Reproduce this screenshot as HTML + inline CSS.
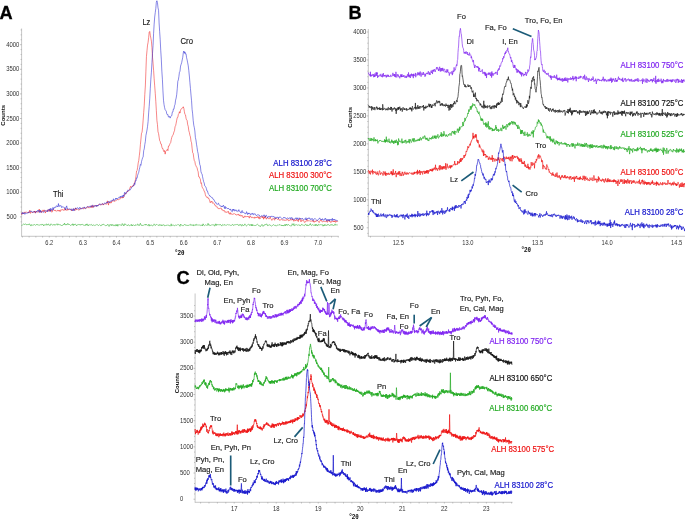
<!DOCTYPE html>
<html><head><meta charset="utf-8"><title>XRD patterns</title>
<style>
html,body{margin:0;padding:0;background:#fff;width:685px;height:519px;overflow:hidden;font-family:"Liberation Sans",sans-serif;}
svg{display:block;position:absolute;left:0;top:0;will-change:transform;}
</style></head><body>
<svg width="685" height="519" viewBox="0 0 685 519" font-family='"Liberation Sans", sans-serif'><line x1="21.60" y1="28.50" x2="21.60" y2="236.80" stroke="#b8b8b8" stroke-width="0.8"/><line x1="21.60" y1="236.30" x2="338.70" y2="236.30" stroke="#b8b8b8" stroke-width="0.8"/><line x1="20.60" y1="221.82" x2="21.60" y2="221.82" stroke="#888" stroke-width="0.5"/><line x1="20.00" y1="216.90" x2="21.60" y2="216.90" stroke="#888" stroke-width="0.5"/><line x1="20.60" y1="211.98" x2="21.60" y2="211.98" stroke="#888" stroke-width="0.5"/><line x1="20.60" y1="207.06" x2="21.60" y2="207.06" stroke="#888" stroke-width="0.5"/><line x1="20.60" y1="202.14" x2="21.60" y2="202.14" stroke="#888" stroke-width="0.5"/><line x1="20.60" y1="197.22" x2="21.60" y2="197.22" stroke="#888" stroke-width="0.5"/><line x1="20.00" y1="192.30" x2="21.60" y2="192.30" stroke="#888" stroke-width="0.5"/><line x1="20.60" y1="187.38" x2="21.60" y2="187.38" stroke="#888" stroke-width="0.5"/><line x1="20.60" y1="182.46" x2="21.60" y2="182.46" stroke="#888" stroke-width="0.5"/><line x1="20.60" y1="177.54" x2="21.60" y2="177.54" stroke="#888" stroke-width="0.5"/><line x1="20.60" y1="172.62" x2="21.60" y2="172.62" stroke="#888" stroke-width="0.5"/><line x1="20.00" y1="167.70" x2="21.60" y2="167.70" stroke="#888" stroke-width="0.5"/><line x1="20.60" y1="162.78" x2="21.60" y2="162.78" stroke="#888" stroke-width="0.5"/><line x1="20.60" y1="157.86" x2="21.60" y2="157.86" stroke="#888" stroke-width="0.5"/><line x1="20.60" y1="152.94" x2="21.60" y2="152.94" stroke="#888" stroke-width="0.5"/><line x1="20.60" y1="148.02" x2="21.60" y2="148.02" stroke="#888" stroke-width="0.5"/><line x1="20.00" y1="143.10" x2="21.60" y2="143.10" stroke="#888" stroke-width="0.5"/><line x1="20.60" y1="138.18" x2="21.60" y2="138.18" stroke="#888" stroke-width="0.5"/><line x1="20.60" y1="133.26" x2="21.60" y2="133.26" stroke="#888" stroke-width="0.5"/><line x1="20.60" y1="128.34" x2="21.60" y2="128.34" stroke="#888" stroke-width="0.5"/><line x1="20.60" y1="123.42" x2="21.60" y2="123.42" stroke="#888" stroke-width="0.5"/><line x1="20.00" y1="118.50" x2="21.60" y2="118.50" stroke="#888" stroke-width="0.5"/><line x1="20.60" y1="113.58" x2="21.60" y2="113.58" stroke="#888" stroke-width="0.5"/><line x1="20.60" y1="108.66" x2="21.60" y2="108.66" stroke="#888" stroke-width="0.5"/><line x1="20.60" y1="103.74" x2="21.60" y2="103.74" stroke="#888" stroke-width="0.5"/><line x1="20.60" y1="98.82" x2="21.60" y2="98.82" stroke="#888" stroke-width="0.5"/><line x1="20.00" y1="93.90" x2="21.60" y2="93.90" stroke="#888" stroke-width="0.5"/><line x1="20.60" y1="88.98" x2="21.60" y2="88.98" stroke="#888" stroke-width="0.5"/><line x1="20.60" y1="84.06" x2="21.60" y2="84.06" stroke="#888" stroke-width="0.5"/><line x1="20.60" y1="79.14" x2="21.60" y2="79.14" stroke="#888" stroke-width="0.5"/><line x1="20.60" y1="74.22" x2="21.60" y2="74.22" stroke="#888" stroke-width="0.5"/><line x1="20.00" y1="69.30" x2="21.60" y2="69.30" stroke="#888" stroke-width="0.5"/><line x1="20.60" y1="64.38" x2="21.60" y2="64.38" stroke="#888" stroke-width="0.5"/><line x1="20.60" y1="59.46" x2="21.60" y2="59.46" stroke="#888" stroke-width="0.5"/><line x1="20.60" y1="54.54" x2="21.60" y2="54.54" stroke="#888" stroke-width="0.5"/><line x1="20.60" y1="49.62" x2="21.60" y2="49.62" stroke="#888" stroke-width="0.5"/><line x1="20.00" y1="44.70" x2="21.60" y2="44.70" stroke="#888" stroke-width="0.5"/><line x1="20.60" y1="39.78" x2="21.60" y2="39.78" stroke="#888" stroke-width="0.5"/><line x1="20.60" y1="34.86" x2="21.60" y2="34.86" stroke="#888" stroke-width="0.5"/><line x1="20.60" y1="29.94" x2="21.60" y2="29.94" stroke="#888" stroke-width="0.5"/><text x="6.20" y="194.40" font-size="6.70" fill="#333" font-weight="normal" text-anchor="start" textLength="13.20" lengthAdjust="spacingAndGlyphs" >1000</text><text x="6.20" y="169.80" font-size="6.70" fill="#333" font-weight="normal" text-anchor="start" textLength="13.20" lengthAdjust="spacingAndGlyphs" >1500</text><text x="6.20" y="145.20" font-size="6.70" fill="#333" font-weight="normal" text-anchor="start" textLength="13.20" lengthAdjust="spacingAndGlyphs" >2000</text><text x="6.20" y="120.60" font-size="6.70" fill="#333" font-weight="normal" text-anchor="start" textLength="13.20" lengthAdjust="spacingAndGlyphs" >2500</text><text x="6.20" y="96.00" font-size="6.70" fill="#333" font-weight="normal" text-anchor="start" textLength="13.20" lengthAdjust="spacingAndGlyphs" >3000</text><text x="6.20" y="71.40" font-size="6.70" fill="#333" font-weight="normal" text-anchor="start" textLength="13.20" lengthAdjust="spacingAndGlyphs" >3500</text><text x="6.20" y="46.80" font-size="6.70" fill="#333" font-weight="normal" text-anchor="start" textLength="13.20" lengthAdjust="spacingAndGlyphs" >4000</text><text x="6.60" y="219.00" font-size="6.70" fill="#333" font-weight="normal" text-anchor="start" textLength="9.90" lengthAdjust="spacingAndGlyphs" >500</text><line x1="22.42" y1="236.30" x2="22.42" y2="237.50" stroke="#888" stroke-width="0.5"/><line x1="29.14" y1="236.30" x2="29.14" y2="237.50" stroke="#888" stroke-width="0.5"/><line x1="35.86" y1="236.30" x2="35.86" y2="237.50" stroke="#888" stroke-width="0.5"/><line x1="42.58" y1="236.30" x2="42.58" y2="237.50" stroke="#888" stroke-width="0.5"/><line x1="49.30" y1="236.30" x2="49.30" y2="237.50" stroke="#888" stroke-width="0.5"/><line x1="56.02" y1="236.30" x2="56.02" y2="237.50" stroke="#888" stroke-width="0.5"/><line x1="62.74" y1="236.30" x2="62.74" y2="237.50" stroke="#888" stroke-width="0.5"/><line x1="69.46" y1="236.30" x2="69.46" y2="237.50" stroke="#888" stroke-width="0.5"/><line x1="76.18" y1="236.30" x2="76.18" y2="237.50" stroke="#888" stroke-width="0.5"/><line x1="82.90" y1="236.30" x2="82.90" y2="237.50" stroke="#888" stroke-width="0.5"/><line x1="89.62" y1="236.30" x2="89.62" y2="237.50" stroke="#888" stroke-width="0.5"/><line x1="96.34" y1="236.30" x2="96.34" y2="237.50" stroke="#888" stroke-width="0.5"/><line x1="103.06" y1="236.30" x2="103.06" y2="237.50" stroke="#888" stroke-width="0.5"/><line x1="109.78" y1="236.30" x2="109.78" y2="237.50" stroke="#888" stroke-width="0.5"/><line x1="116.50" y1="236.30" x2="116.50" y2="237.50" stroke="#888" stroke-width="0.5"/><line x1="123.22" y1="236.30" x2="123.22" y2="237.50" stroke="#888" stroke-width="0.5"/><line x1="129.94" y1="236.30" x2="129.94" y2="237.50" stroke="#888" stroke-width="0.5"/><line x1="136.66" y1="236.30" x2="136.66" y2="237.50" stroke="#888" stroke-width="0.5"/><line x1="143.38" y1="236.30" x2="143.38" y2="237.50" stroke="#888" stroke-width="0.5"/><line x1="150.10" y1="236.30" x2="150.10" y2="237.50" stroke="#888" stroke-width="0.5"/><line x1="156.82" y1="236.30" x2="156.82" y2="237.50" stroke="#888" stroke-width="0.5"/><line x1="163.54" y1="236.30" x2="163.54" y2="237.50" stroke="#888" stroke-width="0.5"/><line x1="170.26" y1="236.30" x2="170.26" y2="237.50" stroke="#888" stroke-width="0.5"/><line x1="176.98" y1="236.30" x2="176.98" y2="237.50" stroke="#888" stroke-width="0.5"/><line x1="183.70" y1="236.30" x2="183.70" y2="237.50" stroke="#888" stroke-width="0.5"/><line x1="190.42" y1="236.30" x2="190.42" y2="237.50" stroke="#888" stroke-width="0.5"/><line x1="197.14" y1="236.30" x2="197.14" y2="237.50" stroke="#888" stroke-width="0.5"/><line x1="203.86" y1="236.30" x2="203.86" y2="237.50" stroke="#888" stroke-width="0.5"/><line x1="210.58" y1="236.30" x2="210.58" y2="237.50" stroke="#888" stroke-width="0.5"/><line x1="217.30" y1="236.30" x2="217.30" y2="237.50" stroke="#888" stroke-width="0.5"/><line x1="224.02" y1="236.30" x2="224.02" y2="237.50" stroke="#888" stroke-width="0.5"/><line x1="230.74" y1="236.30" x2="230.74" y2="237.50" stroke="#888" stroke-width="0.5"/><line x1="237.46" y1="236.30" x2="237.46" y2="237.50" stroke="#888" stroke-width="0.5"/><line x1="244.18" y1="236.30" x2="244.18" y2="237.50" stroke="#888" stroke-width="0.5"/><line x1="250.90" y1="236.30" x2="250.90" y2="237.50" stroke="#888" stroke-width="0.5"/><line x1="257.62" y1="236.30" x2="257.62" y2="237.50" stroke="#888" stroke-width="0.5"/><line x1="264.34" y1="236.30" x2="264.34" y2="237.50" stroke="#888" stroke-width="0.5"/><line x1="271.06" y1="236.30" x2="271.06" y2="237.50" stroke="#888" stroke-width="0.5"/><line x1="277.78" y1="236.30" x2="277.78" y2="237.50" stroke="#888" stroke-width="0.5"/><line x1="284.50" y1="236.30" x2="284.50" y2="237.50" stroke="#888" stroke-width="0.5"/><line x1="291.22" y1="236.30" x2="291.22" y2="237.50" stroke="#888" stroke-width="0.5"/><line x1="297.94" y1="236.30" x2="297.94" y2="237.50" stroke="#888" stroke-width="0.5"/><line x1="304.66" y1="236.30" x2="304.66" y2="237.50" stroke="#888" stroke-width="0.5"/><line x1="311.38" y1="236.30" x2="311.38" y2="237.50" stroke="#888" stroke-width="0.5"/><line x1="318.10" y1="236.30" x2="318.10" y2="237.50" stroke="#888" stroke-width="0.5"/><line x1="324.82" y1="236.30" x2="324.82" y2="237.50" stroke="#888" stroke-width="0.5"/><line x1="331.54" y1="236.30" x2="331.54" y2="237.50" stroke="#888" stroke-width="0.5"/><line x1="338.26" y1="236.30" x2="338.26" y2="237.50" stroke="#888" stroke-width="0.5"/><text x="49.30" y="244.80" font-size="6.70" fill="#333" font-weight="normal" text-anchor="middle" textLength="7.90" lengthAdjust="spacingAndGlyphs" >6.2</text><text x="82.90" y="244.80" font-size="6.70" fill="#333" font-weight="normal" text-anchor="middle" textLength="7.90" lengthAdjust="spacingAndGlyphs" >6.3</text><text x="116.50" y="244.80" font-size="6.70" fill="#333" font-weight="normal" text-anchor="middle" textLength="7.90" lengthAdjust="spacingAndGlyphs" >6.4</text><text x="150.10" y="244.80" font-size="6.70" fill="#333" font-weight="normal" text-anchor="middle" textLength="7.90" lengthAdjust="spacingAndGlyphs" >6.5</text><text x="183.70" y="244.80" font-size="6.70" fill="#333" font-weight="normal" text-anchor="middle" textLength="7.90" lengthAdjust="spacingAndGlyphs" >6.6</text><text x="217.30" y="244.80" font-size="6.70" fill="#333" font-weight="normal" text-anchor="middle" textLength="7.90" lengthAdjust="spacingAndGlyphs" >6.7</text><text x="250.90" y="244.80" font-size="6.70" fill="#333" font-weight="normal" text-anchor="middle" textLength="7.90" lengthAdjust="spacingAndGlyphs" >6.8</text><text x="284.50" y="244.80" font-size="6.70" fill="#333" font-weight="normal" text-anchor="middle" textLength="7.90" lengthAdjust="spacingAndGlyphs" >6.9</text><text x="318.10" y="244.80" font-size="6.70" fill="#333" font-weight="normal" text-anchor="middle" textLength="7.90" lengthAdjust="spacingAndGlyphs" >7.0</text><text x="179.80" y="255.00" font-size="6.30" fill="#111" font-weight="bold" text-anchor="middle" >°2θ</text><text x="5.20" y="115.30" font-size="6.00" fill="#111" font-weight="bold" text-anchor="middle" transform="rotate(-90 5.2 115.3)">Counts</text><text x="-0.50" y="18.90" font-size="18.20" fill="#000" font-weight="bold" text-anchor="start" stroke="#000" stroke-width="0.3">A</text><path d="M21.60 225.37L22.15 225.47L22.70 224.64L23.25 224.15L23.80 223.95L24.35 224.63L24.90 224.00L25.45 223.75L26.00 224.74L26.55 224.70L27.10 224.95L27.65 224.08L28.20 224.63L28.75 224.59L29.30 223.73L29.85 224.96L30.40 224.83L30.95 226.07L31.50 224.76L32.05 224.56L32.60 225.38L33.15 224.77L33.70 225.20L34.25 224.43L34.80 224.79L35.35 225.27L35.90 225.08L36.45 224.74L37.00 224.01L37.55 224.93L38.10 224.72L38.65 225.10L39.20 224.80L39.75 225.33L40.30 224.65L40.85 224.80L41.40 225.08L41.95 224.03L42.50 224.45L43.05 224.39L43.60 225.88L44.15 224.64L44.70 225.09L45.25 225.07L45.80 224.54L46.35 223.78L46.90 225.29L47.45 224.47L48.00 225.14L48.55 223.93L49.10 224.46L49.65 225.48L50.20 225.58L50.75 223.95L51.30 223.93L51.85 224.70L52.40 225.17L52.95 224.83L53.50 224.92L54.05 224.15L54.60 225.10L55.15 225.42L55.70 224.49L56.25 223.89L56.80 224.30L57.35 225.21L57.90 223.72L58.45 224.71L59.00 224.17L59.55 224.69L60.10 224.62L60.65 224.78L61.20 225.67L61.75 225.03L62.30 225.58L62.85 224.70L63.40 224.50L63.95 225.01L64.50 223.09L65.05 224.77L65.60 224.89L66.15 224.05L66.70 225.08L67.25 224.46L67.80 223.33L68.35 224.68L68.90 224.22L69.45 224.50L70.00 224.72L70.55 225.56L71.10 224.88L71.65 224.80L72.20 225.05L72.75 223.73L73.30 225.57L73.85 224.18L74.40 225.09L74.95 224.15L75.50 224.25L76.05 224.60L76.60 225.97L77.15 225.26L77.70 224.48L78.25 224.67L78.80 224.15L79.35 224.83L79.90 224.50L80.45 225.28L81.00 224.04L81.55 224.65L82.10 224.35L82.65 224.43L83.20 225.29L83.75 224.94L84.30 225.21L84.85 225.58L85.40 225.56L85.95 224.04L86.50 225.19L87.05 223.81L87.60 224.83L88.15 226.02L88.70 224.76L89.25 224.65L89.80 224.98L90.35 224.89L90.90 224.90L91.45 224.43L92.00 225.53L92.55 225.42L93.10 224.76L93.65 225.08L94.20 225.28L94.75 225.51L95.30 225.13L95.85 225.31L96.40 224.74L96.95 224.25L97.50 224.60L98.05 225.51L98.60 225.48L99.15 224.99L99.70 224.56L100.25 225.09L100.80 225.90L101.35 225.71L101.90 224.49L102.45 224.88L103.00 224.03L103.55 224.22L104.10 225.02L104.65 224.92L105.20 225.49L105.75 225.67L106.30 225.41L106.85 225.70L107.40 224.58L107.95 224.23L108.50 225.21L109.05 226.52L109.60 225.13L110.15 224.22L110.70 225.06L111.25 225.77L111.80 224.30L112.35 225.40L112.90 224.55L113.45 225.68L114.00 225.39L114.55 225.10L115.10 226.12L115.65 224.68L116.20 224.51L116.75 226.04L117.30 224.40L117.85 226.24L118.40 224.90L118.95 224.30L119.50 224.93L120.05 225.01L120.60 225.05L121.15 224.81L121.70 225.58L122.25 223.54L122.80 224.60L123.35 224.77L123.90 226.02L124.45 223.74L125.00 224.73L125.55 224.25L126.10 224.53L126.65 225.32L127.20 225.18L127.75 225.80L128.30 224.58L128.85 225.10L129.40 225.64L129.95 225.48L130.50 224.74L131.05 225.61L131.60 224.38L132.15 226.02L132.70 225.03L133.25 224.87L133.80 225.10L134.35 225.45L134.90 225.99L135.45 224.86L136.00 224.72L136.55 225.29L137.10 224.42L137.65 223.93L138.20 225.45L138.75 224.72L139.30 225.62L139.85 224.33L140.40 223.21L140.95 225.12L141.50 225.04L142.05 225.91L142.60 225.26L143.15 225.13L143.70 225.30L144.25 224.73L144.80 225.00L145.35 224.14L145.90 225.26L146.45 224.47L147.00 224.68L147.55 225.37L148.10 225.50L148.65 224.35L149.20 226.16L149.75 224.60L150.30 225.45L150.85 225.52L151.40 225.09L151.95 225.06L152.50 226.03L153.05 225.49L153.60 225.22L154.15 223.86L154.70 224.51L155.25 225.66L155.80 225.07L156.35 224.39L156.90 224.57L157.45 224.78L158.00 225.37L158.55 225.19L159.10 225.56L159.65 224.47L160.20 225.55L160.75 224.66L161.30 224.78L161.85 226.00L162.40 225.01L162.95 224.88L163.50 224.84L164.05 224.73L164.60 225.90L165.15 225.79L165.70 225.40L166.25 225.08L166.80 225.59L167.35 224.92L167.90 225.24L168.45 225.21L169.00 225.02L169.55 225.96L170.10 226.02L170.65 225.76L171.20 223.82L171.75 226.07L172.30 225.39L172.85 224.70L173.40 224.96L173.95 225.66L174.50 225.68L175.05 225.49L175.60 225.06L176.15 225.00L176.70 225.47L177.25 224.92L177.80 224.44L178.35 224.60L178.90 224.89L179.45 225.18L180.00 226.34L180.55 224.16L181.10 225.26L181.65 224.92L182.20 225.16L182.75 225.79L183.30 225.73L183.85 224.89L184.40 224.65L184.95 224.16L185.50 224.94L186.05 225.73L186.60 224.83L187.15 225.41L187.70 225.41L188.25 225.22L188.80 225.64L189.35 224.92L189.90 224.49L190.45 224.28L191.00 225.55L191.55 224.77L192.10 224.80L192.65 225.49L193.20 224.52L193.75 226.05L194.30 225.39L194.85 224.68L195.40 224.61L195.95 225.64L196.50 224.29L197.05 224.61L197.60 225.00L198.15 225.12L198.70 225.01L199.25 225.23L199.80 224.78L200.35 224.93L200.90 225.76L201.45 225.39L202.00 224.73L202.55 226.03L203.10 223.81L203.65 225.06L204.20 225.41L204.75 225.59L205.30 225.07L205.85 224.78L206.40 225.36L206.95 224.89L207.50 225.30L208.05 223.30L208.60 225.24L209.15 224.54L209.70 225.58L210.25 225.46L210.80 225.45L211.35 224.77L211.90 225.28L212.45 224.81L213.00 225.15L213.55 224.94L214.10 224.50L214.65 226.21L215.20 225.46L215.75 223.79L216.30 225.56L216.85 224.19L217.40 224.89L217.95 224.68L218.50 224.71L219.05 225.17L219.60 224.84L220.15 224.16L220.70 225.03L221.25 225.25L221.80 226.10L222.35 224.79L222.90 224.32L223.45 224.81L224.00 225.43L224.55 224.51L225.10 224.61L225.65 225.37L226.20 225.04L226.75 225.18L227.30 224.67L227.85 224.55L228.40 224.85L228.95 224.96L229.50 224.85L230.05 225.31L230.60 225.38L231.15 225.38L231.70 225.34L232.25 224.52L232.80 224.38L233.35 225.54L233.90 225.07L234.45 225.13L235.00 224.36L235.55 224.93L236.10 224.68L236.65 224.54L237.20 224.69L237.75 224.17L238.30 225.12L238.85 225.77L239.40 224.64L239.95 225.13L240.50 224.42L241.05 225.48L241.60 226.19L242.15 224.33L242.70 224.94L243.25 225.93L243.80 225.30L244.35 225.15L244.90 223.85L245.45 224.99L246.00 225.63L246.55 225.95L247.10 225.47L247.65 224.74L248.20 224.68L248.75 224.00L249.30 224.44L249.85 225.76L250.40 225.02L250.95 224.29L251.50 225.89L252.05 224.09L252.60 225.85L253.15 224.91L253.70 225.30L254.25 225.51L254.80 225.26L255.35 225.87L255.90 225.11L256.45 224.91L257.00 224.71L257.55 224.24L258.10 224.69L258.65 225.70L259.20 225.61L259.75 225.95L260.30 226.75L260.85 225.54L261.40 225.42L261.95 224.33L262.50 224.97L263.05 226.44L263.60 225.44L264.15 225.04L264.70 225.31L265.25 223.99L265.80 224.63L266.35 224.34L266.90 223.85L267.45 225.59L268.00 225.71L268.55 225.03L269.10 225.34L269.65 224.53L270.20 225.41L270.75 225.60L271.30 226.06L271.85 226.08L272.40 225.44L272.95 225.07L273.50 224.65L274.05 224.78L274.60 225.52L275.15 225.49L275.70 225.16L276.25 226.15L276.80 225.54L277.35 225.17L277.90 225.04L278.45 225.20L279.00 224.59L279.55 224.57L280.10 225.37L280.65 224.81L281.20 225.00L281.75 225.90L282.30 225.05L282.85 225.96L283.40 225.17L283.95 226.08L284.50 225.45L285.05 224.12L285.60 225.92L286.15 225.05L286.70 224.00L287.25 225.25L287.80 225.27L288.35 224.41L288.90 224.82L289.45 225.51L290.00 226.03L290.55 225.87L291.10 225.92L291.65 225.86L292.20 223.70L292.75 224.76L293.30 225.31L293.85 223.58L294.40 225.66L294.95 225.73L295.50 224.73L296.05 224.97L296.60 224.64L297.15 225.19L297.70 225.18L298.25 225.20L298.80 224.60L299.35 225.44L299.90 225.01L300.45 225.78L301.00 225.40L301.55 224.32L302.10 224.35L302.65 225.26L303.20 224.93L303.75 225.50L304.30 225.71L304.85 225.23L305.40 224.21L305.95 224.51L306.50 225.57L307.05 224.60L307.60 225.90L308.15 225.18L308.70 225.54L309.25 224.70L309.80 225.17L310.35 223.46L310.90 225.11L311.45 225.58L312.00 224.70L312.55 224.74L313.10 225.21L313.65 225.28L314.20 224.76L314.75 225.65L315.30 224.26L315.85 225.92L316.40 224.41L316.95 224.76L317.50 226.05L318.05 224.66L318.60 224.26L319.15 225.30L319.70 224.71L320.25 224.59L320.80 224.84L321.35 224.82L321.90 224.68L322.45 224.65L323.00 226.23L323.55 224.86L324.10 225.85L324.65 224.43L325.20 225.60L325.75 224.52L326.30 225.00L326.85 225.66L327.40 224.96L327.95 224.10L328.50 224.95L329.05 225.19L329.60 225.63L330.15 224.68L330.70 225.10L331.25 225.32L331.80 224.30L332.35 225.22L332.90 224.79L333.45 225.55L334.00 225.23L334.55 225.19L335.10 223.84L335.65 225.23L336.20 225.07L336.75 224.73L337.30 224.99L337.85 224.54" fill="none" stroke="#22aa22" stroke-width="0.5" stroke-linejoin="round" opacity="1"/><path d="M21.60 214.98L22.15 212.65L22.70 213.41L23.25 213.18L23.80 213.66L24.35 211.92L24.90 212.63L25.45 212.33L26.00 212.04L26.55 212.17L27.10 212.37L27.65 212.50L28.20 211.99L28.75 212.95L29.30 212.17L29.85 210.11L30.40 213.40L30.95 212.15L31.50 211.84L32.05 212.57L32.60 212.49L33.15 212.31L33.70 211.58L34.25 212.33L34.80 210.97L35.35 213.20L35.90 211.09L36.45 211.85L37.00 211.98L37.55 212.09L38.10 211.69L38.65 212.21L39.20 209.03L39.75 211.58L40.30 211.50L40.85 211.25L41.40 212.70L41.95 210.75L42.50 211.39L43.05 209.86L43.60 211.59L44.15 210.10L44.70 210.10L45.25 213.08L45.80 211.77L46.35 211.19L46.90 211.29L47.45 210.02L48.00 210.29L48.55 211.39L49.10 209.40L49.65 211.22L50.20 209.64L50.75 211.04L51.30 210.06L51.85 212.25L52.40 211.65L52.95 210.44L53.50 209.35L54.05 210.17L54.60 210.71L55.15 209.95L55.70 210.91L56.25 211.43L56.80 210.59L57.35 210.26L57.90 211.17L58.45 210.29L59.00 211.14L59.55 210.20L60.10 211.66L60.65 210.15L61.20 209.49L61.75 210.35L62.30 209.74L62.85 209.45L63.40 210.03L63.95 210.67L64.50 208.35L65.05 209.95L65.60 209.81L66.15 209.76L66.70 210.45L67.25 208.75L67.80 210.23L68.35 209.48L68.90 209.69L69.45 209.37L70.00 209.23L70.55 209.02L71.10 209.69L71.65 210.95L72.20 210.08L72.75 209.86L73.30 209.57L73.85 208.71L74.40 209.49L74.95 210.58L75.50 207.90L76.05 209.49L76.60 209.58L77.15 208.95L77.70 209.28L78.25 209.69L78.80 210.27L79.35 209.50L79.90 209.71L80.45 208.62L81.00 208.94L81.55 208.37L82.10 208.39L82.65 207.73L83.20 208.56L83.75 209.09L84.30 207.76L84.85 208.01L85.40 208.23L85.95 207.68L86.50 208.32L87.05 207.71L87.60 206.52L88.15 206.55L88.70 207.83L89.25 207.67L89.80 207.95L90.35 207.20L90.90 207.07L91.45 205.59L92.00 207.81L92.55 205.90L93.10 207.33L93.65 205.51L94.20 205.76L94.75 206.26L95.30 205.67L95.85 205.32L96.40 206.42L96.95 206.10L97.50 205.74L98.05 205.02L98.60 204.49L99.15 204.62L99.70 204.44L100.25 204.70L100.80 205.19L101.35 204.33L101.90 203.72L102.45 203.73L103.00 205.09L103.55 204.10L104.10 204.03L104.65 203.94L105.20 204.07L105.75 203.58L106.30 204.27L106.85 203.86L107.40 200.86L107.95 202.84L108.50 205.12L109.05 201.65L109.60 202.61L110.15 203.20L110.70 202.19L111.25 203.08L111.80 200.88L112.35 200.72L112.90 201.39L113.45 200.79L114.00 200.35L114.55 201.46L115.10 201.04L115.65 200.64L116.20 200.10L116.75 200.42L117.30 199.89L117.85 199.17L118.40 199.90L118.95 199.53L119.50 199.03L120.05 199.22L120.60 197.47L121.15 197.86L121.70 197.15L122.25 198.17L122.80 197.03L123.35 197.79L123.90 196.82L124.45 194.70L125.00 193.54L125.55 194.19L126.10 192.96L126.65 192.43L127.20 191.07L127.75 191.76L128.30 190.79L128.85 190.33L129.40 189.62L129.95 188.03L130.50 186.36L131.05 187.40L131.60 186.56L132.15 186.06L132.70 186.62L133.25 185.00L133.80 185.41L134.35 183.16L134.90 181.93L135.45 179.58L136.00 175.99L136.55 171.12L137.10 170.65L137.65 167.22L138.20 162.99L138.75 160.45L139.30 155.80L139.85 151.16L140.40 144.60L140.95 139.05L141.50 133.16L142.05 132.19L142.60 127.10L143.15 120.11L143.70 112.52L144.25 105.11L144.80 94.30L145.35 85.99L145.90 71.17L146.45 56.55L147.00 50.57L147.55 45.08L148.10 42.29L148.65 37.65L149.20 32.10L149.75 31.43L150.30 35.21L150.85 38.06L151.40 41.14L151.95 47.55L152.50 57.09L153.05 63.19L153.60 70.35L154.15 78.85L154.70 85.90L155.25 93.25L155.80 101.41L156.35 110.56L156.90 120.39L157.45 124.49L158.00 131.77L158.55 133.50L159.10 137.14L159.65 140.57L160.20 141.42L160.75 143.88L161.30 143.99L161.85 146.96L162.40 148.59L162.95 148.51L163.50 150.98L164.05 151.76L164.60 150.46L165.15 154.13L165.70 151.36L166.25 150.77L166.80 149.92L167.35 149.31L167.90 150.71L168.45 146.16L169.00 146.26L169.55 144.73L170.10 143.45L170.65 142.72L171.20 139.80L171.75 137.52L172.30 135.88L172.85 135.44L173.40 133.99L173.95 131.95L174.50 130.75L175.05 126.69L175.60 125.82L176.15 123.23L176.70 120.20L177.25 117.60L177.80 117.36L178.35 114.52L178.90 113.60L179.45 111.70L180.00 113.07L180.55 110.29L181.10 108.93L181.65 108.44L182.20 107.98L182.75 108.09L183.30 106.75L183.85 108.43L184.40 111.76L184.95 114.47L185.50 114.88L186.05 118.35L186.60 119.96L187.15 120.57L187.70 124.70L188.25 126.42L188.80 130.75L189.35 132.41L189.90 135.30L190.45 136.85L191.00 141.23L191.55 142.71L192.10 148.20L192.65 152.68L193.20 153.46L193.75 157.79L194.30 160.62L194.85 161.44L195.40 164.65L195.95 165.74L196.50 167.14L197.05 167.70L197.60 170.28L198.15 171.71L198.70 176.74L199.25 176.77L199.80 178.22L200.35 179.05L200.90 183.36L201.45 182.75L202.00 186.61L202.55 187.92L203.10 188.67L203.65 189.57L204.20 191.46L204.75 191.72L205.30 194.46L205.85 196.31L206.40 196.56L206.95 197.49L207.50 196.88L208.05 198.42L208.60 198.08L209.15 199.21L209.70 200.79L210.25 202.81L210.80 201.50L211.35 202.04L211.90 201.08L212.45 203.23L213.00 202.88L213.55 202.98L214.10 203.37L214.65 205.09L215.20 205.09L215.75 206.33L216.30 206.02L216.85 206.57L217.40 208.08L217.95 207.92L218.50 208.23L219.05 209.12L219.60 208.48L220.15 207.88L220.70 208.36L221.25 208.08L221.80 209.87L222.35 209.59L222.90 210.59L223.45 211.13L224.00 210.16L224.55 211.20L225.10 212.30L225.65 211.65L226.20 212.56L226.75 211.94L227.30 211.61L227.85 212.39L228.40 211.35L228.95 213.55L229.50 212.82L230.05 214.43L230.60 212.66L231.15 213.87L231.70 214.21L232.25 213.95L232.80 214.55L233.35 213.83L233.90 213.71L234.45 213.58L235.00 214.34L235.55 214.26L236.10 215.17L236.65 214.82L237.20 214.70L237.75 214.74L238.30 213.95L238.85 215.21L239.40 215.89L239.95 214.65L240.50 215.55L241.05 216.34L241.60 215.38L242.15 216.13L242.70 215.73L243.25 218.00L243.80 217.26L244.35 217.17L244.90 215.82L245.45 216.89L246.00 216.34L246.55 216.80L247.10 216.15L247.65 216.77L248.20 216.13L248.75 216.99L249.30 218.17L249.85 215.84L250.40 215.94L250.95 217.38L251.50 217.66L252.05 216.82L252.60 217.61L253.15 217.53L253.70 217.68L254.25 218.36L254.80 216.86L255.35 217.90L255.90 217.60L256.45 216.96L257.00 217.91L257.55 216.58L258.10 216.49L258.65 218.48L259.20 216.86L259.75 219.03L260.30 218.58L260.85 217.43L261.40 217.19L261.95 216.20L262.50 217.88L263.05 216.73L263.60 219.22L264.15 216.78L264.70 218.15L265.25 216.06L265.80 217.91L266.35 219.23L266.90 217.92L267.45 217.67L268.00 217.98L268.55 218.67L269.10 219.10L269.65 218.29L270.20 216.95L270.75 218.79L271.30 219.35L271.85 220.41L272.40 218.83L272.95 218.88L273.50 218.38L274.05 219.42L274.60 220.24L275.15 218.18L275.70 219.06L276.25 218.25L276.80 218.57L277.35 219.00L277.90 219.57L278.45 218.61L279.00 219.07L279.55 220.39L280.10 219.78L280.65 219.98L281.20 219.79L281.75 219.39L282.30 219.91L282.85 220.03L283.40 219.67L283.95 220.50L284.50 219.76L285.05 220.49L285.60 219.86L286.15 220.44L286.70 219.40L287.25 219.52L287.80 219.10L288.35 220.93L288.90 220.43L289.45 220.23L290.00 220.57L290.55 219.49L291.10 220.22L291.65 219.78L292.20 218.76L292.75 220.00L293.30 219.56L293.85 221.33L294.40 219.69L294.95 219.81L295.50 221.05L296.05 220.31L296.60 219.31L297.15 220.52L297.70 219.79L298.25 221.68L298.80 219.58L299.35 219.84L299.90 218.33L300.45 219.92L301.00 221.88L301.55 220.37L302.10 219.75L302.65 220.71L303.20 220.28L303.75 220.49L304.30 222.43L304.85 222.08L305.40 221.78L305.95 221.85L306.50 219.89L307.05 219.12L307.60 221.19L308.15 220.94L308.70 220.69L309.25 220.58L309.80 221.24L310.35 221.14L310.90 220.92L311.45 221.12L312.00 220.61L312.55 220.50L313.10 221.86L313.65 220.63L314.20 222.36L314.75 221.35L315.30 220.92L315.85 221.75L316.40 220.54L316.95 220.79L317.50 220.69L318.05 220.97L318.60 221.51L319.15 222.60L319.70 221.43L320.25 220.24L320.80 220.44L321.35 219.71L321.90 221.66L322.45 221.80L323.00 221.40L323.55 221.44L324.10 221.59L324.65 221.53L325.20 221.72L325.75 221.42L326.30 220.52L326.85 222.01L327.40 222.33L327.95 220.08L328.50 221.18L329.05 220.51L329.60 221.78L330.15 221.19L330.70 222.52L331.25 222.30L331.80 221.12L332.35 221.13L332.90 221.07L333.45 221.97L334.00 220.84L334.55 221.91L335.10 220.53L335.65 222.41L336.20 222.00L336.75 220.77L337.30 221.08L337.85 221.80" fill="none" stroke="#ee1111" stroke-width="0.5" stroke-linejoin="round" opacity="1"/><path d="M21.60 213.27L22.15 214.10L22.70 212.40L23.25 213.81L23.80 212.82L24.35 212.77L24.90 214.36L25.45 212.99L26.00 212.79L26.55 213.33L27.10 213.59L27.65 212.66L28.20 213.09L28.75 211.86L29.30 212.28L29.85 212.18L30.40 211.46L30.95 211.28L31.50 211.15L32.05 212.17L32.60 212.18L33.15 212.03L33.70 212.29L34.25 211.18L34.80 212.10L35.35 212.31L35.90 212.66L36.45 211.41L37.00 211.71L37.55 210.44L38.10 211.55L38.65 210.22L39.20 210.78L39.75 212.66L40.30 210.10L40.85 212.35L41.40 211.95L41.95 211.43L42.50 211.99L43.05 212.00L43.60 212.36L44.15 211.34L44.70 211.02L45.25 210.96L45.80 210.61L46.35 211.26L46.90 210.61L47.45 211.91L48.00 209.54L48.55 209.98L49.10 209.91L49.65 208.85L50.20 211.71L50.75 208.19L51.30 209.59L51.85 209.16L52.40 210.57L52.95 207.43L53.50 209.38L54.05 207.59L54.60 207.64L55.15 206.89L55.70 207.52L56.25 205.75L56.80 206.17L57.35 206.15L57.90 207.02L58.45 203.57L59.00 206.59L59.55 206.23L60.10 205.30L60.65 206.13L61.20 205.79L61.75 207.67L62.30 206.79L62.85 206.75L63.40 207.06L63.95 207.42L64.50 207.75L65.05 207.49L65.60 209.98L66.15 207.06L66.70 205.87L67.25 208.65L67.80 208.73L68.35 209.22L68.90 208.86L69.45 208.97L70.00 209.41L70.55 209.95L71.10 208.91L71.65 208.99L72.20 210.79L72.75 209.71L73.30 208.53L73.85 211.03L74.40 209.79L74.95 208.68L75.50 208.15L76.05 209.19L76.60 208.23L77.15 207.96L77.70 207.68L78.25 208.19L78.80 209.33L79.35 208.06L79.90 207.20L80.45 208.76L81.00 208.22L81.55 208.75L82.10 208.96L82.65 207.84L83.20 207.79L83.75 207.81L84.30 206.90L84.85 208.23L85.40 208.71L85.95 207.72L86.50 207.34L87.05 207.26L87.60 206.79L88.15 206.70L88.70 206.94L89.25 206.52L89.80 206.76L90.35 205.80L90.90 207.20L91.45 206.88L92.00 205.86L92.55 204.88L93.10 206.55L93.65 207.29L94.20 205.75L94.75 205.82L95.30 205.62L95.85 206.43L96.40 205.08L96.95 206.41L97.50 205.26L98.05 206.06L98.60 205.22L99.15 204.86L99.70 203.74L100.25 204.20L100.80 204.37L101.35 204.92L101.90 204.44L102.45 203.54L103.00 204.23L103.55 204.51L104.10 203.45L104.65 203.04L105.20 202.89L105.75 203.65L106.30 203.25L106.85 201.91L107.40 202.74L107.95 201.87L108.50 201.46L109.05 202.82L109.60 202.29L110.15 200.88L110.70 201.30L111.25 201.42L111.80 200.32L112.35 200.51L112.90 200.92L113.45 198.77L114.00 200.21L114.55 200.31L115.10 199.89L115.65 198.20L116.20 199.27L116.75 198.09L117.30 198.96L117.85 198.72L118.40 198.14L118.95 197.08L119.50 196.92L120.05 197.77L120.60 196.06L121.15 196.84L121.70 196.52L122.25 195.55L122.80 197.31L123.35 195.10L123.90 196.37L124.45 192.66L125.00 192.08L125.55 194.23L126.10 193.53L126.65 192.33L127.20 192.08L127.75 190.13L128.30 190.67L128.85 189.85L129.40 190.00L129.95 190.36L130.50 189.14L131.05 188.82L131.60 187.33L132.15 186.88L132.70 186.62L133.25 185.54L133.80 185.99L134.35 183.30L134.90 184.41L135.45 180.77L136.00 181.01L136.55 177.90L137.10 178.21L137.65 175.21L138.20 173.71L138.75 172.28L139.30 169.37L139.85 167.22L140.40 164.50L140.95 165.30L141.50 161.65L142.05 159.63L142.60 157.81L143.15 156.98L143.70 150.66L144.25 148.87L144.80 144.52L145.35 141.51L145.90 135.63L146.45 133.00L147.00 130.03L147.55 126.37L148.10 121.48L148.65 112.93L149.20 106.47L149.75 98.20L150.30 88.26L150.85 79.14L151.40 72.18L151.95 62.66L152.50 53.38L153.05 45.58L153.60 33.21L154.15 24.15L154.70 16.99L155.25 12.67L155.80 8.55L156.35 2.17L156.90 0.74L157.45 2.51L158.00 7.82L158.55 10.24L159.10 22.90L159.65 31.60L160.20 39.63L160.75 50.72L161.30 59.12L161.85 71.17L162.40 79.20L162.95 90.88L163.50 100.31L164.05 104.71L164.60 107.62L165.15 109.72L165.70 110.41L166.25 111.22L166.80 113.94L167.35 114.79L167.90 114.47L168.45 117.00L169.00 116.96L169.55 116.45L170.10 118.12L170.65 116.52L171.20 116.09L171.75 115.74L172.30 112.14L172.85 112.01L173.40 109.02L173.95 109.18L174.50 105.76L175.05 104.35L175.60 100.13L176.15 98.09L176.70 94.70L177.25 88.80L177.80 81.30L178.35 79.93L178.90 76.53L179.45 72.22L180.00 71.22L180.55 66.07L181.10 64.45L181.65 62.76L182.20 59.97L182.75 57.25L183.30 52.75L183.85 51.01L184.40 53.32L184.95 51.92L185.50 54.02L186.05 53.77L186.60 57.79L187.15 60.02L187.70 62.89L188.25 65.85L188.80 70.59L189.35 76.00L189.90 82.47L190.45 88.43L191.00 95.06L191.55 100.74L192.10 109.36L192.65 113.88L193.20 120.38L193.75 125.13L194.30 127.54L194.85 130.96L195.40 137.60L195.95 140.00L196.50 144.21L197.05 147.56L197.60 151.42L198.15 153.66L198.70 157.96L199.25 161.02L199.80 164.69L200.35 165.82L200.90 171.29L201.45 173.28L202.00 173.73L202.55 176.65L203.10 179.29L203.65 181.69L204.20 182.99L204.75 185.83L205.30 186.33L205.85 187.00L206.40 188.64L206.95 191.05L207.50 191.09L208.05 193.26L208.60 194.33L209.15 194.87L209.70 196.07L210.25 195.94L210.80 196.86L211.35 197.15L211.90 197.85L212.45 197.78L213.00 199.23L213.55 199.44L214.10 199.74L214.65 201.52L215.20 202.27L215.75 202.13L216.30 203.91L216.85 203.99L217.40 204.46L217.95 203.52L218.50 203.17L219.05 205.08L219.60 205.20L220.15 205.83L220.70 205.89L221.25 206.82L221.80 205.90L222.35 206.90L222.90 205.95L223.45 205.11L224.00 206.79L224.55 208.53L225.10 206.30L225.65 208.60L226.20 207.50L226.75 207.92L227.30 208.46L227.85 208.79L228.40 208.06L228.95 209.09L229.50 209.51L230.05 209.98L230.60 208.93L231.15 210.86L231.70 211.29L232.25 211.83L232.80 209.10L233.35 210.41L233.90 209.00L234.45 210.85L235.00 211.13L235.55 209.96L236.10 209.75L236.65 211.23L237.20 211.69L237.75 210.72L238.30 211.24L238.85 209.62L239.40 211.12L239.95 211.88L240.50 211.99L241.05 213.18L241.60 211.20L242.15 210.45L242.70 212.61L243.25 211.91L243.80 212.67L244.35 213.09L244.90 213.09L245.45 213.83L246.00 213.85L246.55 211.65L247.10 212.96L247.65 214.62L248.20 212.88L248.75 214.02L249.30 213.33L249.85 213.15L250.40 214.77L250.95 214.46L251.50 213.58L252.05 214.56L252.60 212.97L253.15 213.52L253.70 214.85L254.25 214.30L254.80 213.57L255.35 214.81L255.90 214.82L256.45 215.65L257.00 215.50L257.55 214.67L258.10 214.61L258.65 214.97L259.20 215.00L259.75 216.37L260.30 216.56L260.85 216.48L261.40 215.84L261.95 215.46L262.50 216.42L263.05 215.57L263.60 216.10L264.15 214.75L264.70 215.77L265.25 217.26L265.80 215.48L266.35 215.21L266.90 216.29L267.45 217.74L268.00 217.65L268.55 216.36L269.10 216.34L269.65 216.68L270.20 216.12L270.75 216.91L271.30 216.72L271.85 215.89L272.40 216.63L272.95 216.93L273.50 216.53L274.05 216.39L274.60 217.97L275.15 218.77L275.70 217.18L276.25 217.13L276.80 217.88L277.35 217.38L277.90 217.02L278.45 218.70L279.00 216.93L279.55 217.21L280.10 217.30L280.65 217.19L281.20 217.72L281.75 218.37L282.30 219.06L282.85 218.52L283.40 218.10L283.95 217.17L284.50 218.10L285.05 217.48L285.60 218.16L286.15 219.00L286.70 218.46L287.25 218.18L287.80 217.81L288.35 218.39L288.90 218.52L289.45 217.77L290.00 218.12L290.55 219.19L291.10 217.32L291.65 218.26L292.20 217.74L292.75 219.80L293.30 219.12L293.85 219.08L294.40 219.02L294.95 218.96L295.50 218.99L296.05 217.61L296.60 219.01L297.15 219.28L297.70 217.79L298.25 219.50L298.80 219.40L299.35 217.79L299.90 218.60L300.45 218.74L301.00 218.60L301.55 219.30L302.10 218.07L302.65 218.88L303.20 219.24L303.75 219.63L304.30 219.14L304.85 218.95L305.40 219.66L305.95 217.68L306.50 219.88L307.05 218.97L307.60 218.28L308.15 218.92L308.70 217.89L309.25 217.75L309.80 219.05L310.35 218.73L310.90 219.88L311.45 218.69L312.00 218.40L312.55 218.67L313.10 220.68L313.65 219.44L314.20 218.98L314.75 218.71L315.30 218.65L315.85 219.36L316.40 219.82L316.95 220.38L317.50 220.39L318.05 219.75L318.60 219.07L319.15 218.94L319.70 217.87L320.25 218.85L320.80 219.94L321.35 219.39L321.90 219.93L322.45 218.67L323.00 220.36L323.55 219.93L324.10 219.75L324.65 220.03L325.20 218.08L325.75 219.35L326.30 219.11L326.85 221.15L327.40 219.67L327.95 219.45L328.50 220.48L329.05 219.07L329.60 220.93L330.15 219.36L330.70 219.85L331.25 219.23L331.80 220.53L332.35 218.32L332.90 220.47L333.45 219.36L334.00 220.03L334.55 219.15L335.10 220.19L335.65 220.17L336.20 220.49L336.75 220.30L337.30 220.54L337.85 220.84" fill="none" stroke="#1212cc" stroke-width="0.5" stroke-linejoin="round" opacity="1"/><text x="52.90" y="197.20" font-size="8.70" fill="#1e1e1e" font-weight="normal" text-anchor="start" textLength="10.50" lengthAdjust="spacingAndGlyphs" stroke="#1e1e1e" stroke-width="0.18">Thi</text><text x="142.40" y="24.90" font-size="8.40" fill="#1e1e1e" font-weight="normal" text-anchor="start" textLength="7.80" lengthAdjust="spacingAndGlyphs" stroke="#1e1e1e" stroke-width="0.18">Lz</text><text x="180.50" y="43.60" font-size="8.30" fill="#1e1e1e" font-weight="normal" text-anchor="start" textLength="12.50" lengthAdjust="spacingAndGlyphs" stroke="#1e1e1e" stroke-width="0.18">Cro</text><text x="332.00" y="165.80" font-size="8.20" fill="#1212cc" font-weight="normal" text-anchor="end" textLength="58.63" lengthAdjust="spacingAndGlyphs" stroke="#1212cc" stroke-width="0.18">ALH 83100 28°C</text><text x="332.00" y="178.20" font-size="8.20" fill="#ee1111" font-weight="normal" text-anchor="end" textLength="62.97" lengthAdjust="spacingAndGlyphs" stroke="#ee1111" stroke-width="0.18">ALH 83100 300°C</text><text x="332.00" y="190.70" font-size="8.20" fill="#22aa22" font-weight="normal" text-anchor="end" textLength="62.97" lengthAdjust="spacingAndGlyphs" stroke="#22aa22" stroke-width="0.18">ALH 83100 700°C</text><line x1="368.30" y1="29.00" x2="368.30" y2="236.80" stroke="#b8b8b8" stroke-width="0.8"/><line x1="368.30" y1="236.30" x2="685.00" y2="236.30" stroke="#b8b8b8" stroke-width="0.8"/><line x1="367.30" y1="233.39" x2="368.30" y2="233.39" stroke="#888" stroke-width="0.5"/><line x1="366.70" y1="227.80" x2="368.30" y2="227.80" stroke="#888" stroke-width="0.5"/><line x1="367.30" y1="222.21" x2="368.30" y2="222.21" stroke="#888" stroke-width="0.5"/><line x1="367.30" y1="216.61" x2="368.30" y2="216.61" stroke="#888" stroke-width="0.5"/><line x1="367.30" y1="211.02" x2="368.30" y2="211.02" stroke="#888" stroke-width="0.5"/><line x1="367.30" y1="205.42" x2="368.30" y2="205.42" stroke="#888" stroke-width="0.5"/><line x1="366.70" y1="199.83" x2="368.30" y2="199.83" stroke="#888" stroke-width="0.5"/><line x1="367.30" y1="194.24" x2="368.30" y2="194.24" stroke="#888" stroke-width="0.5"/><line x1="367.30" y1="188.64" x2="368.30" y2="188.64" stroke="#888" stroke-width="0.5"/><line x1="367.30" y1="183.05" x2="368.30" y2="183.05" stroke="#888" stroke-width="0.5"/><line x1="367.30" y1="177.45" x2="368.30" y2="177.45" stroke="#888" stroke-width="0.5"/><line x1="366.70" y1="171.86" x2="368.30" y2="171.86" stroke="#888" stroke-width="0.5"/><line x1="367.30" y1="166.27" x2="368.30" y2="166.27" stroke="#888" stroke-width="0.5"/><line x1="367.30" y1="160.67" x2="368.30" y2="160.67" stroke="#888" stroke-width="0.5"/><line x1="367.30" y1="155.08" x2="368.30" y2="155.08" stroke="#888" stroke-width="0.5"/><line x1="367.30" y1="149.48" x2="368.30" y2="149.48" stroke="#888" stroke-width="0.5"/><line x1="366.70" y1="143.89" x2="368.30" y2="143.89" stroke="#888" stroke-width="0.5"/><line x1="367.30" y1="138.30" x2="368.30" y2="138.30" stroke="#888" stroke-width="0.5"/><line x1="367.30" y1="132.70" x2="368.30" y2="132.70" stroke="#888" stroke-width="0.5"/><line x1="367.30" y1="127.11" x2="368.30" y2="127.11" stroke="#888" stroke-width="0.5"/><line x1="367.30" y1="121.51" x2="368.30" y2="121.51" stroke="#888" stroke-width="0.5"/><line x1="366.70" y1="115.92" x2="368.30" y2="115.92" stroke="#888" stroke-width="0.5"/><line x1="367.30" y1="110.33" x2="368.30" y2="110.33" stroke="#888" stroke-width="0.5"/><line x1="367.30" y1="104.73" x2="368.30" y2="104.73" stroke="#888" stroke-width="0.5"/><line x1="367.30" y1="99.14" x2="368.30" y2="99.14" stroke="#888" stroke-width="0.5"/><line x1="367.30" y1="93.54" x2="368.30" y2="93.54" stroke="#888" stroke-width="0.5"/><line x1="366.70" y1="87.95" x2="368.30" y2="87.95" stroke="#888" stroke-width="0.5"/><line x1="367.30" y1="82.36" x2="368.30" y2="82.36" stroke="#888" stroke-width="0.5"/><line x1="367.30" y1="76.76" x2="368.30" y2="76.76" stroke="#888" stroke-width="0.5"/><line x1="367.30" y1="71.17" x2="368.30" y2="71.17" stroke="#888" stroke-width="0.5"/><line x1="367.30" y1="65.57" x2="368.30" y2="65.57" stroke="#888" stroke-width="0.5"/><line x1="366.70" y1="59.98" x2="368.30" y2="59.98" stroke="#888" stroke-width="0.5"/><line x1="367.30" y1="54.39" x2="368.30" y2="54.39" stroke="#888" stroke-width="0.5"/><line x1="367.30" y1="48.79" x2="368.30" y2="48.79" stroke="#888" stroke-width="0.5"/><line x1="367.30" y1="43.20" x2="368.30" y2="43.20" stroke="#888" stroke-width="0.5"/><line x1="367.30" y1="37.60" x2="368.30" y2="37.60" stroke="#888" stroke-width="0.5"/><line x1="366.70" y1="32.01" x2="368.30" y2="32.01" stroke="#888" stroke-width="0.5"/><text x="353.20" y="201.93" font-size="6.70" fill="#333" font-weight="normal" text-anchor="start" textLength="13.20" lengthAdjust="spacingAndGlyphs" >1000</text><text x="353.20" y="173.96" font-size="6.70" fill="#333" font-weight="normal" text-anchor="start" textLength="13.20" lengthAdjust="spacingAndGlyphs" >1500</text><text x="353.20" y="145.99" font-size="6.70" fill="#333" font-weight="normal" text-anchor="start" textLength="13.20" lengthAdjust="spacingAndGlyphs" >2000</text><text x="353.20" y="118.02" font-size="6.70" fill="#333" font-weight="normal" text-anchor="start" textLength="13.20" lengthAdjust="spacingAndGlyphs" >2500</text><text x="353.20" y="90.05" font-size="6.70" fill="#333" font-weight="normal" text-anchor="start" textLength="13.20" lengthAdjust="spacingAndGlyphs" >3000</text><text x="353.20" y="62.08" font-size="6.70" fill="#333" font-weight="normal" text-anchor="start" textLength="13.20" lengthAdjust="spacingAndGlyphs" >3500</text><text x="353.20" y="34.11" font-size="6.70" fill="#333" font-weight="normal" text-anchor="start" textLength="13.20" lengthAdjust="spacingAndGlyphs" >4000</text><text x="353.60" y="229.90" font-size="6.70" fill="#333" font-weight="normal" text-anchor="start" textLength="9.90" lengthAdjust="spacingAndGlyphs" >500</text><line x1="370.46" y1="236.30" x2="370.46" y2="237.50" stroke="#888" stroke-width="0.5"/><line x1="384.38" y1="236.30" x2="384.38" y2="237.50" stroke="#888" stroke-width="0.5"/><line x1="398.30" y1="236.30" x2="398.30" y2="237.50" stroke="#888" stroke-width="0.5"/><line x1="412.22" y1="236.30" x2="412.22" y2="237.50" stroke="#888" stroke-width="0.5"/><line x1="426.14" y1="236.30" x2="426.14" y2="237.50" stroke="#888" stroke-width="0.5"/><line x1="440.06" y1="236.30" x2="440.06" y2="237.50" stroke="#888" stroke-width="0.5"/><line x1="453.98" y1="236.30" x2="453.98" y2="237.50" stroke="#888" stroke-width="0.5"/><line x1="467.90" y1="236.30" x2="467.90" y2="237.50" stroke="#888" stroke-width="0.5"/><line x1="481.82" y1="236.30" x2="481.82" y2="237.50" stroke="#888" stroke-width="0.5"/><line x1="495.74" y1="236.30" x2="495.74" y2="237.50" stroke="#888" stroke-width="0.5"/><line x1="509.66" y1="236.30" x2="509.66" y2="237.50" stroke="#888" stroke-width="0.5"/><line x1="523.58" y1="236.30" x2="523.58" y2="237.50" stroke="#888" stroke-width="0.5"/><line x1="537.50" y1="236.30" x2="537.50" y2="237.50" stroke="#888" stroke-width="0.5"/><line x1="551.42" y1="236.30" x2="551.42" y2="237.50" stroke="#888" stroke-width="0.5"/><line x1="565.34" y1="236.30" x2="565.34" y2="237.50" stroke="#888" stroke-width="0.5"/><line x1="579.26" y1="236.30" x2="579.26" y2="237.50" stroke="#888" stroke-width="0.5"/><line x1="593.18" y1="236.30" x2="593.18" y2="237.50" stroke="#888" stroke-width="0.5"/><line x1="607.10" y1="236.30" x2="607.10" y2="237.50" stroke="#888" stroke-width="0.5"/><line x1="621.02" y1="236.30" x2="621.02" y2="237.50" stroke="#888" stroke-width="0.5"/><line x1="634.94" y1="236.30" x2="634.94" y2="237.50" stroke="#888" stroke-width="0.5"/><line x1="648.86" y1="236.30" x2="648.86" y2="237.50" stroke="#888" stroke-width="0.5"/><line x1="662.78" y1="236.30" x2="662.78" y2="237.50" stroke="#888" stroke-width="0.5"/><line x1="676.70" y1="236.30" x2="676.70" y2="237.50" stroke="#888" stroke-width="0.5"/><text x="398.30" y="245.00" font-size="6.70" fill="#333" font-weight="normal" text-anchor="middle" textLength="11.20" lengthAdjust="spacingAndGlyphs" >12.5</text><text x="467.90" y="245.00" font-size="6.70" fill="#333" font-weight="normal" text-anchor="middle" textLength="11.20" lengthAdjust="spacingAndGlyphs" >13.0</text><text x="537.50" y="245.00" font-size="6.70" fill="#333" font-weight="normal" text-anchor="middle" textLength="11.20" lengthAdjust="spacingAndGlyphs" >13.5</text><text x="607.10" y="245.00" font-size="6.70" fill="#333" font-weight="normal" text-anchor="middle" textLength="11.20" lengthAdjust="spacingAndGlyphs" >14.0</text><text x="676.70" y="245.00" font-size="6.70" fill="#333" font-weight="normal" text-anchor="middle" textLength="11.20" lengthAdjust="spacingAndGlyphs" >14.5</text><text x="526.30" y="252.00" font-size="6.30" fill="#111" font-weight="bold" text-anchor="middle" >°2θ</text><text x="352.30" y="117.30" font-size="6.00" fill="#111" font-weight="bold" text-anchor="middle" transform="rotate(-90 352.3 117.3)">Counts</text><text x="348.40" y="18.90" font-size="18.20" fill="#000" font-weight="bold" text-anchor="start" stroke="#000" stroke-width="0.3">B</text><path d="M368.30 72.48L368.60 73.90L368.90 74.24L369.20 74.49L369.50 75.00L369.80 74.42L370.10 76.15L370.40 71.78L370.70 76.51L371.00 74.61L371.30 76.32L371.60 75.25L371.90 75.03L372.20 75.31L372.50 75.78L372.80 73.96L373.10 74.46L373.40 74.07L373.70 77.23L374.00 75.09L374.30 75.28L374.60 76.98L374.90 73.47L375.20 76.47L375.50 75.26L375.80 75.22L376.10 72.24L376.40 75.87L376.70 72.68L377.00 73.94L377.30 72.53L377.60 77.83L377.90 75.39L378.20 76.41L378.50 76.03L378.80 76.70L379.10 75.38L379.40 74.89L379.70 74.81L380.00 75.86L380.30 75.83L380.60 74.65L380.90 73.85L381.20 76.90L381.50 76.35L381.80 75.56L382.10 75.19L382.40 77.27L382.70 74.25L383.00 75.28L383.30 73.05L383.60 76.54L383.90 76.22L384.20 75.26L384.50 76.14L384.80 75.06L385.10 76.52L385.40 75.60L385.70 74.97L386.00 75.21L386.30 77.50L386.60 75.76L386.90 76.63L387.20 74.66L387.50 75.93L387.80 75.62L388.10 76.96L388.40 74.85L388.70 76.14L389.00 76.29L389.30 76.75L389.60 76.39L389.90 76.86L390.20 76.93L390.50 75.25L390.80 74.79L391.10 76.41L391.40 76.27L391.70 76.45L392.00 76.19L392.30 76.14L392.60 75.31L392.90 72.83L393.20 75.77L393.50 75.72L393.80 74.42L394.10 75.36L394.40 74.13L394.70 76.85L395.00 74.18L395.30 75.23L395.60 77.28L395.90 71.84L396.20 73.62L396.50 74.92L396.80 77.45L397.10 76.53L397.40 75.89L397.70 74.25L398.00 75.52L398.30 74.75L398.60 76.29L398.90 77.18L399.20 76.31L399.50 77.40L399.80 78.32L400.10 76.98L400.40 75.60L400.70 74.40L401.00 77.03L401.30 75.10L401.60 77.14L401.90 74.07L402.20 76.20L402.50 76.99L402.80 75.86L403.10 76.00L403.40 76.86L403.70 75.14L404.00 76.12L404.30 75.66L404.60 76.31L404.90 77.72L405.20 76.48L405.50 76.08L405.80 75.80L406.10 78.04L406.40 76.30L406.70 77.45L407.00 76.40L407.30 74.81L407.60 74.27L407.90 76.30L408.20 77.08L408.50 72.45L408.80 76.16L409.10 74.88L409.40 77.23L409.70 75.86L410.00 74.70L410.30 77.97L410.60 77.10L410.90 74.28L411.20 76.19L411.50 73.67L411.80 74.76L412.10 74.14L412.40 76.04L412.70 76.32L413.00 74.21L413.30 78.13L413.60 73.79L413.90 75.83L414.20 74.63L414.50 75.28L414.80 75.89L415.10 75.64L415.40 72.93L415.70 77.24L416.00 76.17L416.30 75.50L416.60 74.73L416.90 74.93L417.20 73.16L417.50 72.50L417.80 75.39L418.10 74.18L418.40 74.77L418.70 72.58L419.00 74.10L419.30 72.58L419.60 75.37L419.90 75.52L420.20 71.47L420.50 74.22L420.80 75.11L421.10 76.69L421.40 74.34L421.70 74.30L422.00 72.53L422.30 75.14L422.60 74.46L422.90 74.70L423.20 73.54L423.50 72.11L423.80 74.79L424.10 73.69L424.40 74.65L424.70 75.31L425.00 76.78L425.30 74.23L425.60 75.63L425.90 73.56L426.20 73.53L426.50 72.99L426.80 73.70L427.10 72.70L427.40 74.01L427.70 73.90L428.00 74.03L428.30 71.20L428.60 72.80L428.90 73.29L429.20 74.78L429.50 72.49L429.80 73.65L430.10 74.96L430.40 72.53L430.70 72.31L431.00 70.63L431.30 70.47L431.60 72.96L431.90 71.82L432.20 71.56L432.50 74.05L432.80 69.91L433.10 71.33L433.40 69.80L433.70 71.39L434.00 71.18L434.30 69.13L434.60 70.23L434.90 70.77L435.20 71.97L435.50 70.00L435.80 69.57L436.10 69.10L436.40 67.71L436.70 67.04L437.00 69.43L437.30 68.42L437.60 67.43L437.90 67.54L438.20 68.79L438.50 71.02L438.80 69.28L439.10 70.40L439.40 68.52L439.70 66.79L440.00 69.92L440.30 71.54L440.60 69.02L440.90 68.01L441.20 71.24L441.50 70.10L441.80 68.01L442.10 70.75L442.40 70.25L442.70 67.87L443.00 71.04L443.30 71.36L443.60 69.36L443.90 68.81L444.20 69.64L444.50 69.34L444.80 69.30L445.10 72.37L445.40 71.33L445.70 71.07L446.00 71.79L446.30 72.48L446.60 72.48L446.90 69.28L447.20 72.15L447.50 71.12L447.80 69.50L448.10 72.71L448.40 72.48L448.70 72.28L449.00 73.15L449.30 75.59L449.60 74.12L449.90 72.34L450.20 72.58L450.50 72.29L450.80 72.67L451.10 73.68L451.40 72.81L451.70 72.48L452.00 71.13L452.30 75.11L452.60 72.75L452.90 73.41L453.20 70.58L453.50 71.02L453.80 72.01L454.10 67.36L454.40 70.60L454.70 70.77L455.00 70.22L455.30 70.04L455.60 68.72L455.90 67.13L456.20 65.99L456.50 64.53L456.80 65.86L457.10 64.81L457.40 60.30L457.70 59.42L458.00 52.50L458.30 48.69L458.60 46.03L458.90 39.56L459.20 35.94L459.50 36.28L459.80 30.57L460.10 30.41L460.40 28.33L460.70 30.17L461.00 33.35L461.30 33.77L461.60 36.90L461.90 39.90L462.20 43.37L462.50 46.02L462.80 47.50L463.10 47.86L463.40 48.68L463.70 50.60L464.00 53.32L464.30 52.81L464.60 52.18L464.90 53.58L465.20 52.20L465.50 53.50L465.80 52.32L466.10 51.35L466.40 53.23L466.70 53.79L467.00 53.49L467.30 52.00L467.60 54.87L467.90 53.87L468.20 54.07L468.50 54.58L468.80 54.51L469.10 55.68L469.40 52.60L469.70 53.28L470.00 54.80L470.30 55.16L470.60 54.82L470.90 55.58L471.20 58.15L471.50 56.49L471.80 58.39L472.10 59.23L472.40 60.30L472.70 61.21L473.00 62.16L473.30 59.98L473.60 62.04L473.90 65.09L474.20 64.91L474.50 67.99L474.80 66.18L475.10 64.88L475.40 65.61L475.70 66.44L476.00 67.53L476.30 67.18L476.60 66.28L476.90 67.06L477.20 66.81L477.50 67.58L477.80 66.11L478.10 67.64L478.40 67.10L478.70 71.32L479.00 67.66L479.30 69.19L479.60 68.00L479.90 71.27L480.20 71.87L480.50 71.06L480.80 71.60L481.10 71.59L481.40 71.40L481.70 70.59L482.00 70.46L482.30 69.42L482.60 72.85L482.90 73.80L483.20 73.38L483.50 72.84L483.80 71.90L484.10 73.40L484.40 74.36L484.70 71.91L485.00 73.37L485.30 75.94L485.60 72.60L485.90 75.46L486.20 73.95L486.50 78.04L486.80 73.66L487.10 73.42L487.40 74.21L487.70 74.30L488.00 74.45L488.30 74.79L488.60 72.61L488.90 74.80L489.20 75.07L489.50 72.69L489.80 74.08L490.10 73.61L490.40 74.08L490.70 76.05L491.00 72.27L491.30 73.73L491.60 77.62L491.90 71.44L492.20 74.65L492.50 73.46L492.80 75.91L493.10 75.79L493.40 75.15L493.70 73.37L494.00 73.87L494.30 73.73L494.60 74.17L494.90 73.37L495.20 72.37L495.50 72.17L495.80 73.60L496.10 72.43L496.40 72.04L496.70 71.92L497.00 72.83L497.30 74.94L497.60 70.46L497.90 69.85L498.20 70.68L498.50 68.60L498.80 69.63L499.10 68.76L499.40 69.42L499.70 65.60L500.00 65.98L500.30 66.51L500.60 65.93L500.90 64.29L501.20 62.97L501.50 62.38L501.80 61.65L502.10 61.85L502.40 61.79L502.70 58.23L503.00 59.25L503.30 58.47L503.60 56.37L503.90 57.77L504.20 56.06L504.50 55.63L504.80 52.95L505.10 52.84L505.40 54.05L505.70 51.61L506.00 52.92L506.30 51.05L506.60 50.75L506.90 49.91L507.20 50.42L507.50 49.98L507.80 47.76L508.10 51.68L508.40 51.24L508.70 52.70L509.00 53.76L509.30 53.83L509.60 54.04L509.90 55.22L510.20 56.63L510.50 58.35L510.80 57.20L511.10 58.56L511.40 62.00L511.70 59.96L512.00 60.89L512.30 62.65L512.60 62.24L512.90 63.94L513.20 66.54L513.50 67.32L513.80 68.05L514.10 65.07L514.40 67.72L514.70 65.03L515.00 65.03L515.30 67.07L515.60 68.25L515.90 69.17L516.20 70.15L516.50 68.57L516.80 72.44L517.10 71.73L517.40 72.51L517.70 69.27L518.00 71.65L518.30 71.11L518.60 70.09L518.90 72.31L519.20 70.98L519.50 73.23L519.80 71.60L520.10 73.39L520.40 71.73L520.70 74.49L521.00 72.20L521.30 72.95L521.60 76.42L521.90 72.58L522.20 74.40L522.50 73.21L522.80 72.99L523.10 73.74L523.40 75.46L523.70 76.15L524.00 74.28L524.30 74.94L524.60 73.96L524.90 75.11L525.20 74.37L525.50 71.93L525.80 73.15L526.10 73.92L526.40 75.83L526.70 74.13L527.00 72.34L527.30 73.25L527.60 72.65L527.90 69.55L528.20 71.65L528.50 71.35L528.80 71.11L529.10 69.49L529.40 68.86L529.70 65.73L530.00 64.24L530.30 59.26L530.60 56.76L530.90 57.50L531.20 52.49L531.50 48.92L531.80 42.91L532.10 42.35L532.40 38.49L532.70 38.54L533.00 42.71L533.30 44.67L533.60 50.10L533.90 50.79L534.20 52.26L534.50 55.24L534.80 60.11L535.10 58.78L535.40 59.55L535.70 58.70L536.00 58.63L536.30 57.13L536.60 55.70L536.90 51.28L537.20 51.00L537.50 44.17L537.80 38.62L538.10 34.33L538.40 30.02L538.70 31.28L539.00 32.35L539.30 36.54L539.60 41.24L539.90 45.39L540.20 50.16L540.50 50.99L540.80 56.64L541.10 60.77L541.40 63.82L541.70 64.62L542.00 63.98L542.30 66.54L542.60 68.64L542.90 71.15L543.20 70.95L543.50 71.81L543.80 71.30L544.10 69.79L544.40 72.47L544.70 72.86L545.00 72.59L545.30 71.36L545.60 72.94L545.90 73.54L546.20 74.16L546.50 73.18L546.80 74.06L547.10 74.92L547.40 73.88L547.70 73.86L548.00 72.81L548.30 73.09L548.60 75.53L548.90 76.32L549.20 75.53L549.50 76.06L549.80 76.38L550.10 75.81L550.40 77.96L550.70 75.43L551.00 78.10L551.30 79.74L551.60 76.08L551.90 76.21L552.20 77.75L552.50 77.43L552.80 76.16L553.10 76.46L553.40 76.61L553.70 77.87L554.00 77.40L554.30 75.22L554.60 76.02L554.90 77.96L555.20 76.57L555.50 77.18L555.80 78.25L556.10 78.00L556.40 78.61L556.70 74.69L557.00 79.21L557.30 78.47L557.60 80.33L557.90 77.78L558.20 79.77L558.50 78.43L558.80 79.70L559.10 78.56L559.40 79.79L559.70 77.63L560.00 80.34L560.30 79.92L560.60 79.15L560.90 80.53L561.20 78.48L561.50 80.23L561.80 79.61L562.10 81.01L562.40 81.73L562.70 78.14L563.00 80.03L563.30 79.31L563.60 81.21L563.90 79.72L564.20 80.34L564.50 77.83L564.80 80.94L565.10 79.07L565.40 80.77L565.70 77.55L566.00 78.44L566.30 78.98L566.60 81.01L566.90 78.82L567.20 77.89L567.50 79.53L567.80 82.45L568.10 79.01L568.40 79.52L568.70 78.36L569.00 79.22L569.30 78.51L569.60 79.23L569.90 79.92L570.20 79.59L570.50 77.50L570.80 78.09L571.10 79.97L571.40 79.00L571.70 78.18L572.00 78.94L572.30 77.72L572.60 78.82L572.90 75.91L573.20 80.42L573.50 78.12L573.80 77.80L574.10 79.36L574.40 78.01L574.70 78.46L575.00 76.67L575.30 77.38L575.60 78.54L575.90 76.27L576.20 81.26L576.50 77.01L576.80 77.86L577.10 78.28L577.40 78.40L577.70 77.78L578.00 77.79L578.30 77.79L578.60 78.95L578.90 76.64L579.20 76.62L579.50 77.08L579.80 78.44L580.10 77.19L580.40 75.87L580.70 77.81L581.00 76.93L581.30 76.53L581.60 77.09L581.90 76.72L582.20 77.36L582.50 78.14L582.80 78.79L583.10 78.59L583.40 77.93L583.70 75.99L584.00 78.44L584.30 79.44L584.60 74.74L584.90 76.18L585.20 78.15L585.50 78.32L585.80 80.19L586.10 78.67L586.40 76.54L586.70 77.24L587.00 79.68L587.30 79.13L587.60 78.50L587.90 79.21L588.20 80.60L588.50 82.00L588.80 78.29L589.10 78.04L589.40 80.20L589.70 79.83L590.00 79.48L590.30 80.39L590.60 79.77L590.90 80.26L591.20 80.91L591.50 78.51L591.80 79.70L592.10 80.07L592.40 78.85L592.70 79.92L593.00 76.56L593.30 77.76L593.60 79.10L593.90 81.68L594.20 81.28L594.50 80.40L594.80 81.04L595.10 80.67L595.40 80.94L595.70 78.70L596.00 79.87L596.30 84.03L596.60 80.69L596.90 80.82L597.20 80.94L597.50 80.65L597.80 78.87L598.10 79.52L598.40 80.06L598.70 79.20L599.00 79.22L599.30 81.04L599.60 79.82L599.90 79.98L600.20 80.10L600.50 80.81L600.80 80.36L601.10 79.74L601.40 79.89L601.70 81.26L602.00 80.01L602.30 79.82L602.60 78.83L602.90 80.30L603.20 76.75L603.50 78.55L603.80 80.95L604.10 81.39L604.40 80.18L604.70 78.88L605.00 81.16L605.30 79.32L605.60 79.21L605.90 79.78L606.20 80.44L606.50 80.44L606.80 81.77L607.10 80.25L607.40 80.49L607.70 79.89L608.00 80.10L608.30 79.44L608.60 81.27L608.90 80.75L609.20 79.39L609.50 81.22L609.80 79.97L610.10 78.62L610.40 81.01L610.70 78.89L611.00 77.68L611.30 78.01L611.60 82.68L611.90 78.95L612.20 81.19L612.50 81.75L612.80 78.69L613.10 79.61L613.40 79.88L613.70 78.55L614.00 80.59L614.30 80.31L614.60 81.60L614.90 81.64L615.20 80.44L615.50 78.02L615.80 78.71L616.10 81.94L616.40 80.07L616.70 81.27L617.00 80.08L617.30 81.44L617.60 80.09L617.90 78.64L618.20 78.08L618.50 76.69L618.80 79.67L619.10 79.99L619.40 79.38L619.70 78.05L620.00 79.70L620.30 79.94L620.60 79.87L620.90 79.40L621.20 80.27L621.50 80.40L621.80 78.85L622.10 80.84L622.40 81.09L622.70 77.75L623.00 82.06L623.30 80.70L623.60 81.25L623.90 80.60L624.20 80.02L624.50 78.72L624.80 78.64L625.10 79.70L625.40 78.24L625.70 79.66L626.00 81.71L626.30 80.06L626.60 79.64L626.90 79.73L627.20 80.43L627.50 79.51L627.80 79.65L628.10 79.67L628.40 78.64L628.70 79.81L629.00 80.67L629.30 80.81L629.60 79.32L629.90 81.29L630.20 79.98L630.50 79.56L630.80 79.92L631.10 81.36L631.40 79.05L631.70 78.98L632.00 81.54L632.30 81.42L632.60 80.82L632.90 81.26L633.20 80.12L633.50 80.42L633.80 81.52L634.10 80.38L634.40 81.55L634.70 81.27L635.00 79.21L635.30 81.16L635.60 80.12L635.90 80.14L636.20 78.80L636.50 80.65L636.80 80.35L637.10 79.63L637.40 81.37L637.70 78.13L638.00 78.64L638.30 78.81L638.60 81.71L638.90 80.86L639.20 80.45L639.50 80.03L639.80 79.82L640.10 80.04L640.40 80.91L640.70 81.04L641.00 80.80L641.30 80.43L641.60 79.64L641.90 80.57L642.20 79.94L642.50 83.85L642.80 78.45L643.10 78.88L643.40 81.59L643.70 80.73L644.00 79.60L644.30 79.98L644.60 80.03L644.90 79.99L645.20 82.35L645.50 81.24L645.80 80.78L646.10 78.45L646.40 81.07L646.70 82.17L647.00 82.95L647.30 78.86L647.60 79.12L647.90 81.18L648.20 80.59L648.50 80.40L648.80 79.93L649.10 81.99L649.40 81.15L649.70 80.76L650.00 80.29L650.30 80.49L650.60 81.10L650.90 78.97L651.20 80.69L651.50 79.40L651.80 80.04L652.10 80.03L652.40 82.30L652.70 79.46L653.00 81.13L653.30 80.26L653.60 80.71L653.90 77.87L654.20 80.36L654.50 81.47L654.80 81.23L655.10 80.84L655.40 82.43L655.70 75.85L656.00 83.79L656.30 81.64L656.60 80.37L656.90 80.15L657.20 82.06L657.50 79.31L657.80 80.66L658.10 82.04L658.40 81.11L658.70 78.70L659.00 81.63L659.30 80.45L659.60 80.23L659.90 80.20L660.20 81.51L660.50 80.43L660.80 80.37L661.10 78.69L661.40 79.69L661.70 83.22L662.00 81.04L662.30 82.48L662.60 80.75L662.90 83.13L663.20 80.19L663.50 78.98L663.80 81.36L664.10 80.19L664.40 80.91L664.70 81.19L665.00 80.94L665.30 80.19L665.60 80.55L665.90 82.06L666.20 80.31L666.50 79.55L666.80 81.42L667.10 81.60L667.40 78.95L667.70 79.55L668.00 81.88L668.30 80.33L668.60 79.73L668.90 80.71L669.20 80.08L669.50 80.37L669.80 81.29L670.10 79.67L670.40 80.62L670.70 79.84L671.00 81.89L671.30 79.96L671.60 82.27L671.90 80.59L672.20 79.34L672.50 81.75L672.80 79.82L673.10 79.74L673.40 79.83L673.70 79.56L674.00 81.14L674.30 81.55L674.60 81.36L674.90 79.89L675.20 79.45L675.50 82.37L675.80 83.01L676.10 82.38L676.40 81.92L676.70 79.34L677.00 80.49L677.30 78.77L677.60 79.66L677.90 79.05L678.20 82.87L678.50 81.94L678.80 79.45L679.10 82.19L679.40 81.02L679.70 80.83L680.00 81.43L680.30 80.66L680.60 81.72L680.90 82.02L681.20 82.70L681.50 79.14L681.80 80.38L682.10 82.53L682.40 79.95L682.70 82.80L683.00 80.47L683.30 79.87L683.60 81.19L683.90 79.47L684.20 80.84L684.50 81.40L684.80 80.73" fill="none" stroke="#7e22f0" stroke-width="0.65" stroke-linejoin="round" opacity="1"/><path d="M368.30 105.80L368.60 105.45L368.90 105.68L369.20 107.67L369.50 106.04L369.80 106.46L370.10 106.81L370.40 107.77L370.70 108.01L371.00 107.35L371.30 106.09L371.60 110.30L371.90 110.24L372.20 106.70L372.50 108.59L372.80 107.95L373.10 107.59L373.40 109.63L373.70 108.90L374.00 108.51L374.30 107.04L374.60 109.09L374.90 110.14L375.20 108.78L375.50 107.94L375.80 107.62L376.10 108.28L376.40 108.08L376.70 106.59L377.00 108.47L377.30 109.66L377.60 107.61L377.90 107.70L378.20 109.18L378.50 108.06L378.80 108.53L379.10 108.42L379.40 109.77L379.70 107.33L380.00 108.99L380.30 110.03L380.60 108.50L380.90 109.77L381.20 108.37L381.50 108.97L381.80 108.81L382.10 108.44L382.40 110.27L382.70 104.28L383.00 106.78L383.30 109.90L383.60 109.10L383.90 108.45L384.20 108.36L384.50 108.39L384.80 108.38L385.10 109.49L385.40 109.79L385.70 110.27L386.00 108.58L386.30 109.25L386.60 109.93L386.90 108.86L387.20 108.53L387.50 109.15L387.80 110.27L388.10 107.35L388.40 107.36L388.70 107.84L389.00 109.85L389.30 108.24L389.60 108.65L389.90 108.96L390.20 109.07L390.50 109.85L390.80 106.92L391.10 109.43L391.40 107.09L391.70 108.20L392.00 111.55L392.30 108.77L392.60 108.79L392.90 108.54L393.20 109.70L393.50 108.95L393.80 108.08L394.10 108.58L394.40 107.45L394.70 109.02L395.00 109.40L395.30 109.90L395.60 110.67L395.90 107.97L396.20 113.86L396.50 109.06L396.80 109.92L397.10 110.33L397.40 108.56L397.70 107.73L398.00 109.52L398.30 107.10L398.60 109.73L398.90 107.38L399.20 108.74L399.50 107.65L399.80 106.66L400.10 108.13L400.40 110.62L400.70 108.57L401.00 109.89L401.30 108.36L401.60 108.70L401.90 108.59L402.20 111.67L402.50 110.79L402.80 107.47L403.10 107.80L403.40 107.50L403.70 107.83L404.00 109.93L404.30 108.34L404.60 109.86L404.90 109.47L405.20 109.76L405.50 108.75L405.80 109.05L406.10 109.54L406.40 108.15L406.70 110.51L407.00 110.75L407.30 109.25L407.60 108.89L407.90 109.68L408.20 109.62L408.50 109.30L408.80 109.68L409.10 108.62L409.40 108.70L409.70 107.73L410.00 109.43L410.30 107.43L410.60 108.92L410.90 108.08L411.20 109.66L411.50 108.45L411.80 111.33L412.10 107.82L412.40 106.23L412.70 107.50L413.00 109.55L413.30 108.94L413.60 108.91L413.90 108.84L414.20 108.58L414.50 107.88L414.80 107.03L415.10 108.33L415.40 102.95L415.70 109.38L416.00 107.63L416.30 106.88L416.60 108.66L416.90 109.21L417.20 108.62L417.50 108.00L417.80 105.12L418.10 108.91L418.40 106.82L418.70 107.79L419.00 108.64L419.30 107.39L419.60 106.31L419.90 108.57L420.20 107.22L420.50 106.29L420.80 107.08L421.10 106.89L421.40 106.97L421.70 107.33L422.00 106.53L422.30 107.26L422.60 105.86L422.90 106.23L423.20 106.62L423.50 105.12L423.80 110.49L424.10 106.83L424.40 107.66L424.70 107.04L425.00 108.45L425.30 107.20L425.60 108.39L425.90 105.80L426.20 106.99L426.50 107.87L426.80 107.58L427.10 106.65L427.40 106.23L427.70 107.13L428.00 105.88L428.30 105.46L428.60 105.17L428.90 103.66L429.20 106.71L429.50 104.83L429.80 107.20L430.10 104.03L430.40 105.43L430.70 104.38L431.00 104.47L431.30 107.88L431.60 105.91L431.90 107.84L432.20 104.98L432.50 104.57L432.80 105.81L433.10 105.61L433.40 105.29L433.70 105.36L434.00 105.38L434.30 103.25L434.60 104.64L434.90 104.65L435.20 106.29L435.50 102.85L435.80 103.45L436.10 103.51L436.40 101.71L436.70 100.40L437.00 101.69L437.30 102.48L437.60 103.25L437.90 101.13L438.20 101.65L438.50 101.54L438.80 102.58L439.10 100.82L439.40 102.41L439.70 101.51L440.00 103.22L440.30 105.89L440.60 104.38L440.90 104.98L441.20 104.27L441.50 104.39L441.80 103.17L442.10 105.68L442.40 103.50L442.70 105.23L443.00 105.36L443.30 105.81L443.60 106.07L443.90 104.29L444.20 104.87L444.50 105.83L444.80 104.98L445.10 104.84L445.40 106.57L445.70 106.03L446.00 103.61L446.30 104.68L446.60 105.88L446.90 105.08L447.20 105.82L447.50 104.86L447.80 106.85L448.10 108.04L448.40 105.55L448.70 104.79L449.00 110.63L449.30 107.41L449.60 105.31L449.90 108.01L450.20 109.85L450.50 104.09L450.80 106.71L451.10 105.95L451.40 104.44L451.70 108.09L452.00 106.17L452.30 104.39L452.60 105.07L452.90 106.93L453.20 105.42L453.50 102.99L453.80 104.38L454.10 103.57L454.40 101.25L454.70 103.61L455.00 103.64L455.30 104.14L455.60 103.92L455.90 102.08L456.20 101.44L456.50 100.23L456.80 100.46L457.10 102.06L457.40 98.03L457.70 98.09L458.00 96.71L458.30 93.18L458.60 91.25L458.90 86.73L459.20 85.02L459.50 82.42L459.80 74.27L460.10 73.38L460.40 71.24L460.70 66.93L461.00 65.54L461.30 65.21L461.60 65.44L461.90 69.84L462.20 76.35L462.50 75.75L462.80 77.99L463.10 79.86L463.40 82.05L463.70 84.31L464.00 84.80L464.30 84.34L464.60 85.20L464.90 87.00L465.20 84.70L465.50 86.94L465.80 87.17L466.10 87.38L466.40 86.54L466.70 87.09L467.00 86.69L467.30 86.10L467.60 85.58L467.90 84.54L468.20 84.93L468.50 86.99L468.80 85.70L469.10 86.27L469.40 85.71L469.70 86.34L470.00 85.26L470.30 86.61L470.60 86.67L470.90 88.79L471.20 87.33L471.50 87.46L471.80 90.65L472.10 92.29L472.40 92.34L472.70 91.01L473.00 90.63L473.30 92.40L473.60 96.95L473.90 93.75L474.20 95.83L474.50 95.71L474.80 97.11L475.10 94.29L475.40 92.61L475.70 97.20L476.00 99.05L476.30 98.03L476.60 100.08L476.90 101.33L477.20 99.48L477.50 100.67L477.80 100.42L478.10 100.97L478.40 100.52L478.70 102.12L479.00 102.90L479.30 103.07L479.60 103.12L479.90 103.40L480.20 105.48L480.50 103.60L480.80 105.04L481.10 104.72L481.40 105.77L481.70 107.25L482.00 106.26L482.30 106.46L482.60 105.77L482.90 108.06L483.20 108.14L483.50 104.92L483.80 100.79L484.10 108.45L484.40 106.27L484.70 104.66L485.00 107.15L485.30 105.72L485.60 107.96L485.90 107.31L486.20 106.27L486.50 105.98L486.80 107.53L487.10 108.28L487.40 108.04L487.70 105.40L488.00 106.72L488.30 106.65L488.60 106.94L488.90 107.18L489.20 106.68L489.50 106.56L489.80 105.29L490.10 108.47L490.40 107.28L490.70 107.40L491.00 109.16L491.30 106.52L491.60 106.43L491.90 108.80L492.20 107.21L492.50 105.74L492.80 106.68L493.10 107.20L493.40 106.55L493.70 105.54L494.00 108.62L494.30 106.79L494.60 105.31L494.90 107.20L495.20 105.93L495.50 105.70L495.80 107.21L496.10 105.77L496.40 108.04L496.70 103.57L497.00 105.77L497.30 104.08L497.60 102.85L497.90 102.86L498.20 105.01L498.50 102.40L498.80 104.98L499.10 103.95L499.40 103.09L499.70 104.34L500.00 103.75L500.30 101.64L500.60 102.28L500.90 102.97L501.20 101.43L501.50 98.65L501.80 97.64L502.10 101.95L502.40 95.89L502.70 93.70L503.00 94.73L503.30 93.75L503.60 93.24L503.90 90.28L504.20 89.24L504.50 86.83L504.80 86.92L505.10 85.90L505.40 86.17L505.70 86.58L506.00 82.89L506.30 82.70L506.60 81.48L506.90 81.62L507.20 79.29L507.50 80.15L507.80 78.94L508.10 79.07L508.40 76.65L508.70 80.01L509.00 80.27L509.30 80.16L509.60 79.82L509.90 80.33L510.20 81.13L510.50 82.82L510.80 83.38L511.10 83.25L511.40 84.77L511.70 87.66L512.00 87.40L512.30 90.56L512.60 88.74L512.90 91.72L513.20 95.24L513.50 93.46L513.80 93.24L514.10 93.72L514.40 97.05L514.70 95.79L515.00 97.01L515.30 99.65L515.60 97.50L515.90 98.60L516.20 101.06L516.50 99.95L516.80 103.39L517.10 100.41L517.40 101.84L517.70 101.43L518.00 103.07L518.30 101.91L518.60 101.83L518.90 105.16L519.20 103.64L519.50 102.81L519.80 104.10L520.10 104.49L520.40 107.13L520.70 103.01L521.00 104.56L521.30 105.58L521.60 106.34L521.90 105.82L522.20 107.43L522.50 107.63L522.80 107.58L523.10 108.01L523.40 108.84L523.70 107.59L524.00 106.89L524.30 106.88L524.60 106.88L524.90 106.68L525.20 107.25L525.50 107.44L525.80 106.40L526.10 107.84L526.40 104.22L526.70 107.32L527.00 105.15L527.30 106.28L527.60 103.40L527.90 100.16L528.20 102.44L528.50 103.74L528.80 102.05L529.10 100.65L529.40 95.86L529.70 98.34L530.00 93.90L530.30 89.75L530.60 88.58L530.90 86.87L531.20 88.76L531.50 83.28L531.80 80.23L532.10 81.74L532.40 78.50L532.70 79.27L533.00 77.01L533.30 77.33L533.60 76.36L533.90 80.58L534.20 79.07L534.50 84.30L534.80 83.72L535.10 88.60L535.40 89.25L535.70 90.57L536.00 92.28L536.30 90.26L536.60 86.68L536.90 86.40L537.20 82.02L537.50 76.87L537.80 70.83L538.10 71.63L538.40 70.85L538.70 68.59L539.00 67.34L539.30 71.99L539.60 76.42L539.90 79.62L540.20 81.05L540.50 85.48L540.80 89.22L541.10 93.41L541.40 94.59L541.70 97.69L542.00 97.29L542.30 99.79L542.60 100.50L542.90 104.32L543.20 104.41L543.50 103.97L543.80 106.04L544.10 106.09L544.40 106.20L544.70 107.27L545.00 107.04L545.30 106.17L545.60 108.89L545.90 108.43L546.20 107.42L546.50 108.74L546.80 107.20L547.10 108.51L547.40 108.80L547.70 109.09L548.00 109.19L548.30 107.98L548.60 110.66L548.90 109.26L549.20 110.49L549.50 111.47L549.80 110.83L550.10 108.01L550.40 109.18L550.70 109.65L551.00 109.40L551.30 110.20L551.60 111.72L551.90 110.25L552.20 109.95L552.50 108.99L552.80 110.41L553.10 108.52L553.40 110.60L553.70 111.41L554.00 110.48L554.30 111.34L554.60 110.36L554.90 110.32L555.20 112.61L555.50 109.83L555.80 110.07L556.10 110.77L556.40 112.04L556.70 110.73L557.00 110.36L557.30 110.73L557.60 110.16L557.90 112.64L558.20 112.38L558.50 110.19L558.80 110.77L559.10 111.99L559.40 109.60L559.70 110.32L560.00 112.47L560.30 110.73L560.60 110.77L560.90 111.07L561.20 111.89L561.50 111.28L561.80 110.65L562.10 111.87L562.40 112.34L562.70 111.98L563.00 112.16L563.30 110.72L563.60 110.64L563.90 111.39L564.20 110.28L564.50 110.37L564.80 110.00L565.10 115.49L565.40 114.60L565.70 112.99L566.00 112.82L566.30 111.50L566.60 112.00L566.90 111.45L567.20 111.69L567.50 112.99L567.80 109.13L568.10 110.11L568.40 113.42L568.70 110.86L569.00 109.19L569.30 111.42L569.60 109.16L569.90 111.85L570.20 107.76L570.50 111.74L570.80 112.87L571.10 111.06L571.40 111.95L571.70 115.33L572.00 110.03L572.30 114.23L572.60 112.36L572.90 111.07L573.20 112.26L573.50 111.95L573.80 110.16L574.10 111.88L574.40 110.25L574.70 111.98L575.00 111.51L575.30 110.47L575.60 111.72L575.90 111.90L576.20 110.12L576.50 111.15L576.80 110.90L577.10 111.79L577.40 113.14L577.70 111.54L578.00 113.40L578.30 112.45L578.60 112.67L578.90 111.88L579.20 110.75L579.50 114.58L579.80 109.99L580.10 110.87L580.40 110.80L580.70 112.68L581.00 111.48L581.30 112.69L581.60 112.10L581.90 110.94L582.20 111.48L582.50 112.36L582.80 112.39L583.10 112.39L583.40 110.72L583.70 111.70L584.00 112.47L584.30 111.66L584.60 111.27L584.90 112.66L585.20 110.92L585.50 115.86L585.80 113.06L586.10 112.09L586.40 111.61L586.70 115.21L587.00 112.83L587.30 110.89L587.60 114.01L587.90 111.98L588.20 111.68L588.50 113.79L588.80 112.19L589.10 112.03L589.40 111.14L589.70 110.34L590.00 111.40L590.30 113.33L590.60 114.89L590.90 112.99L591.20 112.67L591.50 113.30L591.80 110.12L592.10 110.92L592.40 113.11L592.70 112.16L593.00 113.56L593.30 113.49L593.60 110.01L593.90 112.78L594.20 109.30L594.50 111.33L594.80 113.30L595.10 111.21L595.40 113.14L595.70 111.79L596.00 112.83L596.30 113.29L596.60 112.69L596.90 114.61L597.20 114.44L597.50 113.46L597.80 112.70L598.10 113.18L598.40 112.95L598.70 113.03L599.00 112.74L599.30 111.43L599.60 110.22L599.90 112.67L600.20 113.39L600.50 113.31L600.80 111.83L601.10 112.77L601.40 113.75L601.70 111.76L602.00 113.24L602.30 114.44L602.60 112.19L602.90 112.55L603.20 110.91L603.50 113.11L603.80 112.12L604.10 112.64L604.40 110.87L604.70 110.88L605.00 111.99L605.30 112.69L605.60 111.07L605.90 111.84L606.20 113.32L606.50 115.24L606.80 113.53L607.10 112.39L607.40 118.28L607.70 111.40L608.00 115.98L608.30 112.89L608.60 111.28L608.90 112.53L609.20 111.61L609.50 113.02L609.80 112.39L610.10 113.38L610.40 114.54L610.70 111.79L611.00 112.46L611.30 112.67L611.60 113.08L611.90 112.52L612.20 112.61L612.50 113.77L612.80 116.63L613.10 112.19L613.40 112.64L613.70 113.08L614.00 111.07L614.30 112.84L614.60 115.05L614.90 112.17L615.20 112.97L615.50 113.97L615.80 114.57L616.10 113.32L616.40 114.28L616.70 112.63L617.00 113.21L617.30 113.04L617.60 114.56L617.90 110.43L618.20 112.22L618.50 114.22L618.80 111.89L619.10 113.10L619.40 113.60L619.70 113.62L620.00 111.78L620.30 113.52L620.60 111.89L620.90 113.57L621.20 113.69L621.50 114.63L621.80 110.92L622.10 115.83L622.40 111.33L622.70 113.38L623.00 111.15L623.30 112.21L623.60 113.40L623.90 111.52L624.20 113.88L624.50 110.62L624.80 113.11L625.10 113.51L625.40 114.17L625.70 116.27L626.00 112.37L626.30 112.34L626.60 112.01L626.90 113.45L627.20 112.33L627.50 112.96L627.80 113.89L628.10 113.63L628.40 112.50L628.70 112.99L629.00 112.76L629.30 114.51L629.60 114.25L629.90 114.66L630.20 111.64L630.50 115.42L630.80 112.98L631.10 112.06L631.40 113.81L631.70 111.82L632.00 111.45L632.30 111.94L632.60 116.48L632.90 114.17L633.20 114.86L633.50 115.66L633.80 112.96L634.10 114.59L634.40 113.40L634.70 113.30L635.00 113.39L635.30 115.66L635.60 113.99L635.90 114.19L636.20 112.87L636.50 111.80L636.80 113.56L637.10 111.45L637.40 113.82L637.70 114.07L638.00 115.62L638.30 112.92L638.60 114.05L638.90 114.11L639.20 114.24L639.50 114.30L639.80 114.75L640.10 113.02L640.40 112.90L640.70 113.02L641.00 117.66L641.30 114.24L641.60 113.62L641.90 113.71L642.20 112.86L642.50 113.57L642.80 114.03L643.10 113.36L643.40 114.09L643.70 116.86L644.00 114.70L644.30 112.70L644.60 112.21L644.90 114.53L645.20 113.06L645.50 113.85L645.80 114.85L646.10 113.74L646.40 113.15L646.70 114.43L647.00 112.75L647.30 114.40L647.60 114.06L647.90 113.68L648.20 114.43L648.50 113.73L648.80 114.17L649.10 112.74L649.40 113.44L649.70 113.40L650.00 112.07L650.30 113.33L650.60 114.52L650.90 115.14L651.20 114.39L651.50 114.07L651.80 117.37L652.10 114.98L652.40 111.62L652.70 113.72L653.00 113.63L653.30 113.92L653.60 113.60L653.90 114.74L654.20 114.53L654.50 113.85L654.80 114.72L655.10 113.99L655.40 113.32L655.70 113.94L656.00 115.23L656.30 114.63L656.60 112.52L656.90 113.72L657.20 114.84L657.50 112.67L657.80 113.69L658.10 113.03L658.40 114.58L658.70 113.95L659.00 115.76L659.30 112.93L659.60 115.36L659.90 113.29L660.20 113.92L660.50 113.81L660.80 116.10L661.10 115.29L661.40 113.21L661.70 114.63L662.00 113.62L662.30 109.10L662.60 116.02L662.90 113.46L663.20 113.34L663.50 113.78L663.80 112.67L664.10 114.54L664.40 114.38L664.70 114.61L665.00 113.59L665.30 112.47L665.60 115.82L665.90 114.94L666.20 113.70L666.50 113.72L666.80 117.53L667.10 114.90L667.40 116.37L667.70 112.02L668.00 114.55L668.30 113.36L668.60 113.76L668.90 115.16L669.20 113.06L669.50 113.48L669.80 114.15L670.10 115.55L670.40 113.54L670.70 116.14L671.00 114.09L671.30 113.91L671.60 113.34L671.90 115.68L672.20 115.03L672.50 114.84L672.80 113.79L673.10 113.97L673.40 114.53L673.70 113.02L674.00 113.51L674.30 114.52L674.60 114.62L674.90 116.51L675.20 114.58L675.50 114.19L675.80 115.07L676.10 113.70L676.40 116.98L676.70 114.63L677.00 113.93L677.30 116.40L677.60 113.18L677.90 115.60L678.20 114.85L678.50 114.39L678.80 115.16L679.10 115.20L679.40 114.73L679.70 115.15L680.00 115.36L680.30 114.47L680.60 114.17L680.90 114.82L681.20 113.12L681.50 114.40L681.80 113.46L682.10 115.60L682.40 115.82L682.70 114.66L683.00 115.30L683.30 113.85L683.60 115.20L683.90 114.70L684.20 115.03L684.50 114.22L684.80 114.21" fill="none" stroke="#141414" stroke-width="0.65" stroke-linejoin="round" opacity="1"/><path d="M368.30 138.94L368.60 138.11L368.90 139.75L369.20 140.34L369.50 140.69L369.80 140.79L370.10 137.94L370.40 140.76L370.70 139.73L371.00 140.59L371.30 140.73L371.60 138.13L371.90 140.34L372.20 139.34L372.50 140.24L372.80 138.82L373.10 139.42L373.40 140.73L373.70 141.33L374.00 137.35L374.30 140.45L374.60 139.91L374.90 140.87L375.20 141.25L375.50 139.17L375.80 141.04L376.10 139.90L376.40 140.79L376.70 140.49L377.00 141.13L377.30 139.50L377.60 142.00L377.90 143.42L378.20 142.49L378.50 141.58L378.80 141.96L379.10 141.27L379.40 140.35L379.70 140.95L380.00 140.52L380.30 140.99L380.60 140.39L380.90 140.29L381.20 140.62L381.50 141.02L381.80 141.86L382.10 141.31L382.40 141.68L382.70 140.99L383.00 141.22L383.30 141.40L383.60 141.39L383.90 141.09L384.20 142.21L384.50 139.34L384.80 141.62L385.10 140.13L385.40 142.57L385.70 139.86L386.00 141.76L386.30 136.68L386.60 141.51L386.90 140.69L387.20 139.61L387.50 141.07L387.80 142.25L388.10 141.43L388.40 141.87L388.70 141.79L389.00 138.68L389.30 142.13L389.60 142.85L389.90 141.40L390.20 142.84L390.50 143.28L390.80 143.05L391.10 141.52L391.40 141.93L391.70 139.65L392.00 142.56L392.30 140.64L392.60 141.65L392.90 142.86L393.20 140.92L393.50 141.84L393.80 144.01L394.10 141.10L394.40 142.53L394.70 141.48L395.00 140.20L395.30 142.84L395.60 141.23L395.90 143.05L396.20 139.81L396.50 139.82L396.80 141.36L397.10 142.68L397.40 141.34L397.70 145.25L398.00 142.10L398.30 144.67L398.60 138.49L398.90 140.24L399.20 140.28L399.50 141.76L399.80 141.18L400.10 140.84L400.40 141.84L400.70 141.94L401.00 141.67L401.30 142.41L401.60 141.31L401.90 138.61L402.20 143.35L402.50 141.50L402.80 142.79L403.10 141.93L403.40 142.54L403.70 141.26L404.00 141.38L404.30 142.66L404.60 142.35L404.90 140.12L405.20 141.46L405.50 141.37L405.80 139.80L406.10 143.54L406.40 141.66L406.70 141.54L407.00 141.61L407.30 141.23L407.60 142.54L407.90 141.10L408.20 141.20L408.50 140.79L408.80 142.50L409.10 138.98L409.40 142.22L409.70 143.31L410.00 139.79L410.30 140.34L410.60 139.46L410.90 141.00L411.20 141.59L411.50 142.46L411.80 141.50L412.10 141.28L412.40 138.68L412.70 139.43L413.00 140.84L413.30 138.25L413.60 141.70L413.90 142.16L414.20 139.83L414.50 138.41L414.80 140.77L415.10 141.77L415.40 140.43L415.70 140.49L416.00 139.99L416.30 139.97L416.60 141.17L416.90 141.13L417.20 139.86L417.50 140.63L417.80 140.40L418.10 138.90L418.40 140.49L418.70 139.70L419.00 139.52L419.30 140.98L419.60 138.63L419.90 140.26L420.20 137.47L420.50 137.46L420.80 138.28L421.10 139.76L421.40 140.24L421.70 138.46L422.00 139.04L422.30 138.59L422.60 137.07L422.90 136.55L423.20 136.52L423.50 136.79L423.80 138.68L424.10 137.51L424.40 137.22L424.70 135.53L425.00 136.28L425.30 136.69L425.60 139.51L425.90 138.64L426.20 138.97L426.50 138.01L426.80 139.72L427.10 137.77L427.40 139.29L427.70 140.41L428.00 139.47L428.30 140.73L428.60 140.39L428.90 141.06L429.20 138.47L429.50 137.69L429.80 139.09L430.10 138.78L430.40 139.01L430.70 137.95L431.00 139.07L431.30 139.33L431.60 137.21L431.90 137.12L432.20 138.79L432.50 138.10L432.80 135.78L433.10 138.30L433.40 138.65L433.70 138.06L434.00 137.51L434.30 135.54L434.60 138.06L434.90 136.13L435.20 138.54L435.50 137.85L435.80 135.50L436.10 138.77L436.40 137.46L436.70 136.13L437.00 136.19L437.30 137.29L437.60 136.65L437.90 134.26L438.20 137.45L438.50 138.37L438.80 137.19L439.10 137.25L439.40 137.04L439.70 135.91L440.00 136.16L440.30 135.83L440.60 134.58L440.90 136.22L441.20 132.23L441.50 134.99L441.80 136.94L442.10 133.63L442.40 134.84L442.70 135.63L443.00 136.23L443.30 134.18L443.60 136.07L443.90 131.20L444.20 132.78L444.50 135.06L444.80 134.91L445.10 135.68L445.40 136.35L445.70 136.49L446.00 134.51L446.30 135.71L446.60 134.80L446.90 136.01L447.20 136.78L447.50 136.58L447.80 136.19L448.10 135.59L448.40 134.23L448.70 134.98L449.00 135.45L449.30 134.35L449.60 134.18L449.90 133.32L450.20 134.30L450.50 133.72L450.80 134.29L451.10 135.69L451.40 134.49L451.70 132.22L452.00 132.22L452.30 131.19L452.60 132.19L452.90 131.35L453.20 133.34L453.50 132.80L453.80 131.77L454.10 134.08L454.40 130.81L454.70 133.24L455.00 134.68L455.30 131.81L455.60 131.16L455.90 132.06L456.20 132.33L456.50 132.36L456.80 131.53L457.10 130.57L457.40 128.70L457.70 130.73L458.00 130.89L458.30 132.75L458.60 130.19L458.90 128.63L459.20 131.02L459.50 126.81L459.80 129.74L460.10 129.00L460.40 128.26L460.70 127.32L461.00 126.58L461.30 127.04L461.60 126.95L461.90 126.42L462.20 126.57L462.50 125.92L462.80 121.97L463.10 125.04L463.40 126.04L463.70 122.84L464.00 121.69L464.30 121.08L464.60 121.67L464.90 117.89L465.20 120.80L465.50 119.80L465.80 118.36L466.10 118.20L466.40 117.65L466.70 116.99L467.00 117.00L467.30 116.26L467.60 114.10L467.90 112.95L468.20 113.92L468.50 111.99L468.80 109.47L469.10 111.74L469.40 109.71L469.70 109.26L470.00 108.69L470.30 106.25L470.60 108.12L470.90 110.01L471.20 106.08L471.50 108.48L471.80 107.71L472.10 105.21L472.40 106.59L472.70 103.44L473.00 104.24L473.30 104.39L473.60 105.22L473.90 105.65L474.20 104.41L474.50 105.39L474.80 104.51L475.10 106.13L475.40 106.45L475.70 107.49L476.00 107.00L476.30 108.49L476.60 108.77L476.90 108.62L477.20 111.74L477.50 110.94L477.80 112.77L478.10 113.21L478.40 112.99L478.70 113.84L479.00 111.65L479.30 114.06L479.60 115.28L479.90 115.66L480.20 116.35L480.50 116.96L480.80 120.37L481.10 119.67L481.40 118.41L481.70 120.73L482.00 118.68L482.30 120.81L482.60 118.87L482.90 120.25L483.20 121.58L483.50 123.59L483.80 124.59L484.10 123.50L484.40 124.37L484.70 123.64L485.00 122.99L485.30 122.99L485.60 126.58L485.90 122.39L486.20 125.00L486.50 124.28L486.80 127.59L487.10 123.44L487.40 126.81L487.70 126.58L488.00 125.92L488.30 121.36L488.60 128.44L488.90 129.27L489.20 126.05L489.50 127.12L489.80 129.51L490.10 127.76L490.40 127.61L490.70 129.30L491.00 127.69L491.30 127.89L491.60 128.54L491.90 128.02L492.20 131.13L492.50 128.71L492.80 130.63L493.10 129.55L493.40 130.64L493.70 129.62L494.00 129.68L494.30 130.79L494.60 128.74L494.90 129.48L495.20 129.96L495.50 128.46L495.80 125.14L496.10 128.75L496.40 126.99L496.70 130.95L497.00 129.74L497.30 130.00L497.60 130.46L497.90 128.86L498.20 129.93L498.50 131.63L498.80 129.38L499.10 130.09L499.40 130.28L499.70 130.63L500.00 130.35L500.30 130.73L500.60 129.01L500.90 127.78L501.20 128.38L501.50 129.14L501.80 131.14L502.10 128.63L502.40 127.76L502.70 124.88L503.00 126.69L503.30 128.87L503.60 127.08L503.90 128.59L504.20 126.10L504.50 127.68L504.80 127.04L505.10 126.86L505.40 126.08L505.70 126.26L506.00 129.68L506.30 124.94L506.60 124.49L506.90 125.17L507.20 124.44L507.50 127.20L507.80 127.06L508.10 125.23L508.40 124.06L508.70 123.25L509.00 124.93L509.30 123.19L509.60 125.41L509.90 122.05L510.20 122.45L510.50 124.44L510.80 123.09L511.10 123.65L511.40 122.32L511.70 121.06L512.00 122.29L512.30 123.12L512.60 121.84L512.90 124.65L513.20 121.44L513.50 122.74L513.80 122.92L514.10 123.39L514.40 121.82L514.70 123.57L515.00 124.64L515.30 122.36L515.60 124.17L515.90 124.08L516.20 125.29L516.50 126.16L516.80 124.99L517.10 126.32L517.40 126.37L517.70 128.91L518.00 124.87L518.30 127.83L518.60 128.57L518.90 127.46L519.20 126.67L519.50 128.77L519.80 128.90L520.10 129.04L520.40 130.06L520.70 134.06L521.00 130.29L521.30 134.02L521.60 130.20L521.90 132.54L522.20 132.80L522.50 130.10L522.80 133.38L523.10 132.83L523.40 133.64L523.70 132.63L524.00 135.92L524.30 135.67L524.60 133.70L524.90 131.65L525.20 134.84L525.50 135.42L525.80 134.72L526.10 134.46L526.40 133.96L526.70 134.64L527.00 135.42L527.30 132.38L527.60 133.33L527.90 136.83L528.20 134.60L528.50 135.48L528.80 135.50L529.10 133.88L529.40 134.16L529.70 136.10L530.00 135.64L530.30 135.61L530.60 135.66L530.90 134.85L531.20 133.37L531.50 131.63L531.80 133.19L532.10 133.78L532.40 132.28L532.70 133.40L533.00 130.26L533.30 137.35L533.60 130.89L533.90 131.81L534.20 130.36L534.50 130.17L534.80 129.93L535.10 129.40L535.40 127.09L535.70 127.01L536.00 127.13L536.30 126.91L536.60 126.52L536.90 126.09L537.20 121.88L537.50 122.57L537.80 123.64L538.10 121.89L538.40 119.48L538.70 121.98L539.00 120.18L539.30 120.85L539.60 122.32L539.90 122.05L540.20 123.68L540.50 122.69L540.80 122.51L541.10 125.48L541.40 123.76L541.70 125.41L542.00 126.08L542.30 125.72L542.60 127.48L542.90 130.07L543.20 132.43L543.50 129.62L543.80 132.36L544.10 132.26L544.40 132.44L544.70 131.94L545.00 132.64L545.30 133.10L545.60 133.33L545.90 133.69L546.20 136.03L546.50 136.20L546.80 138.17L547.10 138.08L547.40 135.90L547.70 138.05L548.00 137.75L548.30 136.68L548.60 137.46L548.90 138.36L549.20 136.40L549.50 139.10L549.80 138.85L550.10 139.87L550.40 136.41L550.70 141.47L551.00 139.57L551.30 139.72L551.60 140.61L551.90 138.66L552.20 141.47L552.50 139.80L552.80 142.55L553.10 140.79L553.40 141.45L553.70 138.71L554.00 140.06L554.30 142.10L554.60 143.80L554.90 142.39L555.20 144.55L555.50 142.76L555.80 142.35L556.10 140.34L556.40 142.43L556.70 142.57L557.00 141.05L557.30 144.10L557.60 141.41L557.90 142.55L558.20 142.37L558.50 143.05L558.80 142.02L559.10 145.45L559.40 143.76L559.70 142.72L560.00 142.39L560.30 142.84L560.60 143.32L560.90 144.10L561.20 142.03L561.50 142.08L561.80 143.63L562.10 144.35L562.40 143.80L562.70 143.71L563.00 143.21L563.30 144.38L563.60 143.87L563.90 143.18L564.20 143.75L564.50 142.71L564.80 144.47L565.10 144.71L565.40 142.79L565.70 144.71L566.00 144.81L566.30 143.28L566.60 143.65L566.90 146.83L567.20 144.22L567.50 144.87L567.80 144.71L568.10 144.03L568.40 144.88L568.70 144.03L569.00 145.26L569.30 146.50L569.60 145.23L569.90 146.77L570.20 145.49L570.50 144.77L570.80 144.45L571.10 144.45L571.40 144.12L571.70 143.33L572.00 146.56L572.30 143.53L572.60 145.88L572.90 146.79L573.20 143.24L573.50 145.90L573.80 144.24L574.10 144.17L574.40 145.59L574.70 146.44L575.00 148.41L575.30 144.46L575.60 144.26L575.90 144.34L576.20 146.00L576.50 144.64L576.80 144.33L577.10 144.34L577.40 145.15L577.70 142.64L578.00 146.01L578.30 144.94L578.60 144.70L578.90 144.90L579.20 143.31L579.50 144.73L579.80 145.45L580.10 146.36L580.40 144.93L580.70 145.38L581.00 143.66L581.30 146.46L581.60 145.06L581.90 144.03L582.20 145.26L582.50 146.86L582.80 144.00L583.10 146.11L583.40 144.59L583.70 146.81L584.00 144.97L584.30 145.34L584.60 146.88L584.90 142.90L585.20 145.58L585.50 144.51L585.80 144.96L586.10 146.84L586.40 142.99L586.70 144.50L587.00 143.97L587.30 144.64L587.60 145.86L587.90 147.63L588.20 145.43L588.50 145.79L588.80 145.32L589.10 144.67L589.40 146.72L589.70 145.06L590.00 148.62L590.30 145.05L590.60 146.45L590.90 144.04L591.20 147.79L591.50 145.47L591.80 147.89L592.10 146.72L592.40 144.38L592.70 148.07L593.00 146.88L593.30 146.49L593.60 145.34L593.90 147.03L594.20 145.88L594.50 146.50L594.80 145.25L595.10 146.06L595.40 145.97L595.70 147.44L596.00 146.28L596.30 146.29L596.60 147.07L596.90 145.04L597.20 146.61L597.50 147.36L597.80 146.88L598.10 147.80L598.40 147.51L598.70 146.07L599.00 147.04L599.30 145.88L599.60 147.39L599.90 146.11L600.20 146.90L600.50 146.60L600.80 147.51L601.10 145.01L601.40 147.71L601.70 147.57L602.00 148.26L602.30 147.96L602.60 147.49L602.90 145.44L603.20 148.46L603.50 147.18L603.80 144.70L604.10 145.76L604.40 147.01L604.70 145.54L605.00 147.86L605.30 146.01L605.60 148.83L605.90 148.52L606.20 146.21L606.50 148.10L606.80 146.20L607.10 147.90L607.40 149.34L607.70 146.55L608.00 148.22L608.30 147.18L608.60 146.17L608.90 148.21L609.20 148.75L609.50 147.75L609.80 147.12L610.10 146.64L610.40 145.59L610.70 149.19L611.00 145.16L611.30 146.60L611.60 148.89L611.90 146.82L612.20 146.96L612.50 147.08L612.80 147.84L613.10 147.33L613.40 149.63L613.70 147.46L614.00 147.63L614.30 147.28L614.60 150.16L614.90 146.11L615.20 147.84L615.50 148.21L615.80 147.92L616.10 148.78L616.40 146.62L616.70 146.53L617.00 149.05L617.30 147.11L617.60 147.23L617.90 147.54L618.20 149.53L618.50 148.92L618.80 147.40L619.10 148.16L619.40 147.69L619.70 146.21L620.00 148.70L620.30 147.60L620.60 147.97L620.90 147.49L621.20 148.14L621.50 147.88L621.80 148.63L622.10 147.86L622.40 148.01L622.70 147.58L623.00 147.73L623.30 147.72L623.60 148.59L623.90 148.29L624.20 147.70L624.50 149.78L624.80 148.93L625.10 149.39L625.40 148.12L625.70 148.58L626.00 148.06L626.30 150.17L626.60 149.06L626.90 149.93L627.20 152.06L627.50 149.40L627.80 148.82L628.10 147.91L628.40 150.11L628.70 149.88L629.00 146.17L629.30 150.60L629.60 154.12L629.90 151.41L630.20 148.21L630.50 149.93L630.80 149.91L631.10 149.33L631.40 150.65L631.70 149.38L632.00 148.79L632.30 149.98L632.60 152.44L632.90 150.39L633.20 148.33L633.50 149.03L633.80 148.89L634.10 149.10L634.40 149.04L634.70 150.98L635.00 151.04L635.30 149.29L635.60 150.53L635.90 150.77L636.20 149.42L636.50 149.97L636.80 151.30L637.10 148.21L637.40 150.43L637.70 147.33L638.00 150.22L638.30 150.24L638.60 149.11L638.90 149.17L639.20 148.22L639.50 148.97L639.80 148.70L640.10 148.01L640.40 146.84L640.70 148.06L641.00 150.06L641.30 150.17L641.60 148.00L641.90 153.22L642.20 150.49L642.50 148.56L642.80 150.27L643.10 149.62L643.40 148.25L643.70 148.73L644.00 149.45L644.30 147.95L644.60 149.23L644.90 150.46L645.20 149.30L645.50 149.96L645.80 150.61L646.10 149.25L646.40 150.14L646.70 149.99L647.00 150.33L647.30 152.25L647.60 152.32L647.90 150.81L648.20 150.92L648.50 150.28L648.80 151.31L649.10 150.46L649.40 151.71L649.70 151.07L650.00 150.03L650.30 149.04L650.60 150.70L650.90 148.30L651.20 150.83L651.50 150.87L651.80 149.54L652.10 150.62L652.40 149.81L652.70 151.95L653.00 151.42L653.30 150.34L653.60 149.43L653.90 149.64L654.20 151.10L654.50 148.77L654.80 148.49L655.10 150.80L655.40 148.91L655.70 150.66L656.00 147.71L656.30 152.38L656.60 148.78L656.90 151.05L657.20 151.99L657.50 148.75L657.80 152.00L658.10 148.94L658.40 150.58L658.70 148.81L659.00 149.02L659.30 150.49L659.60 150.36L659.90 150.24L660.20 149.26L660.50 149.27L660.80 148.80L661.10 149.77L661.40 150.87L661.70 150.21L662.00 150.53L662.30 150.47L662.60 152.55L662.90 151.74L663.20 147.53L663.50 154.76L663.80 151.52L664.10 148.46L664.40 148.21L664.70 150.89L665.00 151.23L665.30 150.22L665.60 150.18L665.90 151.38L666.20 153.69L666.50 148.73L666.80 147.96L667.10 149.78L667.40 149.90L667.70 150.25L668.00 153.69L668.30 151.31L668.60 152.13L668.90 150.13L669.20 150.22L669.50 150.51L669.80 150.41L670.10 148.99L670.40 149.08L670.70 149.46L671.00 150.38L671.30 151.42L671.60 150.82L671.90 150.42L672.20 151.26L672.50 151.24L672.80 152.21L673.10 150.94L673.40 149.03L673.70 150.40L674.00 149.90L674.30 150.24L674.60 150.32L674.90 151.19L675.20 151.39L675.50 151.45L675.80 149.94L676.10 151.66L676.40 152.59L676.70 148.34L677.00 150.58L677.30 150.92L677.60 151.50L677.90 149.41L678.20 152.56L678.50 149.73L678.80 151.54L679.10 152.05L679.40 149.99L679.70 148.64L680.00 151.11L680.30 150.48L680.60 150.58L680.90 149.33L681.20 151.05L681.50 148.61L681.80 150.44L682.10 152.35L682.40 150.97L682.70 151.76L683.00 149.98L683.30 152.69L683.60 149.28L683.90 150.81L684.20 151.87L684.50 152.06L684.80 150.90" fill="none" stroke="#22aa22" stroke-width="0.65" stroke-linejoin="round" opacity="1"/><path d="M368.30 171.33L368.60 170.31L368.90 171.81L369.20 173.70L369.50 171.51L369.80 170.98L370.10 172.43L370.40 174.41L370.70 172.63L371.00 170.69L371.30 171.86L371.60 171.67L371.90 172.04L372.20 172.71L372.50 169.60L372.80 174.31L373.10 173.61L373.40 171.29L373.70 172.07L374.00 171.54L374.30 171.89L374.60 172.59L374.90 173.08L375.20 171.49L375.50 173.52L375.80 173.76L376.10 173.86L376.40 174.64L376.70 172.37L377.00 171.69L377.30 171.61L377.60 174.15L377.90 173.23L378.20 175.26L378.50 175.22L378.80 174.46L379.10 171.66L379.40 170.63L379.70 170.82L380.00 172.10L380.30 173.80L380.60 174.67L380.90 173.03L381.20 173.46L381.50 172.52L381.80 172.84L382.10 173.31L382.40 173.63L382.70 173.63L383.00 175.58L383.30 171.43L383.60 171.91L383.90 172.46L384.20 174.47L384.50 173.50L384.80 172.15L385.10 171.39L385.40 175.35L385.70 172.54L386.00 175.76L386.30 174.66L386.60 173.05L386.90 174.15L387.20 174.02L387.50 173.52L387.80 174.80L388.10 173.80L388.40 172.80L388.70 174.18L389.00 174.22L389.30 174.65L389.60 174.98L389.90 173.12L390.20 172.84L390.50 173.39L390.80 173.60L391.10 171.22L391.40 174.22L391.70 171.57L392.00 171.44L392.30 175.33L392.60 172.92L392.90 175.00L393.20 169.32L393.50 173.61L393.80 174.37L394.10 175.02L394.40 173.87L394.70 172.93L395.00 173.68L395.30 173.19L395.60 170.98L395.90 174.16L396.20 177.15L396.50 174.55L396.80 173.00L397.10 174.13L397.40 173.78L397.70 174.49L398.00 172.28L398.30 174.50L398.60 172.87L398.90 171.23L399.20 174.44L399.50 172.68L399.80 171.29L400.10 176.05L400.40 174.31L400.70 173.34L401.00 173.83L401.30 173.82L401.60 176.07L401.90 175.76L402.20 171.79L402.50 173.25L402.80 172.39L403.10 174.14L403.40 175.63L403.70 174.26L404.00 174.79L404.30 172.81L404.60 173.05L404.90 171.71L405.20 173.79L405.50 173.37L405.80 173.29L406.10 174.84L406.40 172.93L406.70 173.16L407.00 172.51L407.30 174.30L407.60 173.45L407.90 172.79L408.20 173.56L408.50 174.34L408.80 173.00L409.10 172.71L409.40 172.86L409.70 172.50L410.00 173.09L410.30 173.24L410.60 173.47L410.90 173.71L411.20 173.98L411.50 173.77L411.80 172.64L412.10 174.70L412.40 174.46L412.70 173.24L413.00 172.73L413.30 173.21L413.60 174.58L413.90 173.09L414.20 171.98L414.50 174.02L414.80 171.81L415.10 172.92L415.40 172.44L415.70 173.31L416.00 172.55L416.30 172.52L416.60 173.05L416.90 171.24L417.20 174.53L417.50 169.85L417.80 173.48L418.10 173.79L418.40 173.18L418.70 171.38L419.00 173.09L419.30 172.99L419.60 169.99L419.90 173.64L420.20 174.93L420.50 172.97L420.80 171.04L421.10 172.85L421.40 171.99L421.70 171.85L422.00 171.22L422.30 173.39L422.60 174.44L422.90 171.43L423.20 171.32L423.50 171.82L423.80 171.90L424.10 170.81L424.40 173.80L424.70 172.32L425.00 171.30L425.30 173.53L425.60 171.37L425.90 172.40L426.20 170.79L426.50 172.94L426.80 170.25L427.10 173.53L427.40 170.58L427.70 171.62L428.00 170.25L428.30 173.58L428.60 171.14L428.90 170.30L429.20 171.42L429.50 171.41L429.80 170.43L430.10 169.17L430.40 170.66L430.70 169.32L431.00 170.82L431.30 169.71L431.60 171.22L431.90 169.80L432.20 168.55L432.50 171.35L432.80 169.01L433.10 170.40L433.40 168.57L433.70 169.32L434.00 169.55L434.30 167.56L434.60 169.32L434.90 168.77L435.20 168.43L435.50 164.78L435.80 170.29L436.10 169.38L436.40 167.83L436.70 169.06L437.00 168.58L437.30 169.26L437.60 170.72L437.90 168.86L438.20 168.45L438.50 169.12L438.80 167.65L439.10 166.75L439.40 165.41L439.70 170.29L440.00 168.66L440.30 165.28L440.60 169.31L440.90 168.72L441.20 169.07L441.50 168.77L441.80 166.16L442.10 169.73L442.40 167.24L442.70 168.88L443.00 166.50L443.30 167.87L443.60 166.29L443.90 169.11L444.20 167.89L444.50 167.79L444.80 166.10L445.10 168.42L445.40 166.87L445.70 163.22L446.00 169.79L446.30 167.39L446.60 167.22L446.90 167.31L447.20 163.78L447.50 166.21L447.80 167.68L448.10 168.34L448.40 168.23L448.70 167.34L449.00 165.98L449.30 165.63L449.60 165.53L449.90 167.93L450.20 166.41L450.50 168.41L450.80 165.27L451.10 167.00L451.40 165.39L451.70 167.33L452.00 166.70L452.30 165.86L452.60 166.14L452.90 165.51L453.20 164.47L453.50 164.67L453.80 164.91L454.10 164.62L454.40 164.02L454.70 160.99L455.00 165.16L455.30 165.13L455.60 163.76L455.90 164.50L456.20 164.55L456.50 164.01L456.80 164.09L457.10 163.76L457.40 164.64L457.70 161.09L458.00 163.67L458.30 161.86L458.60 162.23L458.90 161.70L459.20 161.83L459.50 163.22L459.80 159.35L460.10 159.82L460.40 162.00L460.70 158.11L461.00 161.72L461.30 160.54L461.60 161.08L461.90 157.97L462.20 159.94L462.50 158.76L462.80 157.98L463.10 158.33L463.40 157.83L463.70 156.38L464.00 155.08L464.30 157.83L464.60 157.25L464.90 155.08L465.20 156.05L465.50 153.99L465.80 154.30L466.10 150.88L466.40 151.07L466.70 151.78L467.00 150.95L467.30 148.88L467.60 149.37L467.90 146.16L468.20 148.11L468.50 147.10L468.80 147.45L469.10 146.45L469.40 145.30L469.70 144.36L470.00 143.77L470.30 145.46L470.60 142.90L470.90 143.16L471.20 141.05L471.50 141.24L471.80 139.94L472.10 139.81L472.40 139.06L472.70 137.67L473.00 132.86L473.30 138.28L473.60 136.02L473.90 138.53L474.20 136.36L474.50 135.66L474.80 136.05L475.10 137.46L475.40 134.26L475.70 137.35L476.00 136.44L476.30 134.41L476.60 138.53L476.90 141.46L477.20 139.86L477.50 141.69L477.80 142.92L478.10 140.29L478.40 143.56L478.70 144.12L479.00 144.54L479.30 147.48L479.60 144.67L479.90 146.73L480.20 146.51L480.50 147.47L480.80 148.12L481.10 148.58L481.40 149.60L481.70 149.67L482.00 151.36L482.30 152.11L482.60 152.23L482.90 149.54L483.20 152.37L483.50 156.01L483.80 150.81L484.10 155.35L484.40 154.26L484.70 154.93L485.00 154.68L485.30 155.00L485.60 154.07L485.90 157.67L486.20 157.33L486.50 155.62L486.80 157.00L487.10 155.90L487.40 156.09L487.70 156.84L488.00 156.56L488.30 159.53L488.60 158.45L488.90 159.67L489.20 157.87L489.50 156.71L489.80 157.24L490.10 159.15L490.40 158.20L490.70 158.53L491.00 160.04L491.30 157.75L491.60 158.50L491.90 159.58L492.20 155.20L492.50 157.78L492.80 161.84L493.10 157.90L493.40 159.19L493.70 158.26L494.00 158.80L494.30 159.40L494.60 159.63L494.90 161.47L495.20 158.66L495.50 159.12L495.80 159.44L496.10 159.20L496.40 160.84L496.70 159.47L497.00 159.43L497.30 160.03L497.60 160.55L497.90 157.49L498.20 160.17L498.50 159.02L498.80 157.48L499.10 159.03L499.40 159.68L499.70 163.03L500.00 159.22L500.30 159.18L500.60 158.41L500.90 158.51L501.20 159.25L501.50 159.01L501.80 158.79L502.10 161.15L502.40 159.16L502.70 158.15L503.00 160.13L503.30 161.85L503.60 161.35L503.90 156.64L504.20 157.81L504.50 157.73L504.80 157.40L505.10 157.48L505.40 158.33L505.70 159.26L506.00 158.56L506.30 156.63L506.60 158.33L506.90 159.02L507.20 158.03L507.50 158.70L507.80 157.90L508.10 157.05L508.40 159.17L508.70 159.02L509.00 156.76L509.30 159.64L509.60 159.38L509.90 158.61L510.20 161.16L510.50 156.69L510.80 158.35L511.10 158.52L511.40 157.35L511.70 156.50L512.00 161.32L512.30 155.12L512.60 157.22L512.90 155.14L513.20 159.13L513.50 157.68L513.80 157.65L514.10 157.21L514.40 155.92L514.70 157.52L515.00 157.91L515.30 156.35L515.60 157.27L515.90 157.64L516.20 156.72L516.50 156.62L516.80 156.77L517.10 155.89L517.40 156.47L517.70 158.87L518.00 157.01L518.30 159.63L518.60 160.43L518.90 158.21L519.20 161.57L519.50 158.87L519.80 159.93L520.10 161.80L520.40 160.08L520.70 159.48L521.00 158.22L521.30 161.77L521.60 159.72L521.90 163.73L522.20 161.80L522.50 163.91L522.80 163.52L523.10 162.56L523.40 164.07L523.70 162.66L524.00 163.80L524.30 160.96L524.60 162.71L524.90 166.55L525.20 164.41L525.50 166.48L525.80 165.48L526.10 165.54L526.40 167.72L526.70 166.98L527.00 166.72L527.30 167.93L527.60 167.14L527.90 163.81L528.20 168.32L528.50 166.50L528.80 169.30L529.10 166.99L529.40 167.47L529.70 167.78L530.00 169.59L530.30 166.92L530.60 166.78L530.90 167.40L531.20 162.12L531.50 165.31L531.80 164.96L532.10 164.68L532.40 165.64L532.70 162.43L533.00 162.88L533.30 164.64L533.60 163.96L533.90 163.83L534.20 163.38L534.50 168.31L534.80 163.24L535.10 161.81L535.40 161.30L535.70 162.59L536.00 162.64L536.30 158.98L536.60 160.60L536.90 159.76L537.20 158.69L537.50 156.87L537.80 155.64L538.10 156.52L538.40 156.73L538.70 154.23L539.00 158.66L539.30 156.64L539.60 155.57L539.90 156.42L540.20 155.73L540.50 156.21L540.80 157.91L541.10 158.62L541.40 158.83L541.70 162.12L542.00 160.03L542.30 161.30L542.60 161.10L542.90 169.18L543.20 164.91L543.50 164.97L543.80 166.70L544.10 166.71L544.40 166.71L544.70 166.33L545.00 168.32L545.30 167.92L545.60 168.46L545.90 168.10L546.20 169.79L546.50 166.79L546.80 164.50L547.10 165.88L547.40 166.60L547.70 166.56L548.00 168.14L548.30 169.79L548.60 170.22L548.90 169.18L549.20 172.40L549.50 171.58L549.80 172.06L550.10 173.11L550.40 173.11L550.70 173.77L551.00 173.34L551.30 172.98L551.60 173.57L551.90 175.66L552.20 174.53L552.50 175.09L552.80 172.35L553.10 175.07L553.40 175.43L553.70 174.06L554.00 175.85L554.30 175.54L554.60 176.11L554.90 176.31L555.20 176.95L555.50 174.72L555.80 173.56L556.10 176.68L556.40 175.75L556.70 175.87L557.00 172.53L557.30 177.44L557.60 177.32L557.90 175.58L558.20 175.97L558.50 176.19L558.80 177.68L559.10 177.36L559.40 175.33L559.70 177.16L560.00 178.28L560.30 177.70L560.60 179.64L560.90 176.91L561.20 177.58L561.50 177.32L561.80 175.41L562.10 177.16L562.40 175.43L562.70 175.60L563.00 177.66L563.30 177.31L563.60 176.96L563.90 178.13L564.20 176.81L564.50 175.56L564.80 177.52L565.10 175.08L565.40 177.39L565.70 176.98L566.00 178.37L566.30 176.97L566.60 177.08L566.90 178.19L567.20 176.29L567.50 177.41L567.80 176.60L568.10 177.12L568.40 177.86L568.70 177.46L569.00 178.56L569.30 179.47L569.60 176.58L569.90 176.82L570.20 178.17L570.50 177.48L570.80 176.03L571.10 179.59L571.40 178.74L571.70 179.22L572.00 178.99L572.30 177.44L572.60 178.70L572.90 177.14L573.20 178.31L573.50 179.19L573.80 178.18L574.10 176.48L574.40 181.88L574.70 178.21L575.00 178.32L575.30 177.24L575.60 178.16L575.90 178.96L576.20 175.93L576.50 177.08L576.80 176.31L577.10 178.29L577.40 179.34L577.70 177.96L578.00 178.77L578.30 178.80L578.60 179.07L578.90 177.63L579.20 179.97L579.50 177.46L579.80 177.39L580.10 179.44L580.40 176.51L580.70 178.86L581.00 179.12L581.30 178.16L581.60 178.96L581.90 179.41L582.20 179.47L582.50 178.83L582.80 180.13L583.10 175.74L583.40 178.87L583.70 178.96L584.00 177.57L584.30 175.83L584.60 179.27L584.90 180.72L585.20 177.73L585.50 178.68L585.80 176.36L586.10 179.04L586.40 178.93L586.70 179.78L587.00 178.84L587.30 177.82L587.60 179.46L587.90 180.55L588.20 180.55L588.50 179.41L588.80 179.83L589.10 180.02L589.40 180.84L589.70 180.96L590.00 177.66L590.30 178.75L590.60 179.47L590.90 179.38L591.20 180.11L591.50 180.04L591.80 179.37L592.10 177.53L592.40 180.71L592.70 180.47L593.00 180.26L593.30 180.66L593.60 179.78L593.90 175.37L594.20 177.34L594.50 179.95L594.80 180.45L595.10 179.22L595.40 179.89L595.70 178.77L596.00 178.48L596.30 179.28L596.60 178.96L596.90 182.55L597.20 179.66L597.50 179.01L597.80 180.11L598.10 179.57L598.40 176.43L598.70 181.36L599.00 179.47L599.30 177.65L599.60 179.38L599.90 179.19L600.20 179.63L600.50 180.03L600.80 180.99L601.10 179.83L601.40 181.51L601.70 180.69L602.00 180.24L602.30 178.90L602.60 178.73L602.90 180.76L603.20 179.18L603.50 179.43L603.80 181.83L604.10 181.36L604.40 182.56L604.70 181.58L605.00 179.29L605.30 180.56L605.60 178.38L605.90 179.76L606.20 181.86L606.50 182.04L606.80 180.57L607.10 180.43L607.40 179.34L607.70 182.16L608.00 178.18L608.30 181.15L608.60 181.24L608.90 179.94L609.20 182.07L609.50 179.46L609.80 181.46L610.10 181.05L610.40 181.77L610.70 179.65L611.00 180.33L611.30 181.02L611.60 182.03L611.90 181.23L612.20 180.29L612.50 180.40L612.80 181.83L613.10 180.70L613.40 182.19L613.70 179.65L614.00 182.03L614.30 179.58L614.60 181.41L614.90 180.43L615.20 180.64L615.50 182.02L615.80 180.16L616.10 183.93L616.40 181.82L616.70 181.46L617.00 182.41L617.30 181.70L617.60 181.09L617.90 186.00L618.20 179.58L618.50 180.27L618.80 182.26L619.10 182.39L619.40 184.01L619.70 182.58L620.00 182.51L620.30 179.61L620.60 180.26L620.90 181.95L621.20 179.22L621.50 181.54L621.80 181.63L622.10 180.67L622.40 179.68L622.70 182.89L623.00 183.96L623.30 182.50L623.60 182.68L623.90 180.33L624.20 179.22L624.50 183.82L624.80 180.53L625.10 182.69L625.40 182.65L625.70 180.08L626.00 181.18L626.30 182.71L626.60 180.58L626.90 183.69L627.20 182.45L627.50 179.72L627.80 178.92L628.10 182.05L628.40 182.63L628.70 183.14L629.00 180.20L629.30 183.61L629.60 180.97L629.90 180.86L630.20 180.42L630.50 181.08L630.80 181.52L631.10 180.26L631.40 183.92L631.70 182.41L632.00 183.22L632.30 181.40L632.60 181.26L632.90 182.43L633.20 180.35L633.50 182.60L633.80 182.29L634.10 180.48L634.40 181.19L634.70 182.46L635.00 181.65L635.30 183.35L635.60 182.89L635.90 183.36L636.20 182.93L636.50 182.37L636.80 181.40L637.10 181.64L637.40 182.67L637.70 183.24L638.00 182.07L638.30 181.24L638.60 180.85L638.90 182.67L639.20 183.82L639.50 179.59L639.80 182.67L640.10 183.02L640.40 184.42L640.70 182.17L641.00 182.55L641.30 183.33L641.60 183.02L641.90 180.09L642.20 181.72L642.50 179.74L642.80 182.64L643.10 184.21L643.40 182.71L643.70 181.03L644.00 180.51L644.30 184.61L644.60 181.91L644.90 181.94L645.20 183.06L645.50 181.68L645.80 183.99L646.10 182.68L646.40 182.34L646.70 185.02L647.00 182.05L647.30 183.92L647.60 182.62L647.90 184.47L648.20 182.07L648.50 182.30L648.80 184.18L649.10 182.03L649.40 183.21L649.70 184.03L650.00 185.13L650.30 183.37L650.60 184.51L650.90 184.40L651.20 181.81L651.50 183.43L651.80 182.59L652.10 183.43L652.40 180.37L652.70 183.44L653.00 181.83L653.30 183.75L653.60 184.57L653.90 184.03L654.20 184.81L654.50 183.60L654.80 182.53L655.10 184.16L655.40 183.96L655.70 183.12L656.00 182.64L656.30 185.81L656.60 181.56L656.90 184.05L657.20 182.44L657.50 183.84L657.80 182.50L658.10 185.03L658.40 183.64L658.70 184.98L659.00 185.49L659.30 184.49L659.60 184.88L659.90 183.65L660.20 182.84L660.50 182.45L660.80 184.53L661.10 184.34L661.40 184.48L661.70 183.55L662.00 183.68L662.30 185.22L662.60 182.24L662.90 183.08L663.20 184.38L663.50 184.17L663.80 183.57L664.10 182.62L664.40 183.47L664.70 183.36L665.00 182.67L665.30 184.33L665.60 183.68L665.90 184.81L666.20 183.56L666.50 183.48L666.80 183.53L667.10 184.80L667.40 184.24L667.70 183.00L668.00 180.03L668.30 183.68L668.60 183.80L668.90 184.09L669.20 183.94L669.50 183.19L669.80 184.24L670.10 182.60L670.40 184.02L670.70 184.04L671.00 183.80L671.30 185.50L671.60 184.35L671.90 183.29L672.20 184.84L672.50 182.60L672.80 183.80L673.10 182.85L673.40 185.29L673.70 184.15L674.00 181.70L674.30 182.84L674.60 183.55L674.90 184.45L675.20 183.08L675.50 184.56L675.80 185.26L676.10 183.53L676.40 186.01L676.70 183.91L677.00 185.49L677.30 184.30L677.60 184.57L677.90 182.24L678.20 182.25L678.50 183.34L678.80 184.15L679.10 184.69L679.40 187.63L679.70 184.76L680.00 184.35L680.30 185.19L680.60 186.81L680.90 183.12L681.20 185.00L681.50 186.93L681.80 185.03L682.10 182.46L682.40 184.61L682.70 186.94L683.00 183.81L683.30 184.59L683.60 183.80L683.90 187.18L684.20 183.82L684.50 183.12L684.80 184.95" fill="none" stroke="#ee1111" stroke-width="0.65" stroke-linejoin="round" opacity="1"/><path d="M368.30 214.99L368.60 213.01L368.90 214.76L369.20 212.36L369.50 212.54L369.80 211.33L370.10 210.79L370.40 211.45L370.70 211.69L371.00 208.66L371.30 209.09L371.60 209.75L371.90 211.09L372.20 210.70L372.50 211.78L372.80 210.10L373.10 212.54L373.40 211.75L373.70 213.19L374.00 213.37L374.30 213.13L374.60 212.79L374.90 214.39L375.20 214.74L375.50 214.98L375.80 213.18L376.10 215.63L376.40 217.01L376.70 213.93L377.00 216.70L377.30 214.28L377.60 217.01L377.90 215.41L378.20 213.93L378.50 213.69L378.80 216.72L379.10 215.22L379.40 215.65L379.70 216.08L380.00 216.49L380.30 215.80L380.60 215.55L380.90 213.62L381.20 215.94L381.50 215.50L381.80 216.47L382.10 214.92L382.40 214.72L382.70 215.20L383.00 214.21L383.30 216.38L383.60 213.46L383.90 214.70L384.20 214.82L384.50 216.24L384.80 216.40L385.10 217.19L385.40 214.91L385.70 214.44L386.00 214.77L386.30 217.88L386.60 217.78L386.90 216.60L387.20 214.64L387.50 216.24L387.80 216.27L388.10 214.71L388.40 215.56L388.70 215.98L389.00 215.86L389.30 214.80L389.60 214.25L389.90 214.26L390.20 215.45L390.50 214.78L390.80 215.57L391.10 215.42L391.40 216.19L391.70 214.90L392.00 217.95L392.30 215.35L392.60 216.57L392.90 216.49L393.20 216.11L393.50 216.23L393.80 215.63L394.10 215.27L394.40 214.39L394.70 216.74L395.00 215.63L395.30 217.23L395.60 216.56L395.90 215.18L396.20 217.20L396.50 214.96L396.80 216.39L397.10 213.97L397.40 217.35L397.70 216.42L398.00 216.11L398.30 216.99L398.60 217.63L398.90 215.93L399.20 216.27L399.50 216.46L399.80 215.14L400.10 214.98L400.40 214.80L400.70 215.00L401.00 216.58L401.30 215.43L401.60 216.09L401.90 214.56L402.20 216.11L402.50 215.18L402.80 218.11L403.10 217.73L403.40 214.37L403.70 215.78L404.00 215.29L404.30 217.02L404.60 217.38L404.90 219.47L405.20 214.93L405.50 215.09L405.80 216.71L406.10 215.60L406.40 214.77L406.70 216.75L407.00 213.85L407.30 213.63L407.60 217.95L407.90 216.32L408.20 216.15L408.50 216.01L408.80 218.95L409.10 215.48L409.40 214.90L409.70 214.98L410.00 215.68L410.30 216.23L410.60 215.34L410.90 216.91L411.20 215.10L411.50 215.93L411.80 213.80L412.10 217.27L412.40 215.91L412.70 214.35L413.00 216.19L413.30 214.91L413.60 216.26L413.90 215.17L414.20 215.34L414.50 216.06L414.80 213.87L415.10 217.22L415.40 214.56L415.70 216.14L416.00 215.37L416.30 214.58L416.60 215.57L416.90 215.48L417.20 215.27L417.50 217.06L417.80 211.04L418.10 215.76L418.40 215.99L418.70 214.20L419.00 213.24L419.30 214.87L419.60 216.49L419.90 216.60L420.20 213.70L420.50 216.09L420.80 215.99L421.10 215.18L421.40 213.90L421.70 214.78L422.00 214.08L422.30 215.32L422.60 214.24L422.90 213.27L423.20 215.43L423.50 215.95L423.80 213.74L424.10 213.95L424.40 213.96L424.70 215.24L425.00 215.01L425.30 213.32L425.60 213.76L425.90 214.09L426.20 213.70L426.50 216.21L426.80 210.68L427.10 215.00L427.40 214.59L427.70 213.11L428.00 215.05L428.30 215.50L428.60 213.66L428.90 213.49L429.20 214.71L429.50 213.85L429.80 211.12L430.10 212.67L430.40 211.87L430.70 211.50L431.00 211.26L431.30 211.75L431.60 211.77L431.90 210.48L432.20 210.06L432.50 212.31L432.80 210.19L433.10 215.06L433.40 211.30L433.70 210.71L434.00 212.32L434.30 214.15L434.60 212.00L434.90 212.55L435.20 212.28L435.50 212.14L435.80 213.49L436.10 212.51L436.40 212.91L436.70 211.25L437.00 212.16L437.30 211.51L437.60 215.02L437.90 211.36L438.20 210.74L438.50 212.50L438.80 212.66L439.10 212.54L439.40 212.22L439.70 214.10L440.00 211.33L440.30 212.57L440.60 210.67L440.90 211.73L441.20 211.12L441.50 212.67L441.80 208.14L442.10 210.51L442.40 210.91L442.70 214.46L443.00 210.38L443.30 212.70L443.60 212.21L443.90 211.81L444.20 210.89L444.50 213.56L444.80 213.96L445.10 212.06L445.40 210.46L445.70 212.52L446.00 211.62L446.30 211.63L446.60 210.05L446.90 211.12L447.20 210.17L447.50 207.32L447.80 210.08L448.10 210.37L448.40 210.52L448.70 210.40L449.00 211.11L449.30 211.67L449.60 209.15L449.90 211.39L450.20 209.20L450.50 207.97L450.80 208.77L451.10 209.03L451.40 209.37L451.70 208.37L452.00 209.84L452.30 206.79L452.60 210.23L452.90 206.82L453.20 207.76L453.50 208.36L453.80 208.77L454.10 207.97L454.40 210.80L454.70 206.46L455.00 208.24L455.30 205.37L455.60 208.35L455.90 208.24L456.20 205.14L456.50 206.87L456.80 207.83L457.10 206.86L457.40 206.40L457.70 206.93L458.00 207.93L458.30 206.16L458.60 205.23L458.90 206.27L459.20 207.05L459.50 206.57L459.80 205.28L460.10 206.07L460.40 205.56L460.70 205.24L461.00 208.51L461.30 205.58L461.60 204.14L461.90 205.22L462.20 204.64L462.50 204.30L462.80 203.65L463.10 204.74L463.40 203.40L463.70 203.10L464.00 201.98L464.30 201.07L464.60 202.30L464.90 201.16L465.20 204.03L465.50 201.19L465.80 200.70L466.10 199.91L466.40 199.47L466.70 200.76L467.00 196.95L467.30 198.75L467.60 198.70L467.90 195.58L468.20 194.56L468.50 197.83L468.80 193.72L469.10 194.77L469.40 194.07L469.70 193.80L470.00 189.90L470.30 191.83L470.60 191.95L470.90 189.92L471.20 191.21L471.50 189.15L471.80 188.73L472.10 186.33L472.40 188.35L472.70 186.71L473.00 184.46L473.30 185.77L473.60 183.63L473.90 182.57L474.20 181.19L474.50 177.94L474.80 178.45L475.10 174.05L475.40 175.79L475.70 173.49L476.00 171.78L476.30 170.96L476.60 165.60L476.90 165.73L477.20 164.14L477.50 162.64L477.80 161.22L478.10 159.06L478.40 159.52L478.70 159.50L479.00 161.31L479.30 162.27L479.60 163.08L479.90 162.97L480.20 164.70L480.50 165.15L480.80 168.19L481.10 168.21L481.40 169.85L481.70 171.44L482.00 173.02L482.30 172.89L482.60 174.76L482.90 175.48L483.20 173.55L483.50 174.98L483.80 177.62L484.10 178.68L484.40 176.87L484.70 178.16L485.00 179.56L485.30 178.82L485.60 179.49L485.90 178.98L486.20 182.36L486.50 182.02L486.80 182.99L487.10 181.93L487.40 181.13L487.70 181.55L488.00 182.57L488.30 185.10L488.60 180.82L488.90 181.85L489.20 179.58L489.50 182.46L489.80 182.16L490.10 181.61L490.40 182.46L490.70 181.20L491.00 178.34L491.30 178.62L491.60 180.32L491.90 178.40L492.20 180.18L492.50 179.49L492.80 176.28L493.10 175.94L493.40 174.45L493.70 174.03L494.00 175.65L494.30 173.48L494.60 174.56L494.90 171.39L495.20 172.55L495.50 170.47L495.80 168.32L496.10 169.15L496.40 167.07L496.70 166.97L497.00 165.89L497.30 164.56L497.60 163.02L497.90 160.17L498.20 158.50L498.50 152.66L498.80 153.63L499.10 152.36L499.40 151.27L499.70 150.41L500.00 149.27L500.30 146.99L500.60 147.01L500.90 143.82L501.20 145.75L501.50 147.38L501.80 147.30L502.10 149.72L502.40 152.47L502.70 150.89L503.00 150.16L503.30 153.00L503.60 158.82L503.90 159.22L504.20 158.40L504.50 161.23L504.80 161.91L505.10 165.51L505.40 164.15L505.70 170.07L506.00 170.80L506.30 172.09L506.60 171.08L506.90 173.29L507.20 176.35L507.50 176.40L507.80 180.22L508.10 180.32L508.40 180.63L508.70 182.07L509.00 180.77L509.30 183.80L509.60 184.82L509.90 186.42L510.20 187.35L510.50 187.23L510.80 187.78L511.10 190.58L511.40 191.34L511.70 192.71L512.00 192.10L512.30 191.54L512.60 195.82L512.90 193.29L513.20 196.15L513.50 194.97L513.80 197.62L514.10 200.12L514.40 201.76L514.70 201.81L515.00 199.54L515.30 203.00L515.60 202.20L515.90 201.12L516.20 202.09L516.50 203.87L516.80 203.19L517.10 204.21L517.40 204.17L517.70 205.57L518.00 206.48L518.30 204.95L518.60 205.76L518.90 208.91L519.20 208.91L519.50 207.90L519.80 207.79L520.10 207.03L520.40 208.88L520.70 209.99L521.00 210.95L521.30 210.33L521.60 211.38L521.90 211.20L522.20 212.47L522.50 212.24L522.80 210.79L523.10 210.60L523.40 211.91L523.70 214.46L524.00 212.28L524.30 209.62L524.60 213.63L524.90 210.84L525.20 209.45L525.50 212.48L525.80 211.59L526.10 212.25L526.40 211.57L526.70 212.28L527.00 213.37L527.30 213.68L527.60 214.29L527.90 214.58L528.20 210.73L528.50 212.30L528.80 212.17L529.10 213.55L529.40 212.60L529.70 213.91L530.00 212.63L530.30 214.89L530.60 215.59L530.90 212.91L531.20 213.48L531.50 213.85L531.80 215.65L532.10 212.62L532.40 216.42L532.70 213.91L533.00 214.93L533.30 215.02L533.60 214.76L533.90 216.27L534.20 213.09L534.50 214.88L534.80 213.13L535.10 216.29L535.40 215.04L535.70 213.15L536.00 214.96L536.30 214.74L536.60 214.84L536.90 215.02L537.20 214.50L537.50 214.49L537.80 214.91L538.10 215.65L538.40 215.93L538.70 217.39L539.00 216.29L539.30 215.20L539.60 216.01L539.90 213.25L540.20 217.55L540.50 216.45L540.80 215.52L541.10 214.33L541.40 214.33L541.70 215.33L542.00 215.26L542.30 215.74L542.60 216.75L542.90 215.41L543.20 215.92L543.50 216.07L543.80 214.50L544.10 214.83L544.40 214.63L544.70 214.67L545.00 215.95L545.30 214.64L545.60 213.84L545.90 215.01L546.20 213.32L546.50 211.33L546.80 214.62L547.10 213.51L547.40 213.38L547.70 213.71L548.00 215.59L548.30 215.38L548.60 216.02L548.90 215.08L549.20 216.09L549.50 216.01L549.80 214.79L550.10 215.17L550.40 216.34L550.70 214.94L551.00 216.21L551.30 216.55L551.60 216.30L551.90 214.16L552.20 216.63L552.50 217.19L552.80 215.57L553.10 215.61L553.40 213.95L553.70 214.55L554.00 215.25L554.30 213.69L554.60 213.88L554.90 214.62L555.20 215.71L555.50 215.61L555.80 214.83L556.10 217.02L556.40 216.23L556.70 215.73L557.00 214.93L557.30 215.79L557.60 216.09L557.90 214.94L558.20 215.80L558.50 214.93L558.80 214.75L559.10 215.56L559.40 215.65L559.70 215.64L560.00 218.69L560.30 216.95L560.60 215.94L560.90 215.25L561.20 217.82L561.50 216.98L561.80 215.87L562.10 218.70L562.40 216.49L562.70 218.41L563.00 218.29L563.30 217.94L563.60 216.02L563.90 216.26L564.20 216.95L564.50 216.82L564.80 219.29L565.10 216.64L565.40 215.12L565.70 219.55L566.00 216.11L566.30 217.36L566.60 219.09L566.90 214.51L567.20 218.06L567.50 220.20L567.80 217.23L568.10 215.46L568.40 217.08L568.70 218.07L569.00 219.87L569.30 215.39L569.60 218.18L569.90 217.81L570.20 218.19L570.50 218.12L570.80 216.44L571.10 218.34L571.40 216.23L571.70 215.78L572.00 219.77L572.30 218.23L572.60 217.81L572.90 217.63L573.20 218.08L573.50 216.57L573.80 216.29L574.10 219.03L574.40 217.36L574.70 219.21L575.00 219.45L575.30 219.96L575.60 219.45L575.90 220.67L576.20 219.25L576.50 218.35L576.80 219.07L577.10 219.38L577.40 222.25L577.70 219.38L578.00 221.52L578.30 220.67L578.60 220.69L578.90 221.92L579.20 220.78L579.50 220.35L579.80 220.73L580.10 220.40L580.40 221.73L580.70 221.72L581.00 219.32L581.30 222.20L581.60 222.11L581.90 221.04L582.20 220.24L582.50 222.80L582.80 221.73L583.10 220.85L583.40 221.65L583.70 221.94L584.00 221.73L584.30 221.66L584.60 223.98L584.90 222.97L585.20 222.19L585.50 220.59L585.80 221.59L586.10 222.46L586.40 222.92L586.70 224.10L587.00 220.04L587.30 221.39L587.60 221.08L587.90 222.14L588.20 220.41L588.50 221.84L588.80 223.31L589.10 222.86L589.40 222.87L589.70 222.54L590.00 221.27L590.30 220.24L590.60 221.93L590.90 222.30L591.20 220.26L591.50 224.20L591.80 223.03L592.10 222.88L592.40 223.39L592.70 222.45L593.00 222.06L593.30 224.19L593.60 222.40L593.90 223.09L594.20 223.48L594.50 223.28L594.80 221.81L595.10 225.59L595.40 220.60L595.70 223.45L596.00 223.81L596.30 224.76L596.60 223.68L596.90 222.76L597.20 221.64L597.50 223.93L597.80 222.78L598.10 224.30L598.40 220.60L598.70 223.75L599.00 222.04L599.30 222.73L599.60 223.82L599.90 220.97L600.20 226.14L600.50 223.25L600.80 223.76L601.10 223.35L601.40 225.14L601.70 223.98L602.00 222.78L602.30 223.95L602.60 223.93L602.90 225.86L603.20 223.43L603.50 223.05L603.80 224.78L604.10 222.25L604.40 224.19L604.70 222.98L605.00 225.61L605.30 225.18L605.60 223.75L605.90 224.63L606.20 225.33L606.50 223.76L606.80 224.34L607.10 226.69L607.40 223.80L607.70 226.25L608.00 223.61L608.30 223.43L608.60 226.05L608.90 225.36L609.20 225.58L609.50 223.02L609.80 226.00L610.10 219.73L610.40 223.29L610.70 228.04L611.00 222.05L611.30 225.32L611.60 224.86L611.90 224.88L612.20 223.91L612.50 223.72L612.80 226.91L613.10 224.10L613.40 224.64L613.70 222.87L614.00 221.74L614.30 223.49L614.60 220.42L614.90 225.14L615.20 225.27L615.50 225.32L615.80 223.62L616.10 225.35L616.40 223.50L616.70 223.52L617.00 225.42L617.30 223.71L617.60 226.23L617.90 224.44L618.20 224.02L618.50 225.19L618.80 225.51L619.10 224.50L619.40 226.29L619.70 224.59L620.00 226.84L620.30 226.24L620.60 225.10L620.90 225.18L621.20 226.12L621.50 224.59L621.80 224.18L622.10 225.21L622.40 224.17L622.70 224.08L623.00 224.69L623.30 226.08L623.60 225.60L623.90 225.05L624.20 224.99L624.50 227.60L624.80 226.43L625.10 224.23L625.40 225.27L625.70 228.03L626.00 226.27L626.30 224.93L626.60 224.00L626.90 226.14L627.20 224.83L627.50 225.47L627.80 224.43L628.10 225.72L628.40 226.19L628.70 227.28L629.00 227.68L629.30 226.10L629.60 226.15L629.90 225.11L630.20 224.15L630.50 222.87L630.80 225.50L631.10 226.76L631.40 225.11L631.70 224.99L632.00 226.13L632.30 230.14L632.60 223.45L632.90 225.51L633.20 224.54L633.50 224.17L633.80 224.52L634.10 224.89L634.40 224.07L634.70 227.60L635.00 226.37L635.30 225.71L635.60 226.77L635.90 226.55L636.20 224.91L636.50 226.09L636.80 226.16L637.10 226.70L637.40 226.43L637.70 223.60L638.00 225.39L638.30 225.54L638.60 223.92L638.90 225.56L639.20 225.63L639.50 224.86L639.80 226.62L640.10 228.08L640.40 223.68L640.70 224.29L641.00 226.34L641.30 225.96L641.60 225.30L641.90 222.39L642.20 226.73L642.50 224.11L642.80 225.49L643.10 225.96L643.40 227.71L643.70 223.42L644.00 228.25L644.30 225.07L644.60 224.81L644.90 225.95L645.20 226.70L645.50 225.17L645.80 224.63L646.10 225.31L646.40 225.00L646.70 223.74L647.00 225.81L647.30 224.74L647.60 226.40L647.90 227.30L648.20 225.12L648.50 225.19L648.80 225.71L649.10 228.10L649.40 224.54L649.70 225.31L650.00 226.17L650.30 225.59L650.60 225.41L650.90 226.43L651.20 227.17L651.50 226.08L651.80 225.13L652.10 224.63L652.40 225.59L652.70 227.81L653.00 225.20L653.30 226.51L653.60 226.61L653.90 225.51L654.20 225.99L654.50 225.70L654.80 226.27L655.10 225.24L655.40 226.36L655.70 224.66L656.00 225.33L656.30 227.48L656.60 224.74L656.90 226.60L657.20 227.45L657.50 224.26L657.80 226.64L658.10 225.72L658.40 226.04L658.70 225.54L659.00 225.93L659.30 226.50L659.60 225.89L659.90 226.94L660.20 225.46L660.50 226.21L660.80 226.44L661.10 224.50L661.40 225.51L661.70 225.53L662.00 225.30L662.30 226.50L662.60 225.68L662.90 224.00L663.20 226.36L663.50 226.24L663.80 225.79L664.10 225.96L664.40 223.83L664.70 226.49L665.00 224.64L665.30 224.82L665.60 223.86L665.90 224.09L666.20 227.02L666.50 225.73L666.80 223.82L667.10 225.55L667.40 225.25L667.70 223.79L668.00 224.85L668.30 225.18L668.60 223.54L668.90 226.42L669.20 226.43L669.50 225.74L669.80 225.97L670.10 226.05L670.40 224.43L670.70 225.38L671.00 227.80L671.30 225.91L671.60 229.47L671.90 225.38L672.20 226.64L672.50 228.24L672.80 227.64L673.10 226.44L673.40 227.22L673.70 225.81L674.00 225.80L674.30 226.79L674.60 224.99L674.90 226.09L675.20 225.30L675.50 226.10L675.80 225.03L676.10 226.74L676.40 227.73L676.70 229.19L677.00 225.92L677.30 226.75L677.60 225.58L677.90 227.86L678.20 226.29L678.50 229.41L678.80 227.19L679.10 227.06L679.40 227.46L679.70 224.82L680.00 226.51L680.30 227.01L680.60 226.05L680.90 227.96L681.20 228.52L681.50 229.90L681.80 226.48L682.10 228.40L682.40 229.27L682.70 228.64L683.00 228.45L683.30 226.73L683.60 228.07L683.90 228.48L684.20 228.60L684.50 231.09L684.80 228.71" fill="none" stroke="#1212cc" stroke-width="0.65" stroke-linejoin="round" opacity="1"/><text x="457.10" y="19.00" font-size="8.10" fill="#1e1e1e" font-weight="normal" text-anchor="start" textLength="8.87" lengthAdjust="spacingAndGlyphs" stroke="#1e1e1e" stroke-width="0.18">Fo</text><text x="466.60" y="44.20" font-size="8.10" fill="#1e1e1e" font-weight="normal" text-anchor="start" textLength="7.18" lengthAdjust="spacingAndGlyphs" stroke="#1e1e1e" stroke-width="0.18">Di</text><text x="484.90" y="30.20" font-size="8.10" fill="#1e1e1e" font-weight="normal" text-anchor="start" textLength="21.96" lengthAdjust="spacingAndGlyphs" stroke="#1e1e1e" stroke-width="0.18">Fa, Fo</text><text x="502.20" y="44.20" font-size="8.10" fill="#1e1e1e" font-weight="normal" text-anchor="start" textLength="15.63" lengthAdjust="spacingAndGlyphs" stroke="#1e1e1e" stroke-width="0.18">I, En</text><text x="524.80" y="22.50" font-size="8.10" fill="#1e1e1e" font-weight="normal" text-anchor="start" textLength="37.73" lengthAdjust="spacingAndGlyphs" stroke="#1e1e1e" stroke-width="0.18">Tro, Fo, En</text><text x="535.20" y="148.40" font-size="8.10" fill="#1e1e1e" font-weight="normal" text-anchor="start" textLength="11.12" lengthAdjust="spacingAndGlyphs" stroke="#1e1e1e" stroke-width="0.18">Tro</text><text x="450.10" y="182.00" font-size="8.10" fill="#1e1e1e" font-weight="normal" text-anchor="start" textLength="8.03" lengthAdjust="spacingAndGlyphs" stroke="#1e1e1e" stroke-width="0.18">Lz</text><text x="525.60" y="196.20" font-size="8.10" fill="#1e1e1e" font-weight="normal" text-anchor="start" textLength="12.25" lengthAdjust="spacingAndGlyphs" stroke="#1e1e1e" stroke-width="0.18">Cro</text><text x="370.90" y="203.90" font-size="8.10" fill="#1e1e1e" font-weight="normal" text-anchor="start" textLength="10.56" lengthAdjust="spacingAndGlyphs" stroke="#1e1e1e" stroke-width="0.18">Thi</text><line x1="512.80" y1="28.80" x2="531.50" y2="36.50" stroke="#1b5b78" stroke-width="1.65"/><line x1="461.30" y1="180.80" x2="473.50" y2="172.00" stroke="#1b5b78" stroke-width="1.65"/><line x1="512.60" y1="185.20" x2="521.70" y2="192.20" stroke="#1b5b78" stroke-width="1.65"/><text x="683.40" y="68.10" font-size="8.20" fill="#7e22f0" font-weight="normal" text-anchor="end" textLength="62.97" lengthAdjust="spacingAndGlyphs" stroke="#7e22f0" stroke-width="0.18">ALH 83100 750°C</text><text x="683.40" y="105.80" font-size="8.20" fill="#141414" font-weight="normal" text-anchor="end" textLength="62.97" lengthAdjust="spacingAndGlyphs" stroke="#141414" stroke-width="0.18">ALH 83100 725°C</text><text x="683.40" y="136.50" font-size="8.20" fill="#22aa22" font-weight="normal" text-anchor="end" textLength="62.97" lengthAdjust="spacingAndGlyphs" stroke="#22aa22" stroke-width="0.18">ALH 83100 525°C</text><text x="683.40" y="175.30" font-size="8.20" fill="#ee1111" font-weight="normal" text-anchor="end" textLength="62.97" lengthAdjust="spacingAndGlyphs" stroke="#ee1111" stroke-width="0.18">ALH 83100 500°C</text><text x="683.40" y="214.80" font-size="8.20" fill="#1212cc" font-weight="normal" text-anchor="end" textLength="58.63" lengthAdjust="spacingAndGlyphs" stroke="#1212cc" stroke-width="0.18">ALH 83100 28°C</text><line x1="195.10" y1="293.50" x2="195.10" y2="502.80" stroke="#b8b8b8" stroke-width="0.8"/><line x1="195.10" y1="502.30" x2="512.50" y2="502.30" stroke="#b8b8b8" stroke-width="0.8"/><line x1="193.50" y1="499.20" x2="195.10" y2="499.20" stroke="#888" stroke-width="0.5"/><line x1="194.10" y1="493.97" x2="195.10" y2="493.97" stroke="#888" stroke-width="0.5"/><line x1="194.10" y1="488.73" x2="195.10" y2="488.73" stroke="#888" stroke-width="0.5"/><line x1="194.10" y1="483.50" x2="195.10" y2="483.50" stroke="#888" stroke-width="0.5"/><line x1="194.10" y1="478.26" x2="195.10" y2="478.26" stroke="#888" stroke-width="0.5"/><line x1="193.50" y1="473.03" x2="195.10" y2="473.03" stroke="#888" stroke-width="0.5"/><line x1="194.10" y1="467.80" x2="195.10" y2="467.80" stroke="#888" stroke-width="0.5"/><line x1="194.10" y1="462.56" x2="195.10" y2="462.56" stroke="#888" stroke-width="0.5"/><line x1="194.10" y1="457.33" x2="195.10" y2="457.33" stroke="#888" stroke-width="0.5"/><line x1="194.10" y1="452.09" x2="195.10" y2="452.09" stroke="#888" stroke-width="0.5"/><line x1="193.50" y1="446.86" x2="195.10" y2="446.86" stroke="#888" stroke-width="0.5"/><line x1="194.10" y1="441.63" x2="195.10" y2="441.63" stroke="#888" stroke-width="0.5"/><line x1="194.10" y1="436.39" x2="195.10" y2="436.39" stroke="#888" stroke-width="0.5"/><line x1="194.10" y1="431.16" x2="195.10" y2="431.16" stroke="#888" stroke-width="0.5"/><line x1="194.10" y1="425.92" x2="195.10" y2="425.92" stroke="#888" stroke-width="0.5"/><line x1="193.50" y1="420.69" x2="195.10" y2="420.69" stroke="#888" stroke-width="0.5"/><line x1="194.10" y1="415.46" x2="195.10" y2="415.46" stroke="#888" stroke-width="0.5"/><line x1="194.10" y1="410.22" x2="195.10" y2="410.22" stroke="#888" stroke-width="0.5"/><line x1="194.10" y1="404.99" x2="195.10" y2="404.99" stroke="#888" stroke-width="0.5"/><line x1="194.10" y1="399.75" x2="195.10" y2="399.75" stroke="#888" stroke-width="0.5"/><line x1="193.50" y1="394.52" x2="195.10" y2="394.52" stroke="#888" stroke-width="0.5"/><line x1="194.10" y1="389.29" x2="195.10" y2="389.29" stroke="#888" stroke-width="0.5"/><line x1="194.10" y1="384.05" x2="195.10" y2="384.05" stroke="#888" stroke-width="0.5"/><line x1="194.10" y1="378.82" x2="195.10" y2="378.82" stroke="#888" stroke-width="0.5"/><line x1="194.10" y1="373.58" x2="195.10" y2="373.58" stroke="#888" stroke-width="0.5"/><line x1="193.50" y1="368.35" x2="195.10" y2="368.35" stroke="#888" stroke-width="0.5"/><line x1="194.10" y1="363.12" x2="195.10" y2="363.12" stroke="#888" stroke-width="0.5"/><line x1="194.10" y1="357.88" x2="195.10" y2="357.88" stroke="#888" stroke-width="0.5"/><line x1="194.10" y1="352.65" x2="195.10" y2="352.65" stroke="#888" stroke-width="0.5"/><line x1="194.10" y1="347.41" x2="195.10" y2="347.41" stroke="#888" stroke-width="0.5"/><line x1="193.50" y1="342.18" x2="195.10" y2="342.18" stroke="#888" stroke-width="0.5"/><line x1="194.10" y1="336.95" x2="195.10" y2="336.95" stroke="#888" stroke-width="0.5"/><line x1="194.10" y1="331.71" x2="195.10" y2="331.71" stroke="#888" stroke-width="0.5"/><line x1="194.10" y1="326.48" x2="195.10" y2="326.48" stroke="#888" stroke-width="0.5"/><line x1="194.10" y1="321.24" x2="195.10" y2="321.24" stroke="#888" stroke-width="0.5"/><line x1="193.50" y1="316.01" x2="195.10" y2="316.01" stroke="#888" stroke-width="0.5"/><line x1="194.10" y1="310.78" x2="195.10" y2="310.78" stroke="#888" stroke-width="0.5"/><line x1="194.10" y1="305.54" x2="195.10" y2="305.54" stroke="#888" stroke-width="0.5"/><text x="180.00" y="501.30" font-size="6.70" fill="#333" font-weight="normal" text-anchor="start" textLength="3.30" lengthAdjust="spacingAndGlyphs" >0</text><text x="180.00" y="475.13" font-size="6.70" fill="#333" font-weight="normal" text-anchor="start" textLength="9.90" lengthAdjust="spacingAndGlyphs" >500</text><text x="180.00" y="448.96" font-size="6.70" fill="#333" font-weight="normal" text-anchor="start" textLength="13.20" lengthAdjust="spacingAndGlyphs" >1000</text><text x="180.00" y="422.79" font-size="6.70" fill="#333" font-weight="normal" text-anchor="start" textLength="13.20" lengthAdjust="spacingAndGlyphs" >1500</text><text x="180.00" y="396.62" font-size="6.70" fill="#333" font-weight="normal" text-anchor="start" textLength="13.20" lengthAdjust="spacingAndGlyphs" >2000</text><text x="180.00" y="370.45" font-size="6.70" fill="#333" font-weight="normal" text-anchor="start" textLength="13.20" lengthAdjust="spacingAndGlyphs" >2500</text><text x="180.00" y="344.28" font-size="6.70" fill="#333" font-weight="normal" text-anchor="start" textLength="13.20" lengthAdjust="spacingAndGlyphs" >3000</text><text x="180.00" y="318.11" font-size="6.70" fill="#333" font-weight="normal" text-anchor="start" textLength="13.20" lengthAdjust="spacingAndGlyphs" >3500</text><line x1="200.58" y1="502.30" x2="200.58" y2="503.50" stroke="#888" stroke-width="0.5"/><line x1="208.98" y1="502.30" x2="208.98" y2="503.50" stroke="#888" stroke-width="0.5"/><line x1="217.39" y1="502.30" x2="217.39" y2="503.50" stroke="#888" stroke-width="0.5"/><line x1="225.79" y1="502.30" x2="225.79" y2="503.50" stroke="#888" stroke-width="0.5"/><line x1="234.20" y1="502.30" x2="234.20" y2="503.50" stroke="#888" stroke-width="0.5"/><line x1="242.61" y1="502.30" x2="242.61" y2="503.50" stroke="#888" stroke-width="0.5"/><line x1="251.01" y1="502.30" x2="251.01" y2="503.50" stroke="#888" stroke-width="0.5"/><line x1="259.42" y1="502.30" x2="259.42" y2="503.50" stroke="#888" stroke-width="0.5"/><line x1="267.82" y1="502.30" x2="267.82" y2="503.50" stroke="#888" stroke-width="0.5"/><line x1="276.23" y1="502.30" x2="276.23" y2="503.50" stroke="#888" stroke-width="0.5"/><line x1="284.64" y1="502.30" x2="284.64" y2="503.50" stroke="#888" stroke-width="0.5"/><line x1="293.04" y1="502.30" x2="293.04" y2="503.50" stroke="#888" stroke-width="0.5"/><line x1="301.45" y1="502.30" x2="301.45" y2="503.50" stroke="#888" stroke-width="0.5"/><line x1="309.85" y1="502.30" x2="309.85" y2="503.50" stroke="#888" stroke-width="0.5"/><line x1="318.26" y1="502.30" x2="318.26" y2="503.50" stroke="#888" stroke-width="0.5"/><line x1="326.67" y1="502.30" x2="326.67" y2="503.50" stroke="#888" stroke-width="0.5"/><line x1="335.07" y1="502.30" x2="335.07" y2="503.50" stroke="#888" stroke-width="0.5"/><line x1="343.48" y1="502.30" x2="343.48" y2="503.50" stroke="#888" stroke-width="0.5"/><line x1="351.88" y1="502.30" x2="351.88" y2="503.50" stroke="#888" stroke-width="0.5"/><line x1="360.29" y1="502.30" x2="360.29" y2="503.50" stroke="#888" stroke-width="0.5"/><line x1="368.70" y1="502.30" x2="368.70" y2="503.50" stroke="#888" stroke-width="0.5"/><line x1="377.10" y1="502.30" x2="377.10" y2="503.50" stroke="#888" stroke-width="0.5"/><line x1="385.51" y1="502.30" x2="385.51" y2="503.50" stroke="#888" stroke-width="0.5"/><line x1="393.91" y1="502.30" x2="393.91" y2="503.50" stroke="#888" stroke-width="0.5"/><line x1="402.32" y1="502.30" x2="402.32" y2="503.50" stroke="#888" stroke-width="0.5"/><line x1="410.73" y1="502.30" x2="410.73" y2="503.50" stroke="#888" stroke-width="0.5"/><line x1="419.13" y1="502.30" x2="419.13" y2="503.50" stroke="#888" stroke-width="0.5"/><line x1="427.54" y1="502.30" x2="427.54" y2="503.50" stroke="#888" stroke-width="0.5"/><line x1="435.94" y1="502.30" x2="435.94" y2="503.50" stroke="#888" stroke-width="0.5"/><line x1="444.35" y1="502.30" x2="444.35" y2="503.50" stroke="#888" stroke-width="0.5"/><line x1="452.76" y1="502.30" x2="452.76" y2="503.50" stroke="#888" stroke-width="0.5"/><line x1="461.16" y1="502.30" x2="461.16" y2="503.50" stroke="#888" stroke-width="0.5"/><line x1="469.57" y1="502.30" x2="469.57" y2="503.50" stroke="#888" stroke-width="0.5"/><line x1="477.97" y1="502.30" x2="477.97" y2="503.50" stroke="#888" stroke-width="0.5"/><line x1="486.38" y1="502.30" x2="486.38" y2="503.50" stroke="#888" stroke-width="0.5"/><line x1="494.79" y1="502.30" x2="494.79" y2="503.50" stroke="#888" stroke-width="0.5"/><line x1="503.19" y1="502.30" x2="503.19" y2="503.50" stroke="#888" stroke-width="0.5"/><line x1="511.60" y1="502.30" x2="511.60" y2="503.50" stroke="#888" stroke-width="0.5"/><text x="234.20" y="511.00" font-size="6.70" fill="#333" font-weight="normal" text-anchor="middle" textLength="6.60" lengthAdjust="spacingAndGlyphs" >17</text><text x="276.23" y="511.00" font-size="6.70" fill="#333" font-weight="normal" text-anchor="middle" textLength="6.60" lengthAdjust="spacingAndGlyphs" >18</text><text x="318.26" y="511.00" font-size="6.70" fill="#333" font-weight="normal" text-anchor="middle" textLength="6.60" lengthAdjust="spacingAndGlyphs" >19</text><text x="360.29" y="511.00" font-size="6.70" fill="#333" font-weight="normal" text-anchor="middle" textLength="6.60" lengthAdjust="spacingAndGlyphs" >20</text><text x="402.32" y="511.00" font-size="6.70" fill="#333" font-weight="normal" text-anchor="middle" textLength="6.60" lengthAdjust="spacingAndGlyphs" >21</text><text x="444.35" y="511.00" font-size="6.70" fill="#333" font-weight="normal" text-anchor="middle" textLength="6.60" lengthAdjust="spacingAndGlyphs" >22</text><text x="486.38" y="511.00" font-size="6.70" fill="#333" font-weight="normal" text-anchor="middle" textLength="6.60" lengthAdjust="spacingAndGlyphs" >23</text><text x="353.90" y="518.60" font-size="6.30" fill="#111" font-weight="bold" text-anchor="middle" >°2θ</text><text x="178.60" y="383.00" font-size="6.00" fill="#111" font-weight="bold" text-anchor="middle" transform="rotate(-90 178.6 383)">Counts</text><text x="176.60" y="283.90" font-size="18.20" fill="#000" font-weight="bold" text-anchor="start" stroke="#000" stroke-width="0.3">C</text><path d="M195.00 321.34L195.15 321.84L195.30 319.86L195.45 319.75L195.60 320.91L195.75 322.19L195.90 320.94L196.05 319.46L196.20 319.81L196.35 320.48L196.50 321.41L196.65 320.50L196.80 320.16L196.95 320.28L197.10 320.64L197.25 319.77L197.40 320.46L197.55 320.70L197.70 321.96L197.85 320.37L198.00 321.31L198.15 319.44L198.30 321.19L198.45 320.53L198.60 319.87L198.75 320.33L198.90 321.18L199.05 320.03L199.20 321.27L199.35 321.72L199.50 321.80L199.65 321.78L199.80 319.07L199.95 320.56L200.10 319.59L200.25 321.08L200.40 320.26L200.55 320.38L200.70 320.58L200.85 319.59L201.00 320.21L201.15 319.43L201.30 322.02L201.45 319.64L201.60 320.06L201.75 318.38L201.90 318.63L202.05 319.20L202.20 320.70L202.35 320.65L202.50 320.16L202.65 319.28L202.80 321.57L202.95 318.85L203.10 318.98L203.25 320.19L203.40 318.77L203.55 319.91L203.70 320.52L203.85 319.50L204.00 319.90L204.15 319.50L204.30 318.78L204.45 316.39L204.60 318.15L204.75 319.18L204.90 317.51L205.05 318.35L205.20 318.86L205.35 319.67L205.50 316.86L205.65 317.33L205.80 317.69L205.95 317.60L206.10 315.40L206.25 317.99L206.40 315.01L206.55 316.25L206.70 314.14L206.85 313.48L207.00 313.26L207.15 310.96L207.30 309.16L207.45 306.80L207.50 306.66L207.60 304.21L207.75 305.00L207.90 299.64L208.00 300.10L208.05 298.15L208.20 303.78L208.35 305.55L208.50 306.37L208.65 308.73L208.80 308.26L208.95 309.51L209.10 311.60L209.25 312.54L209.40 312.64L209.55 315.25L209.70 314.95L209.85 314.84L210.00 314.00L210.15 315.61L210.30 315.54L210.45 316.13L210.60 317.35L210.75 316.46L210.90 317.67L211.05 318.59L211.20 318.58L211.35 320.80L211.50 317.35L211.65 319.25L211.80 318.46L211.95 319.71L212.10 322.30L212.25 318.52L212.40 319.91L212.55 320.92L212.70 320.51L212.85 321.39L213.00 319.16L213.15 321.63L213.30 319.90L213.45 319.73L213.60 321.49L213.75 321.48L213.90 320.41L214.05 320.39L214.20 321.03L214.35 321.27L214.50 321.18L214.65 320.44L214.80 319.26L214.95 322.74L215.10 321.72L215.25 320.44L215.40 320.19L215.55 321.07L215.70 321.39L215.85 319.83L216.00 323.21L216.15 322.35L216.30 321.70L216.45 322.38L216.60 322.32L216.75 323.16L216.90 322.35L217.05 323.45L217.20 323.76L217.35 322.06L217.50 321.97L217.65 321.61L217.80 322.26L217.95 321.84L218.10 322.57L218.25 322.88L218.40 323.14L218.55 321.57L218.70 323.71L218.85 322.42L219.00 322.63L219.15 322.27L219.30 320.89L219.45 323.03L219.60 321.13L219.75 323.85L219.90 322.85L220.05 324.29L220.20 323.42L220.35 323.47L220.50 324.11L220.65 322.73L220.80 324.21L220.95 322.61L221.10 322.95L221.25 322.04L221.40 323.16L221.55 323.25L221.70 322.10L221.85 321.33L222.00 322.47L222.15 322.86L222.30 322.27L222.45 321.46L222.60 321.66L222.75 322.05L222.90 319.78L223.05 321.66L223.20 323.53L223.35 320.92L223.50 321.89L223.65 323.65L223.80 322.69L223.95 322.85L224.10 321.81L224.25 320.67L224.40 324.61L224.55 322.15L224.70 322.07L224.85 323.38L225.00 322.58L225.15 321.85L225.30 320.74L225.45 321.63L225.60 321.62L225.75 321.11L225.90 320.92L226.05 320.78L226.20 321.61L226.35 321.15L226.50 322.09L226.65 322.66L226.80 321.99L226.95 321.70L227.10 323.15L227.25 322.29L227.40 320.27L227.55 320.98L227.70 321.83L227.85 320.81L228.00 322.35L228.15 319.97L228.30 319.82L228.45 322.54L228.60 322.16L228.75 320.09L228.90 321.66L229.05 322.85L229.20 320.52L229.35 320.44L229.50 320.40L229.65 320.61L229.80 319.88L229.95 321.05L230.10 320.12L230.25 321.54L230.40 323.58L230.55 320.46L230.70 322.29L230.85 322.52L231.00 319.21L231.15 321.48L231.30 321.35L231.45 321.02L231.60 322.07L231.75 320.87L231.90 321.60L232.05 320.87L232.20 321.07L232.35 320.43L232.50 323.29L232.65 321.04L232.80 319.99L232.95 322.85L233.10 322.45L233.25 320.73L233.40 320.24L233.55 320.10L233.70 321.91L233.85 320.36L234.00 319.93L234.15 321.27L234.30 319.98L234.45 319.85L234.60 321.32L234.75 319.84L234.90 319.68L235.05 318.35L235.20 318.62L235.35 316.68L235.50 317.21L235.65 316.70L235.80 314.61L235.95 313.02L236.10 313.94L236.25 312.53L236.40 312.48L236.55 310.69L236.70 311.25L236.85 311.31L237.00 312.33L237.10 311.60L237.15 310.04L237.30 310.37L237.45 307.87L237.50 308.30L237.60 309.91L237.75 310.26L237.90 313.13L238.05 313.59L238.20 314.26L238.35 314.52L238.50 316.94L238.65 316.34L238.80 317.45L238.95 317.66L239.10 315.63L239.25 318.39L239.40 317.62L239.55 318.37L239.70 318.40L239.85 316.14L240.00 317.41L240.15 317.48L240.30 317.72L240.45 318.04L240.60 316.31L240.75 316.54L240.90 317.19L241.05 314.72L241.20 318.07L241.35 315.28L241.50 317.27L241.65 316.01L241.80 317.51L241.95 316.57L242.10 315.41L242.25 313.72L242.40 315.34L242.55 315.43L242.70 315.57L242.85 313.82L243.00 314.22L243.15 314.30L243.30 315.41L243.45 314.49L243.60 315.41L243.75 316.64L243.90 315.62L244.05 317.56L244.20 316.82L244.35 316.55L244.50 318.04L244.65 317.68L244.80 317.18L244.95 317.14L245.10 317.91L245.25 318.52L245.40 319.50L245.55 318.87L245.70 318.18L245.85 317.61L246.00 319.14L246.15 319.27L246.30 319.96L246.45 318.38L246.60 317.64L246.75 319.63L246.90 318.64L247.05 317.62L247.20 320.30L247.35 319.53L247.50 318.71L247.65 318.86L247.80 317.84L247.95 319.42L248.10 318.02L248.25 317.94L248.40 318.02L248.55 317.15L248.70 319.13L248.85 319.65L249.00 318.72L249.15 315.97L249.30 317.50L249.45 317.03L249.60 317.81L249.75 315.23L249.90 314.99L250.05 316.34L250.20 317.43L250.35 316.03L250.50 317.98L250.65 314.76L250.80 315.25L250.95 314.70L251.10 313.67L251.25 315.11L251.40 312.40L251.55 312.23L251.70 312.45L251.85 311.90L252.00 312.97L252.15 310.85L252.30 311.10L252.45 309.32L252.60 309.99L252.75 307.70L252.90 306.84L253.05 303.90L253.20 304.96L253.35 302.56L253.50 302.94L253.65 301.60L253.80 300.77L253.95 300.59L254.10 299.33L254.25 297.80L254.40 298.65L254.55 298.83L254.70 298.03L254.85 300.44L255.00 302.15L255.15 302.03L255.30 303.03L255.45 304.49L255.60 306.20L255.75 305.66L255.90 307.94L256.05 307.01L256.20 308.84L256.35 309.44L256.50 308.35L256.65 310.78L256.80 310.94L256.95 309.71L257.10 311.37L257.25 311.69L257.40 311.89L257.55 313.52L257.70 312.73L257.85 313.82L258.00 312.98L258.15 313.95L258.30 316.12L258.45 314.97L258.60 313.30L258.75 314.05L258.90 314.98L259.05 313.74L259.20 316.35L259.35 315.53L259.50 315.64L259.65 315.88L259.80 315.30L259.95 314.97L260.10 313.20L260.25 314.69L260.40 316.50L260.55 316.98L260.70 316.20L260.85 314.66L261.00 316.08L261.15 316.39L261.30 315.02L261.45 317.36L261.60 314.78L261.75 315.56L261.90 314.22L262.05 315.77L262.20 313.38L262.35 313.37L262.50 314.92L262.65 312.36L262.80 312.74L262.95 313.49L263.10 313.10L263.25 310.96L263.40 313.09L263.55 312.23L263.70 313.69L263.85 310.98L264.00 313.44L264.15 313.24L264.30 312.67L264.45 312.82L264.60 313.79L264.75 313.00L264.90 313.56L265.05 313.40L265.20 314.49L265.35 315.23L265.50 313.33L265.65 315.07L265.80 315.55L265.95 316.86L266.10 314.92L266.25 316.99L266.40 315.58L266.55 316.67L266.70 316.63L266.85 316.88L267.00 316.50L267.15 316.09L267.30 318.59L267.45 318.70L267.60 317.34L267.75 317.38L267.90 317.39L268.05 316.34L268.20 316.55L268.35 317.98L268.50 318.48L268.65 317.36L268.80 316.68L268.95 316.53L269.10 316.95L269.25 318.17L269.40 317.53L269.55 316.12L269.70 316.34L269.85 317.72L270.00 317.66L270.15 319.01L270.30 318.68L270.45 317.46L270.60 316.61L270.75 317.41L270.90 316.11L271.05 316.49L271.20 318.05L271.35 317.63L271.50 317.89L271.65 318.44L271.80 316.54L271.95 317.64L272.10 316.91L272.25 317.09L272.40 316.97L272.55 317.22L272.70 315.36L272.85 315.33L273.00 316.66L273.15 316.98L273.30 316.02L273.45 316.34L273.60 315.06L273.75 317.25L273.90 316.73L274.05 317.67L274.20 315.83L274.35 316.08L274.50 316.19L274.65 317.38L274.80 316.58L274.95 316.38L275.10 314.42L275.25 315.12L275.40 314.51L275.55 315.68L275.70 316.63L275.85 315.83L276.00 314.87L276.15 317.62L276.30 314.62L276.45 316.92L276.60 316.67L276.75 315.78L276.90 316.77L277.05 314.43L277.20 314.89L277.35 315.09L277.50 315.69L277.65 315.12L277.80 316.86L277.95 314.85L278.10 314.95L278.25 313.98L278.40 315.53L278.55 315.78L278.70 314.28L278.85 313.76L279.00 313.60L279.15 315.96L279.30 315.55L279.45 315.03L279.60 315.43L279.75 315.13L279.90 315.06L280.05 313.05L280.20 315.02L280.35 315.15L280.50 315.51L280.65 315.30L280.80 313.69L280.95 314.53L281.10 312.90L281.25 315.54L281.40 312.84L281.55 314.74L281.70 313.28L281.85 313.20L282.00 313.07L282.15 313.55L282.30 314.17L282.45 314.81L282.60 313.42L282.75 314.45L282.90 314.41L283.05 315.47L283.20 312.91L283.35 313.71L283.50 314.01L283.65 313.44L283.80 313.84L283.95 312.56L284.10 312.80L284.25 312.49L284.40 312.42L284.55 312.13L284.70 312.81L284.85 311.70L285.00 312.25L285.15 313.29L285.30 311.20L285.45 311.63L285.60 312.18L285.75 311.50L285.90 311.52L286.05 314.17L286.20 312.66L286.35 311.86L286.50 311.54L286.65 310.71L286.80 311.03L286.95 309.88L287.10 312.53L287.25 311.47L287.40 312.75L287.55 311.83L287.70 309.89L287.85 313.51L288.00 312.14L288.15 312.44L288.30 311.01L288.45 310.95L288.60 311.24L288.75 313.04L288.90 310.11L289.05 310.21L289.20 311.65L289.35 309.23L289.50 312.42L289.65 309.87L289.80 312.00L289.95 310.67L290.10 310.41L290.25 309.59L290.40 311.96L290.55 310.26L290.70 309.18L290.85 310.97L291.00 310.16L291.15 310.70L291.30 309.75L291.45 310.39L291.60 310.39L291.75 309.90L291.90 308.25L292.05 310.17L292.20 310.92L292.35 309.95L292.50 310.32L292.65 310.09L292.80 308.97L292.95 310.17L293.10 308.85L293.25 308.03L293.40 307.70L293.55 309.76L293.70 309.35L293.85 309.18L294.00 307.96L294.15 306.67L294.30 309.02L294.45 308.09L294.60 307.50L294.75 307.40L294.90 307.32L295.05 306.01L295.20 308.23L295.35 308.20L295.50 308.25L295.65 306.98L295.80 306.02L295.95 305.80L296.10 306.68L296.25 308.49L296.40 307.61L296.55 306.64L296.70 306.93L296.85 307.13L297.00 306.30L297.15 306.33L297.30 306.19L297.45 305.31L297.60 304.65L297.75 305.06L297.90 306.54L298.05 303.83L298.20 304.76L298.35 304.64L298.50 304.92L298.65 304.31L298.80 305.33L298.95 304.09L299.10 304.27L299.25 304.79L299.40 302.63L299.55 304.83L299.70 304.60L299.85 302.23L300.00 303.21L300.15 302.42L300.30 302.60L300.45 303.49L300.60 300.81L300.75 303.17L300.90 302.59L301.05 301.98L301.20 303.86L301.35 301.10L301.50 299.94L301.65 301.48L301.80 301.03L301.95 300.06L302.10 298.41L302.25 298.38L302.40 301.44L302.55 298.21L302.70 300.67L302.85 299.85L303.00 296.73L303.15 298.68L303.30 298.81L303.45 298.94L303.60 298.83L303.75 298.44L303.90 296.87L304.05 296.31L304.20 295.96L304.35 296.22L304.50 294.39L304.65 293.78L304.80 296.42L304.95 294.59L305.10 294.03L305.25 291.86L305.40 290.11L305.55 289.22L305.70 287.54L305.85 286.38L306.00 284.30L306.15 285.33L306.20 284.78L306.30 284.10L306.45 281.88L306.60 280.30L306.75 280.10L306.90 283.33L307.00 282.88L307.05 282.53L307.20 282.85L307.35 281.80L307.50 282.83L307.65 281.51L307.80 283.21L307.95 283.17L308.10 283.07L308.25 282.62L308.40 282.32L308.55 282.34L308.70 282.74L308.85 281.59L309.00 282.66L309.15 282.04L309.30 279.60L309.40 280.50L309.45 279.27L309.60 282.35L309.75 283.01L309.80 283.01L309.90 282.96L310.05 283.66L310.20 283.96L310.35 286.18L310.50 286.15L310.65 287.06L310.80 289.52L310.95 292.09L311.10 292.89L311.25 292.64L311.40 294.19L311.55 294.58L311.70 295.56L311.85 295.69L312.00 297.00L312.15 296.46L312.30 297.19L312.45 298.13L312.60 298.57L312.75 300.90L312.90 298.49L313.05 298.57L313.20 300.49L313.35 300.69L313.50 301.05L313.65 300.54L313.80 299.48L313.95 300.79L314.10 300.17L314.25 301.53L314.40 303.47L314.55 301.78L314.70 302.43L314.85 303.62L315.00 301.64L315.15 303.89L315.30 303.16L315.45 303.15L315.60 303.76L315.75 303.49L315.90 305.53L316.05 305.14L316.20 304.93L316.35 306.13L316.50 304.58L316.65 303.70L316.80 307.82L316.95 306.34L317.10 307.88L317.25 306.61L317.40 306.02L317.55 306.96L317.70 309.08L317.85 308.81L318.00 308.09L318.15 309.54L318.30 308.85L318.45 309.52L318.60 308.59L318.75 307.69L318.90 310.12L319.05 310.88L319.20 309.60L319.35 312.09L319.50 311.01L319.65 312.50L319.80 311.56L319.95 312.13L320.10 310.74L320.25 309.60L320.40 313.05L320.55 312.20L320.70 311.63L320.85 310.11L321.00 311.82L321.15 310.00L321.30 311.47L321.45 311.83L321.60 311.46L321.75 310.04L321.90 311.55L322.05 311.14L322.20 311.37L322.35 311.82L322.50 309.71L322.65 309.19L322.80 307.62L322.95 310.65L323.10 308.16L323.25 309.87L323.40 308.85L323.55 309.60L323.70 308.83L323.85 309.30L324.00 308.98L324.15 310.06L324.30 309.14L324.45 311.62L324.60 309.61L324.75 311.24L324.90 311.86L325.05 312.76L325.20 312.94L325.35 312.39L325.50 313.52L325.65 311.00L325.80 312.95L325.95 313.62L326.10 313.10L326.25 314.73L326.40 313.72L326.55 314.34L326.70 312.86L326.85 314.82L327.00 314.65L327.10 312.53L327.15 313.77L327.30 306.86L327.45 302.34L327.50 302.00L327.60 305.72L327.75 311.09L327.90 314.56L328.05 313.81L328.20 313.28L328.35 313.26L328.50 314.19L328.60 314.40L328.65 311.87L328.80 309.40L328.95 303.05L329.00 303.90L329.10 306.85L329.25 309.97L329.40 313.81L329.55 317.16L329.70 315.88L329.85 315.12L330.00 314.42L330.15 316.74L330.30 315.39L330.45 314.43L330.60 312.70L330.75 315.54L330.90 315.09L331.05 314.55L331.20 312.74L331.35 311.69L331.50 314.13L331.65 312.43L331.80 313.09L331.95 309.68L332.10 311.55L332.25 312.23L332.40 311.34L332.55 312.95L332.70 311.98L332.85 312.13L333.00 311.90L333.15 311.29L333.30 311.09L333.45 311.48L333.60 313.93L333.75 313.11L333.90 311.88L334.05 314.63L334.20 315.11L334.35 315.13L334.50 316.50L334.65 315.74L334.80 319.43L334.95 316.85L335.10 316.55L335.25 317.78L335.40 318.04L335.55 318.88L335.70 318.46L335.85 319.03L336.00 318.60L336.15 318.48L336.30 317.87L336.45 318.27L336.60 318.99L336.75 317.93L336.90 319.89L337.05 318.86L337.20 320.22L337.35 319.83L337.50 318.73L337.65 321.80L337.80 320.17L337.95 318.10L338.10 319.03L338.25 317.93L338.40 317.49L338.55 318.37L338.70 317.63L338.85 318.78L339.00 316.53L339.15 317.95L339.30 318.76L339.45 317.59L339.60 318.94L339.75 318.80L339.90 315.61L340.05 316.24L340.20 315.93L340.35 317.79L340.50 315.88L340.65 314.40L340.80 315.83L340.95 316.22L341.10 316.50L341.25 316.65L341.40 317.02L341.55 316.44L341.70 317.37L341.85 317.20L342.00 317.46L342.15 317.83L342.30 319.12L342.45 318.78L342.60 319.37L342.75 318.25L342.90 317.53L343.05 319.11L343.20 320.22L343.35 319.53L343.50 319.19L343.65 318.34L343.80 320.26L343.95 319.30L344.10 318.63L344.25 320.66L344.40 320.51L344.55 321.73L344.70 319.52L344.85 319.50L345.00 321.05L345.15 322.53L345.30 321.37L345.45 321.92L345.60 320.15L345.75 321.84L345.90 320.30L346.05 320.12L346.20 322.64L346.35 323.17L346.50 321.57L346.65 322.53L346.80 323.03L346.95 322.44L347.10 322.82L347.25 323.24L347.40 322.24L347.55 322.14L347.70 323.71L347.85 325.60L348.00 323.18L348.15 323.25L348.30 325.59L348.45 323.30L348.60 323.34L348.75 325.94L348.90 324.90L349.05 325.05L349.20 322.45L349.35 325.77L349.50 324.43L349.65 325.70L349.80 325.36L349.95 326.67L350.10 325.80L350.25 326.82L350.40 324.56L350.55 326.29L350.70 325.89L350.85 324.91L351.00 324.18L351.15 325.33L351.30 324.79L351.45 325.26L351.60 325.28L351.75 325.19L351.90 325.98L352.05 326.08L352.20 325.06L352.35 325.33L352.50 326.33L352.65 325.69L352.80 325.79L352.95 325.41L353.10 324.61L353.25 326.16L353.40 325.48L353.55 326.42L353.70 326.27L353.85 326.22L354.00 327.50L354.15 325.92L354.30 327.84L354.45 327.12L354.60 329.37L354.75 326.04L354.90 326.30L355.05 327.35L355.20 327.77L355.35 326.79L355.50 327.84L355.65 327.25L355.80 325.81L355.95 327.50L356.10 328.05L356.25 327.65L356.40 327.21L356.55 326.50L356.70 328.07L356.85 328.76L357.00 326.10L357.15 328.05L357.30 325.78L357.45 327.71L357.60 324.99L357.75 327.40L357.90 328.21L358.05 326.25L358.20 326.38L358.35 327.79L358.50 327.47L358.65 328.03L358.80 329.09L358.95 326.69L359.10 328.07L359.25 326.03L359.40 325.03L359.55 327.01L359.70 325.39L359.85 328.50L360.00 328.91L360.15 328.60L360.30 326.62L360.45 327.51L360.60 326.67L360.75 328.19L360.90 327.49L361.05 329.58L361.20 329.02L361.35 327.50L361.50 330.19L361.65 329.07L361.80 329.77L361.95 329.03L362.10 330.31L362.25 330.22L362.40 329.95L362.55 330.56L362.70 329.86L362.85 329.58L363.00 328.57L363.15 327.26L363.30 330.43L363.45 329.76L363.60 328.06L363.75 329.81L363.90 329.05L364.05 328.84L364.20 330.36L364.35 329.38L364.50 326.93L364.65 328.11L364.80 328.78L364.95 328.66L365.00 328.01L365.10 326.53L365.25 326.05L365.40 322.47L365.55 324.03L365.70 321.36L365.85 319.73L366.00 319.50L366.15 319.59L366.30 321.63L366.45 322.09L366.60 323.44L366.75 324.87L366.90 328.62L367.00 327.39L367.05 328.03L367.20 328.00L367.35 327.18L367.50 328.63L367.65 327.83L367.80 327.36L367.95 327.19L368.10 327.87L368.25 327.85L368.40 329.66L368.55 326.01L368.70 329.56L368.85 329.94L369.00 330.05L369.15 327.93L369.30 327.84L369.45 329.87L369.60 329.33L369.75 328.98L369.90 327.87L370.05 328.43L370.20 327.55L370.35 330.25L370.50 329.64L370.65 328.17L370.80 329.53L370.95 328.60L371.10 326.45L371.25 328.86L371.40 327.50L371.55 328.45L371.70 327.59L371.85 326.99L372.00 327.53L372.15 328.77L372.30 326.53L372.45 326.63L372.60 326.02L372.75 326.80L372.90 328.16L373.05 327.95L373.20 327.71L373.35 327.60L373.50 328.54L373.65 328.49L373.80 328.54L373.95 326.17L374.10 326.40L374.25 327.80L374.40 327.81L374.55 326.71L374.70 327.11L374.85 328.34L375.00 327.47L375.15 327.06L375.30 328.26L375.45 327.60L375.60 328.88L375.75 328.75L375.90 328.43L376.05 328.07L376.20 330.07L376.35 328.45L376.50 329.56L376.65 329.27L376.80 329.78L376.95 329.51L377.10 330.92L377.25 330.17L377.40 329.17L377.55 329.08L377.70 331.08L377.85 330.28L378.00 331.77L378.15 331.13L378.30 332.01L378.45 329.53L378.60 330.62L378.75 332.23L378.90 329.91L379.05 331.87L379.20 331.19L379.35 332.28L379.50 331.04L379.65 330.67L379.80 332.17L379.95 333.48L380.10 330.28L380.25 331.67L380.40 330.63L380.55 331.85L380.70 331.81L380.85 330.66L381.00 330.04L381.15 331.40L381.30 331.34L381.45 332.14L381.60 331.23L381.75 332.26L381.90 331.48L382.05 332.60L382.20 332.15L382.35 329.83L382.50 330.84L382.65 331.48L382.80 330.79L382.95 331.33L383.10 332.56L383.25 330.10L383.40 330.22L383.55 330.00L383.70 331.81L383.85 332.91L384.00 329.90L384.15 332.93L384.30 329.30L384.45 330.71L384.60 330.68L384.75 330.81L384.90 329.80L385.05 329.33L385.20 330.19L385.35 331.28L385.50 330.02L385.65 330.54L385.80 330.51L385.95 331.38L386.10 328.86L386.25 331.32L386.40 331.55L386.55 328.53L386.70 330.62L386.85 327.72L387.00 328.65L387.15 329.11L387.30 329.33L387.45 327.57L387.60 328.65L387.75 327.83L387.90 330.33L388.05 328.62L388.20 329.85L388.35 329.23L388.50 330.31L388.65 327.50L388.80 330.03L388.95 328.81L389.10 329.43L389.25 330.84L389.40 331.40L389.55 329.88L389.70 330.36L389.85 332.82L390.00 331.10L390.15 332.04L390.30 332.17L390.45 332.02L390.60 331.22L390.75 331.30L390.90 332.33L391.05 329.00L391.20 330.95L391.35 332.16L391.50 332.35L391.65 332.47L391.80 331.46L391.95 331.23L392.10 330.72L392.25 332.31L392.40 332.12L392.55 332.28L392.70 330.06L392.85 331.83L393.00 331.20L393.15 333.14L393.30 332.89L393.45 332.85L393.60 332.74L393.75 333.32L393.90 332.45L394.05 331.44L394.10 332.36L394.20 331.06L394.35 329.55L394.50 327.89L394.65 325.69L394.70 325.00L394.80 326.45L394.95 327.97L395.10 329.58L395.25 330.58L395.30 331.51L395.40 331.78L395.55 333.91L395.70 331.99L395.85 331.37L396.00 332.77L396.15 332.69L396.30 331.94L396.45 333.17L396.60 331.33L396.75 331.23L396.90 331.86L397.05 332.04L397.20 332.21L397.35 332.50L397.50 333.44L397.65 332.68L397.80 333.06L397.95 332.50L398.10 331.82L398.25 332.80L398.40 331.97L398.55 333.63L398.70 332.77L398.85 332.09L399.00 333.05L399.15 333.30L399.30 332.72L399.45 332.24L399.60 332.97L399.75 332.80L399.90 332.81L400.05 330.64L400.20 332.51L400.35 335.16L400.50 334.51L400.65 333.81L400.80 332.36L400.95 333.30L401.10 332.62L401.25 331.85L401.40 331.54L401.55 331.33L401.70 329.42L401.85 331.84L402.00 331.56L402.15 330.84L402.30 330.86L402.45 329.71L402.60 330.43L402.75 329.99L402.90 329.75L403.05 331.15L403.20 333.16L403.35 332.94L403.50 331.50L403.65 331.23L403.80 333.84L403.95 331.24L404.10 331.60L404.25 332.84L404.40 334.45L404.55 334.28L404.70 330.99L404.85 331.13L405.00 331.85L405.15 334.13L405.30 332.17L405.45 332.37L405.60 334.17L405.75 332.12L405.90 334.55L406.05 331.31L406.20 332.50L406.35 334.38L406.50 332.15L406.65 333.41L406.80 333.99L406.95 333.91L407.10 333.62L407.25 333.63L407.40 333.86L407.55 333.33L407.70 332.74L407.85 335.06L408.00 332.14L408.15 333.29L408.30 332.50L408.45 332.91L408.60 334.18L408.75 331.55L408.90 331.64L409.05 333.49L409.20 333.11L409.35 333.11L409.50 332.80L409.65 333.42L409.80 332.53L409.95 333.92L410.10 332.66L410.25 331.37L410.40 331.62L410.55 333.11L410.70 331.74L410.85 330.95L411.00 332.94L411.15 332.44L411.30 333.24L411.45 333.73L411.60 330.91L411.75 332.70L411.90 331.47L412.05 331.96L412.20 332.53L412.35 332.27L412.50 331.83L412.60 332.16L412.65 331.85L412.80 327.40L412.95 330.02L413.10 328.62L413.25 327.05L413.40 325.35L413.50 324.70L413.55 326.56L413.70 325.93L413.85 327.94L414.00 327.95L414.15 327.97L414.30 331.24L414.40 332.16L414.45 330.01L414.60 333.08L414.75 332.33L414.90 332.03L415.05 330.85L415.20 330.55L415.35 331.54L415.50 331.89L415.65 331.39L415.80 331.65L415.95 332.07L416.10 331.91L416.25 332.17L416.40 331.57L416.55 329.99L416.70 331.99L416.85 331.99L417.00 332.58L417.15 331.99L417.30 330.46L417.45 332.02L417.60 332.69L417.75 333.31L417.90 331.46L418.05 331.68L418.20 331.23L418.35 331.97L418.50 330.87L418.65 332.39L418.80 329.66L418.95 328.71L419.10 329.84L419.25 329.23L419.40 327.81L419.55 328.60L419.70 328.07L419.85 327.28L420.00 329.36L420.15 328.39L420.30 329.26L420.45 329.88L420.60 328.81L420.75 330.39L420.90 329.45L421.05 330.29L421.20 329.82L421.35 329.36L421.50 328.51L421.65 330.05L421.80 330.16L421.95 333.43L422.10 330.76L422.25 331.44L422.40 330.62L422.55 332.42L422.70 332.09L422.85 331.70L423.00 331.81L423.15 329.49L423.30 330.94L423.45 331.56L423.60 333.60L423.75 334.12L423.90 331.43L424.05 332.48L424.20 332.33L424.35 334.48L424.50 331.47L424.65 332.46L424.80 332.72L424.95 332.10L425.10 331.76L425.25 332.52L425.40 332.24L425.55 330.86L425.70 330.95L425.85 331.36L426.00 330.25L426.15 331.68L426.30 328.98L426.45 328.73L426.60 330.24L426.75 328.82L426.90 328.36L427.05 329.55L427.20 328.10L427.35 326.66L427.50 328.45L427.65 329.59L427.80 329.26L427.95 331.07L428.10 330.27L428.25 330.71L428.40 332.33L428.55 330.61L428.70 328.51L428.85 332.26L429.00 332.89L429.15 332.33L429.30 331.17L429.45 332.90L429.60 333.60L429.75 332.69L429.90 331.48L430.05 332.16L430.20 332.94L430.35 331.14L430.50 333.72L430.65 331.31L430.80 334.66L430.95 332.15L431.10 333.71L431.25 333.28L431.40 330.87L431.55 333.51L431.70 332.15L431.85 332.51L432.00 333.15L432.15 331.31L432.30 332.60L432.45 333.33L432.60 333.81L432.75 334.01L432.90 333.48L433.05 330.22L433.20 333.43L433.35 332.07L433.50 331.24L433.65 333.43L433.80 334.09L433.95 333.02L434.10 332.78L434.25 331.95L434.40 332.58L434.55 333.79L434.70 333.28L434.85 333.30L435.00 332.63L435.15 332.55L435.30 332.44L435.45 331.71L435.60 334.45L435.75 331.66L435.90 334.41L436.05 333.75L436.20 332.14L436.35 333.93L436.50 333.75L436.65 333.96L436.80 333.05L436.95 332.72L437.10 332.92L437.25 333.11L437.40 331.83L437.55 334.25L437.70 332.46L437.85 334.58L438.00 334.36L438.15 331.26L438.30 332.24L438.45 332.45L438.60 333.19L438.75 332.15L438.90 333.72L439.05 332.87L439.20 332.02L439.35 334.06L439.50 332.40L439.65 333.83L439.80 335.11L439.95 333.17L440.10 332.76L440.25 331.50L440.40 333.75L440.55 332.87L440.70 333.07L440.85 334.32L441.00 332.14L441.15 333.76L441.30 334.66L441.45 334.09L441.60 332.33L441.75 334.39L441.90 332.89L442.05 334.65L442.20 333.36L442.35 334.26L442.50 331.38L442.65 333.30L442.80 330.95L442.95 333.56L443.10 332.19L443.25 333.73L443.40 333.40L443.55 335.23L443.70 333.82L443.85 333.88L444.00 331.21L444.15 333.30L444.30 332.09L444.45 332.90L444.60 333.01L444.75 333.59L444.90 333.87L445.05 333.83L445.20 333.31L445.35 332.46L445.50 332.94L445.65 333.17L445.80 333.33L445.95 331.21L446.10 333.42L446.25 331.52L446.40 333.39L446.55 332.53L446.70 331.19L446.85 333.17L447.00 331.76L447.15 333.37L447.30 332.96L447.45 332.62L447.60 333.60L447.75 331.83L447.90 332.07L448.05 332.56L448.20 333.23L448.35 332.43L448.50 329.52L448.65 332.45L448.80 332.09L448.95 331.99L449.10 330.94L449.25 331.21L449.40 332.18L449.55 333.17L449.70 331.62L449.85 332.27L450.00 331.84L450.15 333.01L450.30 331.28L450.45 332.78L450.60 333.49L450.75 332.67L450.90 331.22L451.05 331.51L451.20 333.40L451.35 334.37L451.50 331.80L451.65 331.40L451.80 332.74L451.95 331.27L452.10 331.93L452.25 330.73L452.40 331.17L452.55 329.54L452.70 331.47L452.85 328.43L453.00 330.06L453.15 331.14L453.30 331.46L453.45 332.16L453.60 331.30L453.75 330.48L453.90 331.20L454.05 328.63L454.20 328.26L454.35 330.39L454.50 327.89L454.65 331.28L454.80 329.68L454.95 330.42L455.10 331.66L455.25 330.10L455.40 330.34L455.55 328.86L455.70 331.02L455.85 329.22L456.00 329.12L456.15 330.22L456.30 330.19L456.45 328.85L456.60 329.06L456.75 328.17L456.90 329.24L457.05 327.91L457.20 328.75L457.35 330.58L457.50 328.99L457.65 328.79L457.80 330.35L457.95 329.46L458.10 330.02L458.25 329.21L458.40 328.36L458.55 330.28L458.70 329.44L458.85 329.14L459.00 329.55L459.15 330.51L459.30 329.37L459.45 329.76L459.60 327.40L459.75 328.51L459.90 328.64L460.05 328.50L460.20 328.37L460.35 329.00L460.50 329.70L460.65 329.11L460.80 329.11L460.95 329.11L461.10 328.63L461.25 330.05L461.40 328.31L461.55 328.50L461.70 328.01L461.85 328.14L462.00 327.78L462.15 327.26L462.30 328.20L462.45 328.55L462.60 327.88L462.75 329.33L462.90 328.07L463.05 326.59L463.20 327.67L463.35 328.60L463.50 328.22L463.65 327.39L463.80 326.38L463.95 327.49L464.10 327.58L464.25 329.32L464.40 327.87L464.55 327.19L464.70 327.52L464.85 326.91L465.00 327.63L465.15 326.62L465.30 326.72L465.45 325.36L465.60 326.22L465.75 325.17L465.90 325.98L466.05 326.16L466.20 326.89L466.35 325.76L466.50 324.82L466.65 325.70L466.80 324.68L466.95 323.04L467.10 325.13L467.25 324.27L467.40 323.82L467.55 323.78L467.70 324.68L467.85 323.93L468.00 322.85L468.15 324.35L468.30 322.17L468.45 323.83L468.60 322.10L468.75 322.70L468.90 324.28L469.05 322.47L469.20 322.78L469.35 321.99L469.50 322.69L469.65 323.12L469.80 322.75L469.95 323.76L470.10 322.01L470.25 321.25L470.40 322.91L470.55 321.47L470.70 323.20L470.85 322.28L471.00 324.26L471.15 322.68L471.30 321.41L471.45 321.54L471.60 322.08L471.75 322.64L471.90 320.61L472.05 322.80L472.20 322.17L472.35 322.88L472.50 321.87L472.65 322.88L472.80 322.64L472.95 321.58L473.10 321.33L473.25 319.99L473.40 319.39L473.55 321.47L473.70 319.19L473.85 321.21L474.00 321.25L474.15 320.34L474.30 321.04L474.45 322.30L474.60 317.63L474.75 319.45L474.90 320.62L475.05 317.28L475.20 317.49L475.35 318.45L475.50 318.87L475.65 318.98L475.80 318.71L475.95 317.87L476.10 318.28L476.25 317.98L476.40 317.63L476.55 319.71L476.70 318.69L476.85 316.80L477.00 318.79L477.15 317.67L477.30 318.15L477.45 320.36L477.60 319.58L477.75 318.57L477.90 318.33L478.05 320.28L478.20 319.89L478.35 320.75L478.50 318.78L478.65 322.22L478.80 318.24L478.95 320.17L479.10 320.26L479.25 319.46L479.40 320.07L479.55 318.29L479.70 320.24L479.85 319.97L480.00 321.85L480.15 320.04L480.30 321.81L480.45 320.44L480.60 320.17L480.75 321.07L480.90 320.13L481.05 321.11L481.20 319.75L481.35 317.63L481.50 320.30L481.65 317.79L481.80 320.18L481.95 318.84L482.10 317.75L482.25 318.74L482.40 317.08L482.55 317.35L482.70 317.47L482.85 318.52L483.00 318.66L483.15 316.56L483.30 317.31L483.45 317.87L483.60 317.11L483.75 318.09L483.90 316.32L484.05 317.87L484.20 317.52L484.35 317.18L484.50 317.75L484.65 315.08L484.80 316.92L484.95 317.05L485.10 316.60L485.25 318.47L485.40 315.40L485.55 317.31L485.70 317.53L485.85 317.11L486.00 317.55L486.15 318.45L486.30 318.60L486.45 318.29L486.60 319.36L486.75 318.63L486.90 319.77L487.05 318.28L487.20 318.42L487.35 317.96L487.50 316.99L487.65 319.39L487.80 319.25L487.95 319.10L488.10 318.80L488.25 318.81L488.40 320.41L488.55 321.32L488.70 320.61L488.85 321.64L489.00 321.89L489.15 321.75L489.30 321.64L489.45 320.78L489.60 321.09L489.75 322.17L489.90 322.22L490.05 321.23L490.20 322.16L490.35 322.53L490.50 322.55L490.65 322.51L490.80 322.01L490.95 322.67L491.10 322.36L491.25 323.67L491.40 321.69L491.55 324.05L491.70 322.89L491.85 324.68L492.00 323.73L492.15 322.84L492.30 322.93L492.45 324.58L492.60 324.82L492.75 324.52L492.90 324.28L493.05 325.31L493.20 326.35L493.35 325.78L493.50 326.25L493.65 325.87L493.80 326.30L493.95 326.79L494.10 324.52L494.25 326.23L494.40 325.47L494.55 327.67L494.70 326.20L494.85 326.69L495.00 326.93L495.15 326.71L495.30 327.76L495.45 326.01L495.60 325.42L495.75 327.00L495.90 327.09L496.05 327.99L496.20 327.57L496.35 328.11L496.50 327.86L496.65 329.78L496.80 327.98L496.95 329.52L497.10 328.43L497.25 328.10L497.40 327.92L497.55 328.83L497.70 327.73L497.85 327.36L498.00 329.56L498.15 329.90L498.30 328.99L498.45 329.21L498.60 332.47L498.75 329.04L498.90 330.37L499.05 328.92L499.20 329.51L499.35 329.08L499.50 330.09L499.65 328.36L499.80 330.62L499.95 330.27L500.10 327.96L500.25 330.88L500.40 329.95L500.55 330.57L500.70 328.93L500.85 329.65L501.00 329.69L501.15 331.60L501.30 329.99L501.45 331.04L501.60 330.50L501.75 330.40L501.90 331.16L502.05 330.61L502.20 329.82L502.35 330.53L502.50 331.72L502.65 330.17L502.80 331.10L502.95 329.73L503.10 331.16L503.25 331.80L503.40 331.26L503.55 329.83L503.70 331.04L503.85 330.00L504.00 330.48L504.15 329.45L504.30 332.25L504.45 331.57L504.60 330.36L504.75 329.96L504.90 330.82L505.05 331.44L505.20 332.38L505.35 330.53L505.50 331.71L505.65 332.80L505.80 332.14L505.95 333.47L506.10 330.92L506.25 330.46L506.40 331.57L506.55 331.72L506.70 332.28L506.85 332.58L507.00 331.04L507.15 331.13L507.30 331.34L507.45 333.02L507.60 332.15L507.75 330.92L507.90 331.71L508.05 331.61L508.20 330.54L508.35 334.15L508.50 333.00L508.65 333.43L508.80 332.86L508.95 331.70L509.10 334.14L509.25 333.76L509.40 332.11L509.55 331.62L509.70 332.51L509.85 333.95L510.00 333.26L510.15 332.87L510.30 333.31L510.45 332.99L510.60 334.05L510.75 333.81L510.90 333.89L511.05 332.54L511.20 334.57L511.35 334.11L511.50 333.00L511.65 334.06L511.80 332.32L511.95 334.34L512.10 334.27L512.25 334.32L512.40 333.64" fill="none" stroke="#7e22f0" stroke-width="0.7" stroke-linejoin="round" opacity="1"/><path d="M195.00 351.00L195.15 350.40L195.30 353.99L195.45 351.13L195.60 350.86L195.75 351.15L195.90 350.25L196.05 350.09L196.20 351.38L196.35 350.45L196.50 351.74L196.65 350.77L196.80 349.25L196.95 349.75L197.10 350.24L197.25 349.14L197.40 351.07L197.55 350.88L197.70 352.12L197.85 350.34L198.00 350.97L198.15 351.77L198.30 351.93L198.45 350.16L198.60 352.67L198.75 350.51L198.90 352.29L199.05 350.77L199.20 350.62L199.35 349.76L199.50 350.83L199.65 353.29L199.80 350.23L199.95 352.35L200.10 352.08L200.25 350.28L200.40 351.65L200.55 351.76L200.70 349.89L200.85 349.45L201.00 350.86L201.15 349.85L201.30 351.35L201.45 349.39L201.60 347.53L201.75 348.35L201.90 346.94L202.05 348.59L202.20 348.28L202.35 346.91L202.50 346.19L202.65 347.74L202.80 346.27L202.95 347.70L203.10 345.35L203.25 345.94L203.40 345.60L203.55 345.07L203.70 348.83L203.85 347.88L204.00 345.74L204.15 347.37L204.30 345.04L204.45 348.39L204.60 348.56L204.75 347.49L204.90 347.85L205.05 348.83L205.20 349.41L205.35 348.96L205.50 348.81L205.65 349.71L205.80 349.82L205.95 351.26L206.10 350.74L206.25 351.00L206.40 349.15L206.55 350.39L206.70 350.28L206.85 349.99L207.00 350.18L207.15 349.74L207.30 348.23L207.45 350.37L207.60 350.00L207.75 348.22L207.90 348.99L208.05 347.08L208.20 346.40L208.35 347.12L208.50 348.57L208.65 346.58L208.80 344.77L208.95 346.12L209.10 344.88L209.25 344.33L209.40 345.02L209.55 342.02L209.70 341.15L209.85 340.78L209.90 342.00L210.00 343.53L210.15 343.25L210.30 343.33L210.40 343.81L210.45 345.24L210.60 346.14L210.75 344.52L210.90 345.90L211.05 348.42L211.20 347.10L211.35 346.61L211.50 347.72L211.65 347.92L211.80 348.91L211.95 349.15L212.10 348.92L212.25 349.96L212.40 351.11L212.55 350.66L212.70 351.95L212.85 351.38L213.00 353.79L213.15 354.26L213.30 351.99L213.45 353.85L213.60 353.30L213.75 353.34L213.90 353.10L214.05 353.72L214.20 354.54L214.35 352.39L214.50 354.68L214.65 353.45L214.80 352.65L214.95 353.70L215.10 354.39L215.25 353.66L215.40 354.05L215.55 353.42L215.70 353.22L215.85 354.75L216.00 352.82L216.15 354.75L216.30 354.09L216.45 353.48L216.60 353.53L216.75 353.47L216.90 353.72L217.05 353.71L217.20 353.61L217.35 351.83L217.50 351.66L217.65 354.09L217.80 353.13L217.95 353.19L218.10 353.59L218.25 352.66L218.40 355.29L218.55 353.75L218.70 353.58L218.85 352.71L219.00 354.63L219.15 354.47L219.30 355.23L219.45 354.64L219.60 352.95L219.75 352.51L219.90 355.11L220.05 353.09L220.20 353.65L220.35 353.60L220.50 354.25L220.65 354.29L220.80 352.73L220.95 353.11L221.10 352.03L221.25 354.28L221.40 353.57L221.55 352.06L221.70 354.74L221.85 353.72L222.00 352.70L222.15 353.28L222.30 353.10L222.45 353.77L222.60 353.86L222.75 353.08L222.90 354.06L223.05 351.08L223.20 353.28L223.35 354.24L223.50 354.53L223.65 354.37L223.80 352.54L223.95 351.90L224.10 353.21L224.25 355.76L224.40 353.77L224.55 352.77L224.70 351.84L224.85 353.61L225.00 353.01L225.15 353.93L225.30 353.61L225.45 351.10L225.60 353.25L225.75 354.12L225.90 352.74L226.05 352.12L226.20 352.12L226.35 351.93L226.50 355.33L226.65 354.54L226.80 352.52L226.95 354.42L227.10 352.00L227.25 352.47L227.40 352.23L227.55 352.74L227.70 353.52L227.85 354.82L228.00 353.52L228.15 352.65L228.30 352.87L228.45 352.46L228.60 353.00L228.75 351.76L228.90 352.81L229.05 352.98L229.20 353.42L229.35 351.66L229.50 352.84L229.65 352.68L229.80 351.58L229.95 350.42L230.10 351.79L230.25 353.15L230.40 352.01L230.55 354.48L230.70 352.80L230.85 351.53L231.00 352.12L231.15 352.66L231.30 352.67L231.45 351.96L231.60 352.62L231.75 355.05L231.90 353.05L232.05 352.31L232.20 351.68L232.35 350.40L232.50 352.29L232.65 351.71L232.80 352.05L232.95 351.55L233.10 352.82L233.25 353.10L233.40 351.36L233.55 350.69L233.70 352.31L233.85 353.32L234.00 352.35L234.15 352.40L234.30 350.54L234.45 351.34L234.60 352.40L234.75 352.16L234.90 351.75L235.05 352.26L235.20 352.22L235.35 350.93L235.50 349.44L235.65 347.97L235.80 348.75L235.95 347.69L236.10 347.15L236.25 348.13L236.40 346.42L236.55 346.88L236.70 347.92L236.85 346.63L237.00 345.64L237.15 347.44L237.30 349.01L237.45 347.89L237.60 348.45L237.75 347.07L237.90 350.14L238.05 347.36L238.20 348.44L238.35 348.94L238.50 351.02L238.65 349.28L238.80 348.50L238.95 347.77L239.10 348.93L239.25 348.06L239.40 348.67L239.55 349.33L239.70 350.47L239.85 348.25L240.00 350.65L240.15 347.47L240.30 351.23L240.45 348.76L240.60 349.04L240.75 348.96L240.90 349.66L241.05 349.40L241.20 349.15L241.35 348.82L241.50 348.98L241.65 349.58L241.80 349.03L241.95 348.90L242.10 348.19L242.25 349.62L242.40 350.09L242.55 348.65L242.70 350.61L242.85 349.63L243.00 349.78L243.15 348.06L243.30 350.31L243.45 350.94L243.60 351.61L243.75 349.18L243.90 349.73L244.05 350.51L244.20 350.32L244.35 349.22L244.50 349.90L244.65 350.80L244.80 350.41L244.95 349.83L245.10 350.90L245.25 348.48L245.40 350.34L245.55 349.30L245.70 349.59L245.85 350.73L246.00 351.63L246.15 350.41L246.30 350.10L246.45 351.57L246.60 350.72L246.75 347.89L246.90 349.43L247.05 349.38L247.20 349.38L247.35 348.59L247.50 350.65L247.65 350.20L247.80 351.70L247.95 349.77L248.10 350.15L248.25 349.30L248.40 350.95L248.55 351.12L248.70 351.44L248.85 350.73L249.00 349.09L249.15 350.68L249.30 348.53L249.45 348.66L249.60 348.91L249.75 350.91L249.90 348.06L250.05 347.60L250.20 348.57L250.35 349.26L250.50 348.45L250.65 348.21L250.80 346.66L250.95 346.85L251.10 348.19L251.25 346.83L251.40 345.86L251.55 345.89L251.70 347.25L251.85 347.35L252.00 345.85L252.15 344.39L252.30 346.41L252.45 343.83L252.60 344.10L252.75 343.93L252.90 343.03L253.05 342.36L253.20 343.53L253.35 341.77L253.50 339.59L253.65 339.87L253.80 341.18L253.95 339.29L254.10 338.05L254.25 339.49L254.40 338.73L254.55 338.01L254.70 338.21L254.85 337.01L255.00 337.25L255.10 337.46L255.15 336.12L255.30 337.09L255.45 334.27L255.50 335.00L255.60 337.45L255.75 336.33L255.90 337.52L256.05 336.45L256.20 338.84L256.35 337.81L256.50 339.53L256.65 339.58L256.80 339.37L256.95 342.44L257.10 341.59L257.25 341.62L257.40 342.42L257.55 343.67L257.70 343.95L257.85 345.15L258.00 344.13L258.15 345.13L258.30 344.71L258.45 344.75L258.60 346.41L258.75 345.11L258.90 344.56L259.05 346.93L259.20 346.03L259.35 347.24L259.50 347.40L259.65 347.56L259.80 347.33L259.95 348.89L260.10 346.59L260.25 348.82L260.40 347.72L260.55 348.26L260.70 347.70L260.85 349.01L261.00 348.74L261.15 347.95L261.30 348.49L261.45 348.95L261.60 348.40L261.75 350.89L261.90 349.12L262.05 348.21L262.20 349.49L262.35 348.67L262.50 347.77L262.65 347.73L262.80 346.30L262.95 348.22L263.10 348.61L263.25 346.76L263.40 345.72L263.55 344.46L263.70 344.54L263.85 345.27L264.00 344.27L264.15 344.31L264.30 343.28L264.45 343.53L264.60 343.11L264.75 343.15L264.90 342.75L265.05 342.57L265.20 341.39L265.35 341.69L265.50 340.67L265.65 341.25L265.80 341.65L265.95 342.15L266.10 340.66L266.25 341.29L266.40 342.03L266.55 341.79L266.70 343.09L266.85 343.64L267.00 343.62L267.15 346.27L267.30 344.78L267.45 345.79L267.60 344.22L267.75 346.89L267.90 346.55L268.05 346.47L268.20 344.27L268.35 346.22L268.50 345.64L268.65 346.64L268.80 346.23L268.95 345.75L269.10 345.80L269.25 347.39L269.40 347.25L269.55 344.60L269.70 345.78L269.85 346.77L270.00 345.78L270.15 346.44L270.30 345.83L270.45 347.65L270.60 346.78L270.75 345.91L270.90 347.39L271.05 346.66L271.20 347.60L271.35 345.57L271.50 344.57L271.65 346.71L271.80 345.97L271.95 344.28L272.10 342.31L272.25 345.96L272.40 345.91L272.55 345.07L272.70 345.36L272.85 345.88L273.00 344.45L273.15 346.91L273.30 344.49L273.45 345.72L273.60 345.67L273.75 345.18L273.90 344.89L274.05 346.40L274.20 344.07L274.35 345.54L274.50 347.04L274.65 344.79L274.80 344.04L274.95 345.00L275.10 342.69L275.25 344.70L275.40 344.30L275.55 344.60L275.70 344.53L275.85 345.90L276.00 345.36L276.15 344.34L276.30 346.50L276.45 344.35L276.60 346.63L276.75 344.77L276.90 344.34L277.05 344.75L277.20 346.51L277.35 345.26L277.50 345.10L277.65 343.54L277.80 345.06L277.95 344.76L278.10 344.69L278.25 344.27L278.40 343.49L278.55 346.17L278.70 344.03L278.85 345.49L279.00 345.44L279.15 345.03L279.30 344.98L279.45 345.43L279.60 344.48L279.75 344.70L279.90 345.06L280.05 344.91L280.20 344.40L280.35 342.13L280.50 344.61L280.65 343.44L280.80 345.69L280.95 345.74L281.10 344.75L281.25 344.74L281.40 342.54L281.55 344.26L281.70 343.66L281.85 346.09L282.00 343.08L282.15 346.42L282.30 344.10L282.45 342.31L282.60 345.91L282.75 343.96L282.90 344.48L283.05 345.14L283.20 342.56L283.35 343.57L283.50 344.11L283.65 345.15L283.80 343.75L283.95 344.43L284.10 342.17L284.25 344.29L284.40 342.88L284.55 343.39L284.70 343.78L284.85 344.49L285.00 342.95L285.15 343.97L285.30 343.22L285.45 344.07L285.60 343.00L285.75 344.72L285.90 342.36L286.05 342.32L286.20 344.47L286.35 342.53L286.50 343.79L286.65 343.79L286.80 341.48L286.95 342.76L287.10 342.54L287.25 342.82L287.40 341.49L287.55 343.02L287.70 342.99L287.85 341.71L288.00 342.72L288.15 342.86L288.30 340.99L288.45 342.49L288.60 343.36L288.75 343.16L288.90 341.37L289.05 341.63L289.20 342.32L289.35 342.64L289.50 342.97L289.65 342.23L289.80 342.86L289.95 341.42L290.10 343.73L290.25 341.77L290.40 340.98L290.55 341.29L290.70 340.07L290.85 341.00L291.00 341.36L291.15 342.06L291.30 342.60L291.45 340.67L291.60 340.72L291.75 342.02L291.90 342.28L292.05 341.96L292.20 341.42L292.35 340.02L292.50 340.54L292.65 339.51L292.80 340.26L292.95 342.04L293.10 342.27L293.25 340.46L293.40 341.23L293.55 341.87L293.70 339.51L293.85 339.16L294.00 339.76L294.15 338.31L294.30 340.89L294.45 340.08L294.60 339.82L294.75 340.07L294.90 340.41L295.05 339.85L295.20 338.64L295.35 340.33L295.50 339.14L295.65 339.84L295.80 338.84L295.95 339.43L296.10 337.86L296.25 339.38L296.40 338.90L296.55 340.12L296.70 338.26L296.85 338.11L297.00 339.52L297.15 336.92L297.30 339.29L297.45 338.54L297.60 338.10L297.75 338.54L297.90 338.10L298.05 337.42L298.20 338.88L298.35 337.27L298.50 338.14L298.65 337.76L298.80 337.16L298.95 337.18L299.10 337.95L299.25 337.26L299.40 338.78L299.55 338.23L299.70 336.91L299.85 338.19L300.00 334.92L300.15 338.68L300.30 335.74L300.45 335.68L300.60 337.85L300.75 335.18L300.90 335.94L301.05 336.85L301.20 334.51L301.35 336.24L301.50 337.15L301.65 335.53L301.80 337.51L301.95 335.18L302.10 337.29L302.25 336.23L302.40 335.87L302.55 335.42L302.70 334.61L302.85 336.44L303.00 334.21L303.15 335.22L303.30 335.78L303.45 335.43L303.60 335.51L303.75 334.14L303.90 333.39L304.05 334.68L304.20 334.17L304.35 335.18L304.50 332.15L304.65 333.83L304.80 334.06L304.95 333.06L305.10 331.79L305.25 333.12L305.40 333.82L305.55 331.90L305.70 331.37L305.85 330.95L306.00 330.61L306.15 329.49L306.30 333.77L306.45 330.19L306.60 331.13L306.75 330.73L306.90 328.68L307.05 329.36L307.20 330.10L307.35 329.12L307.50 328.24L307.65 326.00L307.80 325.45L307.95 325.46L308.10 326.25L308.25 323.47L308.40 324.19L308.55 324.08L308.70 323.22L308.85 321.99L309.00 320.99L309.15 321.96L309.30 320.78L309.45 321.35L309.60 320.51L309.75 320.49L309.90 320.55L310.05 317.63L310.20 317.07L310.30 314.60L310.35 314.09L310.50 318.15L310.65 319.77L310.70 321.45L310.80 319.42L310.95 320.99L311.10 321.10L311.25 322.67L311.40 322.79L311.55 322.84L311.70 323.20L311.85 324.20L312.00 326.05L312.15 327.28L312.30 327.55L312.45 329.00L312.60 327.22L312.75 330.20L312.90 331.67L313.05 330.20L313.20 329.76L313.35 331.81L313.50 328.90L313.65 331.93L313.80 329.82L313.95 331.51L314.10 330.07L314.25 332.68L314.40 331.45L314.55 330.96L314.70 331.64L314.85 333.13L315.00 333.47L315.15 332.49L315.30 332.34L315.45 334.30L315.60 333.37L315.75 333.10L315.90 335.86L316.05 332.99L316.20 335.25L316.35 336.93L316.50 336.30L316.65 336.59L316.80 337.68L316.95 336.32L317.10 337.65L317.25 338.01L317.40 339.35L317.55 339.16L317.70 339.09L317.85 340.41L318.00 340.66L318.15 338.40L318.30 342.10L318.45 340.17L318.60 339.50L318.75 341.69L318.90 337.88L319.05 339.18L319.20 340.70L319.35 339.93L319.50 339.56L319.65 340.52L319.80 342.28L319.95 341.01L320.10 341.84L320.25 341.84L320.40 341.20L320.55 341.33L320.70 340.73L320.85 341.63L321.00 342.22L321.15 341.34L321.30 341.52L321.45 342.05L321.60 341.68L321.75 341.93L321.90 339.91L322.05 342.00L322.20 340.04L322.35 342.00L322.50 341.05L322.65 340.54L322.80 339.55L322.95 341.28L323.10 339.79L323.25 339.56L323.40 338.06L323.55 341.18L323.70 339.26L323.85 339.09L324.00 341.15L324.15 340.85L324.30 338.37L324.45 340.93L324.60 342.85L324.75 341.65L324.90 341.64L325.05 343.53L325.20 343.90L325.35 342.79L325.50 343.37L325.65 343.79L325.80 344.09L325.95 343.60L326.10 344.27L326.25 345.65L326.40 343.71L326.55 346.22L326.70 345.85L326.85 346.19L327.00 346.32L327.15 344.95L327.30 344.37L327.45 346.97L327.60 345.96L327.75 346.50L327.90 347.08L328.05 345.05L328.15 346.25L328.20 344.03L328.35 336.44L328.50 330.50L328.65 336.65L328.80 344.32L328.85 346.93L328.95 347.80L329.10 347.50L329.25 348.04L329.40 346.32L329.55 347.00L329.70 346.73L329.85 346.51L330.00 346.31L330.15 348.01L330.30 348.07L330.45 346.63L330.60 343.93L330.75 345.16L330.90 345.24L331.05 347.34L331.20 346.53L331.35 345.01L331.50 345.62L331.65 344.95L331.80 344.26L331.95 343.93L332.10 342.88L332.25 342.51L332.40 343.04L332.55 341.94L332.70 343.06L332.85 342.24L333.00 341.56L333.15 342.54L333.30 341.42L333.45 341.76L333.60 341.22L333.75 342.75L333.90 342.38L334.05 342.22L334.20 342.39L334.35 343.25L334.50 342.62L334.65 341.66L334.80 345.20L334.95 344.04L335.10 344.98L335.25 343.82L335.40 343.50L335.55 344.29L335.70 346.20L335.85 345.64L336.00 346.17L336.15 346.23L336.30 345.53L336.45 348.76L336.60 346.64L336.75 346.84L336.90 346.90L337.05 348.40L337.20 349.40L337.35 348.60L337.50 348.96L337.65 348.49L337.80 350.11L337.95 349.24L338.10 349.53L338.25 348.31L338.40 350.53L338.55 350.16L338.70 349.20L338.85 349.12L339.00 350.26L339.15 348.80L339.30 350.15L339.45 349.39L339.60 349.24L339.75 351.28L339.90 349.36L340.05 348.71L340.20 351.78L340.35 349.87L340.50 351.50L340.65 350.54L340.80 349.68L340.95 349.11L341.10 350.44L341.25 350.91L341.40 350.08L341.55 350.35L341.70 349.99L341.85 350.63L342.00 350.89L342.15 350.58L342.30 348.94L342.45 350.09L342.60 350.47L342.75 350.41L342.90 349.15L343.05 350.34L343.20 349.48L343.35 349.39L343.50 351.30L343.65 350.09L343.80 352.01L343.95 352.01L344.10 349.28L344.25 351.26L344.40 349.65L344.55 351.62L344.70 352.12L344.85 352.42L345.00 352.35L345.15 349.94L345.30 351.50L345.45 349.92L345.60 351.77L345.75 352.15L345.90 351.30L346.05 352.28L346.20 350.77L346.35 351.15L346.50 350.57L346.65 350.03L346.80 351.85L346.95 351.82L347.10 350.91L347.25 351.14L347.40 350.58L347.55 352.69L347.70 352.63L347.85 351.68L348.00 351.86L348.15 351.87L348.30 351.52L348.45 352.74L348.60 353.36L348.75 350.64L348.90 353.38L349.05 351.81L349.20 352.36L349.35 351.43L349.50 352.32L349.65 352.74L349.80 352.64L349.95 355.34L350.10 352.65L350.25 352.82L350.40 352.82L350.55 353.59L350.70 353.89L350.85 353.95L351.00 353.29L351.15 353.56L351.30 351.25L351.45 353.54L351.60 352.59L351.75 353.80L351.90 353.07L352.05 354.18L352.20 353.43L352.35 354.32L352.50 351.91L352.65 354.77L352.80 352.61L352.95 355.42L353.10 352.66L353.25 354.07L353.40 353.17L353.55 354.27L353.70 355.17L353.85 353.43L354.00 354.62L354.15 355.13L354.30 353.47L354.45 355.25L354.60 354.01L354.75 355.12L354.90 353.66L355.05 357.56L355.20 354.66L355.35 352.96L355.50 355.34L355.65 354.68L355.80 353.59L355.95 354.82L356.10 354.08L356.25 355.42L356.40 354.51L356.55 354.51L356.70 355.74L356.85 355.97L357.00 355.74L357.15 356.12L357.30 355.86L357.45 356.30L357.60 357.24L357.75 357.08L357.90 356.82L358.05 357.81L358.20 354.90L358.35 357.44L358.50 354.84L358.65 356.03L358.80 355.91L358.95 357.30L359.10 358.22L359.25 356.35L359.40 355.30L359.55 357.92L359.70 356.95L359.85 355.81L360.00 359.16L360.15 357.57L360.30 357.40L360.45 357.40L360.60 356.99L360.75 357.88L360.90 357.44L361.05 358.50L361.20 355.99L361.35 357.42L361.50 358.45L361.65 356.40L361.80 358.19L361.95 356.78L362.10 358.45L362.25 358.76L362.40 358.16L362.55 357.57L362.70 356.88L362.85 356.98L363.00 357.84L363.15 357.57L363.30 356.69L363.45 357.67L363.60 356.44L363.75 358.60L363.90 358.16L364.05 357.33L364.20 358.29L364.35 356.96L364.50 358.41L364.65 357.13L364.80 355.72L364.95 355.01L365.10 358.47L365.25 355.12L365.40 356.48L365.55 357.30L365.70 356.07L365.85 355.40L366.00 355.89L366.15 356.11L366.30 355.91L366.45 356.06L366.60 354.37L366.75 356.28L366.90 355.31L367.05 355.61L367.20 355.57L367.35 355.08L367.50 353.39L367.65 353.72L367.80 353.62L367.95 353.36L368.10 353.75L368.25 352.82L368.40 354.64L368.55 354.84L368.70 356.16L368.85 355.04L369.00 357.46L369.15 356.12L369.30 356.25L369.45 356.89L369.60 358.43L369.75 358.21L369.90 357.68L370.05 357.41L370.20 356.99L370.35 356.16L370.50 357.23L370.65 357.06L370.80 358.90L370.95 356.95L371.10 358.58L371.25 357.43L371.40 357.00L371.55 357.92L371.70 355.25L371.85 355.50L372.00 358.94L372.15 357.58L372.30 357.59L372.45 357.04L372.60 357.32L372.75 357.07L372.90 357.06L373.05 357.32L373.20 357.37L373.35 357.63L373.50 356.15L373.65 356.69L373.80 358.62L373.95 356.72L374.10 357.36L374.25 357.19L374.40 356.70L374.55 358.73L374.70 357.58L374.85 355.28L375.00 358.03L375.15 355.86L375.30 355.32L375.45 356.38L375.60 357.85L375.75 355.55L375.90 358.01L376.05 356.41L376.20 358.42L376.35 358.03L376.50 356.71L376.65 355.29L376.80 357.53L376.95 355.64L377.10 358.46L377.25 357.39L377.40 359.02L377.55 357.46L377.70 357.16L377.85 358.62L378.00 357.31L378.15 358.40L378.30 358.34L378.45 357.84L378.60 357.38L378.75 359.26L378.90 360.31L379.05 358.59L379.20 358.08L379.35 358.69L379.50 357.91L379.65 357.29L379.80 360.09L379.95 359.29L380.10 358.87L380.25 360.85L380.40 359.24L380.55 359.24L380.70 360.11L380.85 358.77L381.00 359.66L381.15 359.74L381.30 360.08L381.45 359.77L381.60 360.78L381.75 360.24L381.90 360.19L382.05 360.32L382.20 359.01L382.35 358.74L382.50 359.35L382.65 360.65L382.80 358.45L382.95 359.98L383.10 358.99L383.25 359.26L383.40 358.94L383.55 358.04L383.70 361.04L383.85 359.48L384.00 359.76L384.15 359.81L384.30 357.18L384.45 361.02L384.60 361.28L384.75 359.70L384.90 360.02L385.05 360.40L385.20 360.35L385.35 360.58L385.50 360.31L385.65 359.43L385.80 360.02L385.95 358.35L386.10 359.23L386.25 360.27L386.40 360.40L386.55 359.46L386.70 359.59L386.85 358.32L387.00 359.46L387.15 358.44L387.30 357.62L387.45 359.60L387.60 358.43L387.75 358.58L387.90 357.20L388.05 358.30L388.20 358.62L388.35 358.84L388.50 358.85L388.65 358.83L388.80 359.30L388.95 359.68L389.10 359.64L389.25 357.92L389.40 358.99L389.55 360.12L389.70 359.89L389.85 358.89L390.00 359.24L390.15 359.26L390.30 359.66L390.45 357.71L390.60 357.74L390.75 359.25L390.90 358.53L391.05 359.05L391.20 359.15L391.35 360.22L391.50 360.07L391.65 361.50L391.80 360.38L391.95 360.14L392.10 360.30L392.25 360.23L392.40 359.54L392.55 359.32L392.70 361.72L392.85 359.86L393.00 359.73L393.15 359.42L393.30 359.93L393.45 359.33L393.60 359.87L393.75 358.99L393.90 359.22L394.05 362.53L394.20 360.81L394.35 360.99L394.50 361.87L394.65 361.13L394.80 361.07L394.95 360.40L395.10 361.63L395.25 360.07L395.40 360.53L395.50 360.34L395.55 361.02L395.70 357.32L395.85 354.85L395.90 353.90L396.00 356.98L396.15 359.60L396.30 361.30L396.45 361.19L396.60 360.53L396.75 360.95L396.90 361.75L397.05 361.45L397.20 362.28L397.35 361.47L397.50 360.12L397.65 360.42L397.80 359.20L397.95 361.57L398.10 360.37L398.25 361.73L398.40 360.91L398.55 361.49L398.70 360.99L398.85 361.19L399.00 361.80L399.15 361.00L399.30 361.27L399.45 361.02L399.60 361.12L399.75 360.97L399.90 360.52L400.05 361.30L400.20 361.98L400.35 361.52L400.50 360.87L400.65 360.44L400.80 363.33L400.95 362.58L401.10 360.42L401.25 360.26L401.40 360.05L401.55 362.35L401.70 359.87L401.85 361.41L402.00 360.39L402.15 361.41L402.30 360.39L402.45 361.12L402.60 361.22L402.75 362.07L402.90 362.44L403.05 361.60L403.20 361.43L403.35 362.61L403.50 359.72L403.65 362.78L403.80 360.82L403.95 360.67L404.10 362.27L404.25 360.62L404.40 360.94L404.55 361.66L404.70 362.02L404.85 359.78L405.00 361.42L405.15 361.14L405.30 360.61L405.45 362.18L405.60 362.91L405.75 361.36L405.90 361.25L406.05 359.90L406.20 360.32L406.35 360.11L406.50 360.88L406.65 360.71L406.80 359.79L406.95 360.20L407.10 359.31L407.25 359.93L407.40 360.26L407.55 360.36L407.70 360.09L407.85 360.28L408.00 359.99L408.15 359.33L408.30 360.75L408.45 359.44L408.60 359.50L408.75 360.81L408.90 359.89L409.05 360.16L409.20 361.35L409.35 359.09L409.50 358.67L409.65 361.61L409.80 359.13L409.95 358.97L410.10 361.53L410.25 359.84L410.40 359.36L410.55 357.62L410.70 359.35L410.85 358.77L411.00 359.93L411.15 357.58L411.30 359.54L411.45 360.74L411.60 359.43L411.75 358.68L411.90 356.98L412.05 358.80L412.20 358.63L412.35 358.30L412.50 357.94L412.65 360.31L412.80 360.35L412.95 358.10L413.10 358.36L413.25 358.31L413.40 358.02L413.55 359.38L413.70 359.49L413.85 359.87L414.00 359.05L414.15 359.28L414.30 360.27L414.45 359.42L414.60 359.29L414.75 357.34L414.90 358.81L415.05 358.68L415.20 359.03L415.35 360.10L415.50 358.48L415.65 360.38L415.80 358.21L415.95 360.49L416.10 358.05L416.25 359.03L416.40 357.16L416.55 357.90L416.70 356.83L416.85 359.61L417.00 358.85L417.15 356.88L417.30 359.47L417.45 358.61L417.60 358.03L417.75 358.89L417.90 359.46L418.05 359.18L418.20 359.36L418.35 359.87L418.50 360.27L418.65 358.13L418.80 359.88L418.95 358.09L419.10 358.60L419.25 357.97L419.40 358.83L419.55 360.60L419.70 359.84L419.85 361.09L420.00 359.08L420.15 360.93L420.30 357.53L420.45 360.34L420.60 360.71L420.75 360.44L420.90 359.29L421.05 359.27L421.20 359.84L421.35 361.80L421.50 360.88L421.65 359.86L421.80 358.38L421.95 361.01L422.10 359.34L422.25 361.01L422.40 358.76L422.55 359.14L422.70 360.48L422.85 360.51L423.00 361.23L423.15 360.41L423.30 360.09L423.45 360.93L423.60 360.13L423.75 359.57L423.90 360.36L424.05 361.69L424.20 360.71L424.35 360.85L424.50 361.33L424.65 360.99L424.80 359.58L424.95 360.21L425.10 360.93L425.25 362.24L425.40 360.72L425.55 359.74L425.70 360.63L425.85 360.62L426.00 359.41L426.15 360.91L426.30 363.00L426.45 359.89L426.60 361.08L426.75 361.61L426.90 360.52L427.05 358.89L427.20 361.03L427.35 360.24L427.50 360.11L427.65 361.02L427.80 360.81L427.95 361.67L428.10 361.96L428.25 359.91L428.40 361.57L428.55 360.69L428.70 361.03L428.85 362.17L429.00 360.66L429.15 360.29L429.30 359.56L429.45 362.49L429.60 361.36L429.75 361.30L429.90 360.34L430.05 362.39L430.20 358.95L430.35 361.85L430.50 362.72L430.65 362.40L430.80 361.32L430.95 361.41L431.10 360.82L431.25 360.73L431.40 360.98L431.55 360.61L431.70 360.86L431.85 360.32L432.00 360.97L432.15 361.46L432.30 362.26L432.45 361.00L432.60 361.51L432.75 360.75L432.90 361.87L433.05 360.40L433.20 359.86L433.35 359.70L433.50 360.28L433.65 360.80L433.80 362.41L433.95 361.38L434.10 361.16L434.25 359.74L434.40 360.44L434.55 360.54L434.70 363.68L434.85 362.31L435.00 362.14L435.15 359.77L435.30 360.65L435.45 360.70L435.60 361.15L435.75 359.67L435.90 361.53L436.05 360.92L436.20 359.25L436.35 360.64L436.50 362.08L436.65 361.74L436.80 361.69L436.95 359.52L437.10 361.81L437.25 361.25L437.40 361.17L437.55 359.80L437.70 359.82L437.85 362.30L438.00 361.64L438.15 362.09L438.30 362.51L438.45 360.58L438.60 360.51L438.75 359.70L438.90 362.26L439.05 361.24L439.20 360.92L439.35 360.57L439.50 361.20L439.65 363.26L439.80 360.48L439.95 359.38L440.10 361.89L440.25 360.97L440.40 362.82L440.55 361.32L440.70 361.72L440.85 359.42L441.00 360.67L441.15 360.49L441.30 361.00L441.45 361.45L441.60 361.00L441.75 360.58L441.90 362.19L442.05 361.61L442.20 362.72L442.35 360.28L442.50 360.08L442.65 359.06L442.80 359.86L442.95 360.58L443.10 362.02L443.25 359.45L443.40 359.17L443.55 360.33L443.70 360.19L443.85 360.87L444.00 359.91L444.15 360.00L444.30 360.02L444.45 360.71L444.60 358.53L444.75 360.72L444.90 358.79L445.05 361.14L445.20 359.49L445.35 360.53L445.50 359.41L445.65 360.44L445.80 360.47L445.95 358.57L446.10 360.84L446.25 359.95L446.40 359.00L446.55 360.05L446.70 357.73L446.85 358.56L447.00 360.57L447.15 359.38L447.30 360.52L447.45 359.80L447.60 360.35L447.75 360.35L447.90 359.95L448.05 359.64L448.20 358.86L448.35 359.89L448.50 361.41L448.65 358.97L448.80 359.95L448.95 359.48L449.10 359.56L449.25 360.42L449.40 358.25L449.55 361.23L449.70 358.87L449.85 357.67L450.00 357.68L450.15 359.29L450.30 360.83L450.45 359.51L450.60 358.79L450.75 361.56L450.90 358.09L451.05 359.42L451.20 359.86L451.35 359.78L451.50 359.68L451.65 358.37L451.80 360.73L451.95 359.42L452.10 359.97L452.25 358.57L452.40 357.74L452.55 360.98L452.70 359.34L452.85 358.94L453.00 358.56L453.15 358.98L453.30 359.36L453.45 350.09L453.60 341.00L453.75 350.18L453.90 359.29L454.05 358.15L454.20 359.60L454.35 359.88L454.50 358.62L454.65 358.90L454.80 359.39L454.95 358.04L455.10 359.36L455.25 358.83L455.40 359.94L455.55 361.48L455.70 359.12L455.85 358.32L456.00 359.63L456.15 359.30L456.30 358.91L456.45 358.99L456.60 359.07L456.75 359.90L456.90 359.06L457.05 359.50L457.20 359.92L457.35 360.59L457.50 359.84L457.65 360.27L457.80 360.93L457.95 359.03L458.10 360.56L458.25 360.20L458.40 358.27L458.55 358.72L458.70 360.01L458.85 357.02L459.00 358.16L459.15 360.65L459.30 359.65L459.45 360.45L459.60 360.55L459.75 358.20L459.90 358.17L460.05 360.93L460.20 357.56L460.35 358.31L460.50 359.63L460.65 358.31L460.80 358.98L460.95 359.69L461.10 359.65L461.25 358.95L461.40 359.97L461.55 359.65L461.70 359.70L461.85 359.76L462.00 358.95L462.15 358.42L462.30 359.78L462.45 358.45L462.60 360.37L462.75 357.85L462.90 359.05L463.05 360.36L463.20 358.86L463.35 358.58L463.50 360.96L463.65 359.50L463.80 359.66L463.95 359.08L464.10 360.24L464.25 360.32L464.40 358.30L464.55 358.02L464.70 356.48L464.85 358.90L465.00 359.33L465.15 360.58L465.30 358.63L465.45 359.52L465.60 358.41L465.75 357.83L465.90 357.44L466.05 357.99L466.20 359.55L466.35 358.95L466.50 357.15L466.65 359.58L466.80 358.74L466.95 357.51L467.10 357.18L467.25 359.46L467.40 358.40L467.55 358.10L467.70 359.06L467.85 356.56L468.00 357.98L468.15 359.64L468.30 357.49L468.45 358.28L468.60 359.24L468.75 358.58L468.90 357.96L469.05 357.07L469.20 357.62L469.35 357.50L469.50 358.68L469.65 356.53L469.80 357.40L469.95 357.83L470.10 358.74L470.25 357.74L470.40 357.69L470.55 357.91L470.70 356.71L470.85 359.55L471.00 356.06L471.15 357.27L471.30 356.64L471.45 357.65L471.60 357.87L471.75 358.23L471.90 356.69L472.05 355.95L472.20 355.71L472.35 357.15L472.50 357.43L472.65 358.81L472.80 356.96L472.95 356.07L473.10 357.34L473.25 355.14L473.40 357.78L473.55 356.41L473.70 356.26L473.85 355.08L474.00 356.04L474.15 356.59L474.30 355.94L474.45 355.40L474.60 354.85L474.75 354.08L474.90 353.13L475.05 355.88L475.20 354.61L475.35 353.26L475.50 353.83L475.65 353.14L475.80 351.87L475.95 350.86L476.10 352.46L476.25 350.58L476.40 348.77L476.55 348.40L476.70 347.87L476.85 348.45L477.00 347.45L477.15 348.74L477.30 347.42L477.45 346.65L477.60 347.75L477.75 346.97L477.90 347.37L478.05 347.63L478.20 347.07L478.35 348.26L478.50 349.39L478.65 349.69L478.80 350.01L478.95 350.88L479.10 351.27L479.25 351.78L479.40 350.07L479.55 351.59L479.70 351.51L479.85 351.09L480.00 353.07L480.15 350.82L480.30 351.54L480.45 353.16L480.60 351.59L480.75 351.49L480.90 350.65L481.05 352.70L481.20 351.13L481.35 351.89L481.50 351.17L481.65 352.06L481.80 351.04L481.95 350.09L482.10 349.59L482.25 353.27L482.40 350.36L482.55 351.96L482.70 353.14L482.85 349.28L483.00 349.95L483.15 351.16L483.30 349.78L483.45 349.83L483.60 349.38L483.75 350.15L483.90 350.63L484.05 350.91L484.20 349.68L484.35 350.02L484.50 349.97L484.65 350.25L484.80 349.79L484.95 350.55L485.10 348.03L485.25 350.20L485.40 350.35L485.55 350.59L485.70 349.61L485.85 350.68L486.00 350.34L486.15 350.24L486.30 349.24L486.45 348.43L486.60 351.77L486.75 350.33L486.90 350.78L487.05 348.92L487.20 350.53L487.35 350.21L487.50 350.23L487.65 352.66L487.80 349.38L487.95 350.97L488.10 351.24L488.25 353.29L488.40 352.05L488.55 351.39L488.70 351.53L488.85 348.60L489.00 352.86L489.15 352.56L489.30 353.71L489.45 351.81L489.60 352.40L489.75 353.35L489.90 353.26L490.05 352.97L490.20 353.52L490.35 353.37L490.50 352.94L490.65 354.58L490.80 352.23L490.95 352.93L491.10 352.06L491.25 355.23L491.40 353.81L491.55 355.13L491.70 355.29L491.85 354.53L492.00 354.34L492.15 354.83L492.30 355.29L492.45 353.96L492.60 356.09L492.75 354.21L492.90 355.16L493.05 355.69L493.20 355.02L493.35 356.66L493.50 355.13L493.65 356.71L493.80 356.17L493.95 356.91L494.10 357.83L494.25 355.65L494.40 355.36L494.55 357.98L494.70 357.98L494.85 357.56L495.00 356.86L495.15 357.88L495.30 355.97L495.45 357.31L495.60 357.22L495.75 358.22L495.90 356.26L496.05 358.86L496.20 359.59L496.35 357.00L496.50 357.76L496.65 355.71L496.80 360.16L496.95 358.88L497.10 358.31L497.25 358.76L497.40 359.17L497.55 360.60L497.70 358.67L497.85 358.63L498.00 358.19L498.15 361.13L498.30 361.68L498.45 359.27L498.60 361.13L498.75 358.15L498.90 360.38L499.05 358.95L499.20 359.71L499.35 361.02L499.50 361.05L499.65 360.26L499.80 359.90L499.95 360.72L500.10 358.86L500.25 360.80L500.40 359.79L500.55 360.35L500.70 361.02L500.85 360.32L501.00 358.87L501.15 359.64L501.30 360.12L501.45 359.68L501.60 360.97L501.75 360.42L501.90 360.27L502.05 360.69L502.20 360.04L502.35 360.87L502.50 361.44L502.65 360.06L502.80 361.25L502.95 361.59L503.10 361.87L503.25 361.93L503.40 362.54L503.55 359.60L503.70 361.26L503.85 360.90L504.00 360.85L504.15 360.82L504.30 361.72L504.45 361.76L504.60 361.53L504.75 361.16L504.90 362.11L505.05 360.95L505.20 360.18L505.35 363.12L505.50 362.12L505.65 362.62L505.80 362.57L505.95 360.71L506.10 361.85L506.25 362.28L506.40 362.43L506.55 360.71L506.70 362.51L506.85 361.78L507.00 361.70L507.15 363.48L507.30 361.00L507.45 364.51L507.60 361.97L507.75 362.61L507.90 361.79L508.05 362.24L508.20 360.60L508.35 363.77L508.50 361.76L508.65 361.51L508.80 361.47L508.95 360.88L509.10 364.69L509.25 363.30L509.40 363.31L509.55 361.97L509.70 363.00L509.85 364.04L510.00 362.19L510.15 362.52L510.30 361.80L510.45 362.05L510.60 362.59L510.75 362.68L510.90 361.84L511.05 362.58L511.20 363.89L511.35 361.80L511.50 362.72L511.65 361.81L511.80 363.26L511.95 364.87" fill="none" stroke="#141414" stroke-width="0.7" stroke-linejoin="round" opacity="1"/><path d="M195.00 388.26L195.15 385.27L195.30 386.77L195.45 386.36L195.60 385.92L195.75 386.37L195.90 386.58L196.05 387.14L196.20 387.76L196.35 388.51L196.50 387.89L196.65 388.88L196.80 388.38L196.95 388.18L197.10 387.99L197.25 387.38L197.40 386.89L197.55 388.38L197.70 388.35L197.85 388.84L198.00 388.86L198.15 387.34L198.30 387.81L198.45 387.34L198.60 389.22L198.75 388.03L198.90 388.09L199.05 386.95L199.20 386.40L199.35 386.84L199.50 387.06L199.65 387.36L199.80 385.26L199.95 386.76L200.10 385.40L200.25 385.48L200.40 385.43L200.55 385.12L200.70 385.74L200.85 385.94L201.00 385.25L201.15 384.25L201.30 384.96L201.45 384.73L201.60 384.98L201.75 384.22L201.90 382.24L202.05 382.83L202.20 382.95L202.35 383.98L202.50 382.79L202.65 383.57L202.80 382.80L202.95 381.23L203.10 382.23L203.25 382.55L203.40 382.28L203.55 380.39L203.70 382.08L203.85 381.06L204.00 379.58L204.15 381.00L204.30 379.71L204.45 380.46L204.60 383.18L204.75 384.38L204.90 383.37L205.05 383.13L205.20 384.89L205.35 383.84L205.50 383.03L205.65 382.08L205.80 385.66L205.95 383.11L206.10 382.94L206.25 385.37L206.40 386.36L206.55 385.75L206.70 387.74L206.85 386.81L207.00 387.13L207.15 387.32L207.30 386.26L207.45 386.86L207.60 388.66L207.75 385.36L207.90 386.14L208.05 386.20L208.20 384.90L208.35 385.07L208.50 383.20L208.65 384.12L208.80 384.30L208.95 385.07L209.10 384.69L209.25 383.00L209.40 382.23L209.55 384.73L209.70 383.57L209.85 380.65L210.00 381.88L210.15 381.12L210.30 381.20L210.45 379.99L210.60 381.11L210.75 380.96L210.90 381.26L211.05 382.63L211.20 382.14L211.35 381.16L211.50 381.12L211.65 382.76L211.80 384.88L211.95 385.21L212.10 384.28L212.25 386.41L212.40 386.14L212.55 385.49L212.70 386.80L212.85 386.65L213.00 385.99L213.15 386.96L213.30 387.82L213.45 389.20L213.60 387.20L213.75 388.60L213.90 388.53L214.05 388.54L214.20 387.49L214.35 389.90L214.50 390.00L214.65 390.34L214.80 389.32L214.95 390.34L215.10 389.50L215.25 389.99L215.40 388.77L215.55 389.35L215.70 388.87L215.85 388.22L216.00 388.86L216.15 388.25L216.30 388.29L216.45 389.03L216.60 388.86L216.75 391.44L216.90 391.20L217.05 390.58L217.20 390.33L217.35 388.79L217.50 389.91L217.65 388.30L217.80 389.10L217.95 389.27L218.10 389.41L218.25 390.61L218.40 389.06L218.55 392.13L218.70 389.37L218.85 390.69L219.00 388.39L219.15 390.78L219.30 388.76L219.45 390.14L219.60 389.96L219.75 390.77L219.90 390.58L220.05 390.38L220.20 389.87L220.35 391.90L220.50 389.60L220.65 390.06L220.80 389.60L220.95 390.19L221.10 389.15L221.25 389.68L221.40 390.56L221.55 389.52L221.70 390.52L221.85 389.52L222.00 391.44L222.15 389.95L222.30 391.76L222.45 390.56L222.60 389.95L222.75 390.99L222.90 391.19L223.05 391.54L223.20 391.41L223.35 390.93L223.50 388.95L223.65 390.96L223.80 389.98L223.95 390.45L224.10 391.27L224.25 389.37L224.40 391.33L224.55 392.34L224.70 390.58L224.85 389.74L225.00 391.35L225.15 390.21L225.30 391.04L225.45 391.22L225.60 388.57L225.75 390.32L225.90 388.55L226.05 389.32L226.20 390.57L226.35 388.84L226.50 389.28L226.65 389.52L226.80 390.25L226.95 390.28L227.10 390.36L227.25 389.44L227.40 389.19L227.55 390.29L227.70 389.05L227.85 389.10L228.00 390.53L228.15 389.08L228.30 388.97L228.45 390.89L228.60 389.76L228.75 387.65L228.90 389.05L229.05 391.61L229.20 392.44L229.35 389.43L229.50 390.37L229.65 390.38L229.80 389.96L229.95 387.90L230.10 390.57L230.25 389.86L230.40 389.35L230.55 388.00L230.70 388.92L230.85 389.40L231.00 389.24L231.15 389.67L231.30 389.06L231.45 390.36L231.60 389.97L231.75 388.25L231.90 388.74L232.05 389.69L232.20 388.73L232.35 390.56L232.50 388.68L232.65 389.40L232.80 389.71L232.95 388.02L233.10 390.26L233.25 388.83L233.40 388.31L233.55 388.29L233.70 387.30L233.85 387.58L234.00 390.27L234.15 388.68L234.30 388.49L234.45 388.90L234.60 389.23L234.75 387.88L234.90 388.39L235.05 388.79L235.20 389.19L235.35 387.92L235.50 388.57L235.65 386.00L235.80 385.12L235.95 383.44L236.10 384.20L236.25 384.59L236.40 383.75L236.55 383.97L236.70 383.45L236.85 384.14L237.00 384.64L237.15 385.37L237.30 386.87L237.45 386.70L237.60 387.41L237.75 387.90L237.90 386.49L238.05 388.23L238.20 387.00L238.35 385.70L238.50 386.38L238.65 386.88L238.80 385.50L238.95 389.15L239.10 386.91L239.25 387.77L239.40 385.81L239.55 387.05L239.70 387.20L239.85 386.23L240.00 387.20L240.15 386.95L240.30 387.31L240.45 385.80L240.60 387.44L240.75 386.68L240.90 386.14L241.05 384.85L241.20 386.76L241.35 386.59L241.50 389.19L241.65 385.79L241.80 388.35L241.95 388.12L242.10 387.32L242.25 387.15L242.40 387.39L242.55 385.50L242.70 388.25L242.85 386.59L243.00 386.19L243.15 386.88L243.30 384.26L243.45 385.61L243.60 385.74L243.75 385.36L243.90 387.40L244.05 388.35L244.20 386.84L244.35 386.51L244.50 387.11L244.65 386.32L244.80 386.91L244.95 387.16L245.10 386.54L245.25 386.36L245.40 386.80L245.55 386.78L245.70 387.35L245.85 385.26L246.00 385.62L246.15 386.20L246.30 387.11L246.45 385.41L246.60 387.77L246.75 387.97L246.90 385.89L247.05 387.63L247.20 384.56L247.35 386.44L247.50 384.98L247.65 387.51L247.80 387.28L247.95 386.94L248.10 385.87L248.25 385.33L248.40 386.78L248.55 385.87L248.70 386.98L248.85 384.80L249.00 386.69L249.15 386.75L249.30 384.08L249.45 385.00L249.60 385.51L249.75 385.59L249.90 384.49L250.05 386.11L250.20 384.97L250.35 385.90L250.50 384.13L250.65 384.63L250.80 386.27L250.95 383.82L251.10 385.23L251.25 386.44L251.40 385.62L251.55 383.37L251.70 386.49L251.85 383.59L252.00 384.74L252.15 384.49L252.30 382.99L252.45 383.61L252.60 380.09L252.75 382.49L252.90 382.25L253.05 381.46L253.20 381.50L253.35 381.90L253.50 381.20L253.65 379.07L253.80 379.72L253.95 379.35L254.10 377.61L254.25 377.13L254.40 373.71L254.55 373.85L254.70 375.07L254.85 372.72L255.00 374.47L255.10 374.51L255.15 372.27L255.30 371.62L255.45 372.19L255.50 372.40L255.60 372.68L255.75 373.60L255.90 373.04L256.05 373.60L256.20 373.00L256.35 374.65L256.50 374.13L256.65 376.34L256.80 376.61L256.95 374.95L257.10 377.40L257.25 376.59L257.40 379.09L257.55 377.69L257.70 380.34L257.85 380.56L258.00 381.74L258.15 380.50L258.30 380.53L258.45 381.93L258.60 379.90L258.75 381.31L258.90 381.31L259.05 381.82L259.20 380.61L259.35 380.74L259.50 380.92L259.65 384.13L259.80 382.58L259.95 383.63L260.10 383.04L260.25 383.05L260.40 384.62L260.55 381.30L260.70 383.40L260.85 382.97L261.00 382.94L261.15 382.38L261.30 382.55L261.45 382.96L261.60 385.21L261.75 383.60L261.90 383.88L262.05 384.22L262.20 385.03L262.35 385.46L262.50 384.70L262.65 384.55L262.80 385.06L262.95 383.82L263.10 384.76L263.25 386.08L263.40 383.71L263.55 383.30L263.70 382.40L263.85 383.60L264.00 383.80L264.15 382.44L264.30 382.14L264.45 383.16L264.60 381.65L264.75 381.86L264.90 380.43L265.05 381.60L265.20 380.85L265.35 379.49L265.50 378.73L265.65 381.42L265.80 377.75L265.95 377.66L266.10 376.09L266.25 379.04L266.40 378.45L266.55 378.36L266.70 377.07L266.85 378.63L267.00 378.01L267.15 377.80L267.30 378.86L267.45 379.58L267.60 379.36L267.75 379.24L267.90 380.64L268.05 380.41L268.20 380.07L268.35 381.20L268.50 381.17L268.65 381.98L268.80 382.11L268.95 382.23L269.10 381.16L269.25 383.12L269.40 382.97L269.55 381.63L269.70 383.40L269.85 382.37L270.00 381.35L270.15 382.26L270.30 381.08L270.45 383.35L270.60 381.09L270.75 383.65L270.90 381.45L271.05 382.13L271.20 383.44L271.35 382.55L271.50 380.66L271.65 382.06L271.80 380.45L271.95 382.78L272.10 381.16L272.25 382.01L272.40 381.95L272.55 380.62L272.70 382.32L272.85 383.66L273.00 381.09L273.15 381.37L273.30 382.23L273.45 382.99L273.60 380.99L273.75 381.96L273.90 382.08L274.05 382.69L274.20 380.89L274.35 383.93L274.50 383.50L274.65 380.26L274.80 380.75L274.95 381.79L275.10 380.81L275.25 380.87L275.40 381.32L275.55 380.59L275.70 380.65L275.85 381.38L276.00 380.76L276.15 381.43L276.30 382.03L276.45 382.04L276.60 381.04L276.75 382.83L276.90 380.49L277.05 381.65L277.20 382.46L277.35 380.90L277.50 381.43L277.65 380.18L277.80 380.04L277.95 380.72L278.10 380.93L278.25 380.78L278.40 381.01L278.55 380.65L278.70 380.22L278.85 379.69L279.00 380.11L279.15 380.22L279.30 380.12L279.45 379.07L279.60 381.23L279.75 381.03L279.90 380.18L280.05 379.48L280.20 380.92L280.35 379.64L280.50 379.59L280.65 380.33L280.80 379.23L280.95 379.83L281.10 379.22L281.25 380.20L281.40 379.99L281.55 380.22L281.70 379.93L281.85 379.79L282.00 379.80L282.15 380.15L282.30 378.48L282.45 378.25L282.60 379.36L282.75 379.41L282.90 378.99L283.05 380.58L283.20 379.58L283.35 380.28L283.50 379.16L283.65 377.76L283.80 377.73L283.95 379.96L284.10 378.96L284.25 378.43L284.40 380.03L284.55 380.40L284.70 379.13L284.85 379.91L285.00 378.40L285.15 377.77L285.30 377.08L285.45 379.57L285.60 377.10L285.75 378.11L285.90 378.51L286.05 378.94L286.20 376.63L286.35 378.10L286.50 377.52L286.65 379.57L286.80 378.01L286.95 377.54L287.10 379.67L287.25 378.20L287.40 378.74L287.55 378.26L287.70 377.77L287.85 378.56L288.00 377.16L288.15 376.51L288.30 377.13L288.45 378.27L288.60 377.29L288.75 378.57L288.90 378.20L289.05 377.69L289.20 378.46L289.35 377.74L289.50 377.64L289.65 377.04L289.80 377.14L289.95 377.12L290.10 378.10L290.25 378.53L290.40 378.02L290.55 377.20L290.70 376.81L290.85 377.10L291.00 376.28L291.15 376.74L291.30 376.39L291.45 376.60L291.60 374.40L291.75 376.52L291.90 377.06L292.05 375.42L292.20 377.96L292.35 376.42L292.50 375.71L292.65 377.46L292.80 375.23L292.95 378.53L293.10 375.33L293.25 376.78L293.40 377.16L293.55 376.43L293.70 375.84L293.85 375.01L294.00 375.46L294.15 375.73L294.30 376.36L294.45 373.36L294.60 375.88L294.75 374.22L294.90 374.62L295.05 375.02L295.20 374.46L295.35 375.52L295.50 373.40L295.65 375.26L295.80 373.82L295.95 374.34L296.10 374.53L296.25 373.23L296.40 374.82L296.55 376.32L296.70 373.69L296.85 373.39L297.00 375.51L297.15 375.58L297.30 372.09L297.45 373.56L297.60 373.06L297.75 373.87L297.90 373.54L298.05 372.62L298.20 373.06L298.35 374.39L298.50 372.43L298.65 373.41L298.80 373.69L298.95 374.60L299.10 373.32L299.25 373.06L299.40 371.88L299.55 372.88L299.70 373.79L299.85 372.89L300.00 373.49L300.15 371.84L300.30 372.89L300.45 371.84L300.60 371.32L300.75 371.28L300.90 372.84L301.05 372.17L301.20 371.35L301.35 371.16L301.50 372.02L301.65 370.75L301.80 372.07L301.95 371.19L302.10 370.26L302.25 370.47L302.40 369.55L302.55 369.39L302.70 369.78L302.85 369.65L303.00 369.63L303.15 369.13L303.30 369.06L303.45 369.83L303.60 368.16L303.75 366.92L303.90 370.65L304.05 369.04L304.20 368.96L304.35 369.71L304.50 369.53L304.65 369.66L304.80 369.05L304.95 368.73L305.10 368.32L305.25 367.61L305.40 367.48L305.55 364.16L305.70 368.82L305.85 367.06L306.00 366.10L306.15 367.91L306.30 366.03L306.45 366.83L306.60 365.48L306.75 364.97L306.90 366.79L307.05 365.59L307.20 363.61L307.35 365.08L307.50 364.61L307.65 362.72L307.80 362.75L307.95 362.35L308.10 361.22L308.25 359.69L308.40 358.77L308.55 358.51L308.70 356.19L308.85 354.76L309.00 353.83L309.15 356.06L309.30 351.03L309.45 350.77L309.60 347.83L309.75 348.32L309.90 347.13L310.00 346.62L310.05 346.99L310.20 346.57L310.35 344.66L310.40 344.30L310.50 343.91L310.65 344.97L310.80 346.46L310.95 346.53L311.10 348.01L311.25 349.51L311.40 350.19L311.55 352.81L311.70 350.28L311.85 352.66L312.00 354.05L312.15 352.48L312.30 352.31L312.45 356.17L312.60 355.47L312.75 355.40L312.90 356.31L313.05 354.56L313.20 354.71L313.35 357.46L313.50 356.37L313.65 355.03L313.80 356.64L313.95 358.46L314.10 356.26L314.25 356.01L314.40 355.60L314.55 357.86L314.70 358.19L314.85 357.96L315.00 358.35L315.15 358.92L315.30 358.92L315.45 359.32L315.60 361.11L315.75 360.58L315.90 361.41L316.05 359.57L316.20 360.80L316.35 362.96L316.50 362.53L316.65 363.70L316.80 361.76L316.95 364.05L317.10 363.28L317.25 364.14L317.40 363.81L317.55 363.87L317.70 364.06L317.85 365.19L318.00 366.53L318.15 364.81L318.30 365.47L318.45 365.33L318.60 365.67L318.75 367.27L318.90 366.44L319.05 366.15L319.20 367.86L319.35 367.71L319.50 367.88L319.65 367.87L319.80 367.35L319.95 368.82L320.10 367.65L320.25 368.60L320.40 368.70L320.55 369.78L320.70 368.73L320.85 369.80L321.00 367.64L321.15 369.51L321.30 369.75L321.45 369.84L321.60 368.06L321.75 370.81L321.90 369.75L322.05 369.90L322.20 372.20L322.35 370.78L322.50 372.10L322.65 369.90L322.80 372.39L322.95 372.20L323.10 372.56L323.25 371.68L323.40 373.16L323.55 372.92L323.70 374.63L323.85 373.16L324.00 372.40L324.15 375.11L324.30 373.37L324.45 374.39L324.60 375.50L324.75 376.54L324.90 375.68L325.05 375.99L325.20 375.63L325.35 375.71L325.50 375.65L325.65 376.12L325.80 375.08L325.95 376.21L326.10 377.18L326.25 376.34L326.40 376.15L326.55 377.06L326.70 375.65L326.85 376.35L327.00 378.73L327.15 377.49L327.30 377.55L327.45 376.86L327.60 376.42L327.75 376.18L327.90 377.40L328.05 378.74L328.20 377.72L328.35 378.86L328.50 373.08L328.65 368.74L328.70 367.10L328.80 371.12L328.95 379.00L329.05 380.08L329.10 379.26L329.25 381.35L329.40 380.84L329.55 381.66L329.70 380.72L329.85 382.37L330.00 380.96L330.15 381.94L330.30 381.15L330.45 380.74L330.60 381.85L330.75 381.54L330.90 379.13L331.05 381.45L331.20 381.35L331.35 380.57L331.50 380.51L331.65 380.25L331.80 380.06L331.95 379.27L332.10 380.36L332.25 380.38L332.40 378.31L332.55 379.03L332.70 378.03L332.85 378.39L333.00 379.68L333.15 378.84L333.30 379.05L333.45 378.59L333.60 381.19L333.75 380.23L333.90 379.66L334.05 379.65L334.20 381.25L334.35 380.94L334.50 380.31L334.65 380.08L334.80 379.41L334.95 381.91L335.10 382.44L335.25 383.25L335.40 381.56L335.55 382.31L335.70 379.88L335.85 382.45L336.00 381.32L336.15 381.39L336.30 381.53L336.45 381.64L336.60 382.12L336.75 383.25L336.90 382.26L337.05 382.72L337.20 383.07L337.35 385.20L337.50 384.22L337.65 383.09L337.80 384.53L337.95 385.47L338.10 383.96L338.25 384.90L338.40 385.35L338.55 383.21L338.70 384.77L338.85 384.64L339.00 385.63L339.15 386.19L339.30 384.65L339.45 383.81L339.60 384.83L339.75 385.38L339.90 384.85L340.05 385.75L340.20 384.52L340.35 386.14L340.50 386.40L340.65 387.62L340.80 385.74L340.95 386.83L341.10 385.33L341.25 385.40L341.40 385.36L341.55 386.03L341.70 385.02L341.85 384.61L342.00 388.33L342.15 386.07L342.30 386.39L342.45 386.61L342.60 386.09L342.75 386.33L342.90 387.60L343.05 386.86L343.20 387.67L343.35 385.61L343.50 387.17L343.65 385.95L343.80 385.64L343.95 387.52L344.10 387.11L344.25 387.57L344.40 387.54L344.55 385.22L344.70 387.54L344.85 388.80L345.00 387.27L345.15 388.02L345.30 388.48L345.45 388.83L345.60 384.99L345.75 387.00L345.90 387.17L346.05 387.12L346.20 388.37L346.35 386.28L346.50 385.23L346.65 387.73L346.80 387.28L346.95 388.51L347.10 388.59L347.25 387.96L347.40 388.88L347.55 386.51L347.70 387.67L347.85 386.56L348.00 389.51L348.15 387.61L348.30 388.76L348.45 388.35L348.60 388.64L348.75 388.93L348.90 389.06L349.05 388.80L349.20 388.24L349.35 388.85L349.50 386.50L349.65 387.46L349.80 389.64L349.95 388.89L350.10 387.15L350.25 387.33L350.40 387.44L350.55 388.23L350.70 389.41L350.85 388.66L351.00 389.43L351.15 387.62L351.30 388.75L351.45 389.05L351.60 389.33L351.75 389.66L351.90 389.17L352.05 389.85L352.20 390.27L352.35 389.67L352.50 388.19L352.65 388.72L352.80 388.61L352.95 390.85L353.10 390.22L353.25 389.61L353.40 389.08L353.55 389.14L353.70 391.07L353.85 389.63L354.00 389.30L354.15 389.20L354.30 390.58L354.45 388.34L354.60 389.58L354.75 390.70L354.90 390.94L355.05 390.79L355.20 390.05L355.35 391.13L355.50 391.94L355.65 389.74L355.80 389.81L355.95 390.31L356.10 390.79L356.25 390.29L356.40 390.25L356.55 388.85L356.70 391.74L356.85 390.07L357.00 391.11L357.15 390.69L357.30 391.84L357.45 390.17L357.60 390.34L357.75 391.49L357.90 391.55L358.05 391.11L358.20 391.98L358.35 391.24L358.50 391.44L358.65 390.76L358.80 391.88L358.95 392.81L359.10 391.92L359.25 392.06L359.40 393.06L359.55 391.90L359.70 391.76L359.85 392.50L360.00 394.00L360.15 392.22L360.30 392.61L360.45 393.05L360.60 392.47L360.75 392.65L360.90 394.26L361.05 391.67L361.20 393.79L361.35 394.30L361.50 394.70L361.65 393.91L361.80 394.24L361.95 393.39L362.10 392.45L362.25 394.28L362.40 394.32L362.55 394.60L362.70 395.45L362.85 396.57L363.00 394.76L363.15 395.85L363.30 394.45L363.45 394.56L363.60 393.33L363.75 394.39L363.90 393.56L364.05 394.23L364.20 392.74L364.35 394.89L364.50 392.45L364.65 394.15L364.80 391.77L364.95 393.52L365.10 393.66L365.25 394.07L365.40 394.61L365.55 392.01L365.70 392.89L365.85 392.70L366.00 392.85L366.15 393.81L366.30 392.06L366.45 391.57L366.60 391.87L366.75 393.16L366.90 391.57L367.05 390.57L367.20 391.75L367.35 393.17L367.50 393.49L367.65 391.43L367.80 391.41L367.95 392.68L368.10 392.92L368.25 392.00L368.40 392.10L368.55 392.79L368.70 390.71L368.85 393.47L369.00 391.28L369.15 390.54L369.30 393.53L369.45 392.48L369.60 393.25L369.75 391.20L369.90 392.97L370.05 393.04L370.20 393.05L370.35 393.10L370.50 392.97L370.65 393.07L370.80 392.14L370.95 395.11L371.10 392.90L371.25 392.27L371.40 393.77L371.55 393.32L371.70 392.92L371.85 396.56L372.00 394.05L372.15 392.09L372.30 393.30L372.45 393.43L372.60 393.73L372.75 394.41L372.90 394.30L373.05 395.62L373.20 393.57L373.35 393.70L373.50 395.00L373.65 395.14L373.80 393.83L373.95 393.61L374.10 395.18L374.25 394.74L374.40 395.24L374.55 395.22L374.70 394.71L374.85 394.44L375.00 394.43L375.15 394.32L375.30 393.17L375.45 394.84L375.60 395.15L375.75 395.04L375.90 393.79L376.05 394.23L376.20 395.48L376.35 395.46L376.50 393.63L376.65 393.13L376.80 394.68L376.95 393.13L377.10 396.25L377.25 394.39L377.40 395.15L377.55 392.79L377.70 394.63L377.85 394.69L378.00 393.12L378.15 396.14L378.30 394.29L378.45 394.44L378.60 393.47L378.75 393.62L378.90 393.70L379.05 393.14L379.20 392.92L379.35 390.90L379.50 392.28L379.65 391.18L379.80 392.71L379.95 391.93L380.10 391.19L380.25 394.55L380.40 393.12L380.55 393.36L380.70 394.01L380.85 394.16L381.00 395.26L381.15 396.45L381.30 394.86L381.45 396.10L381.60 396.34L381.75 394.70L381.90 396.60L382.05 396.85L382.20 395.88L382.35 395.73L382.50 395.12L382.65 396.99L382.80 395.45L382.95 396.23L383.10 394.86L383.25 395.82L383.40 394.57L383.55 395.35L383.70 396.81L383.85 395.07L384.00 395.14L384.15 395.44L384.30 395.70L384.45 395.07L384.60 396.29L384.75 395.61L384.90 396.80L385.05 396.56L385.20 396.38L385.35 396.48L385.50 396.59L385.65 394.52L385.80 398.06L385.95 394.57L386.10 397.50L386.25 395.45L386.40 394.25L386.55 394.90L386.70 394.34L386.85 396.42L387.00 395.93L387.15 398.72L387.30 396.34L387.45 395.55L387.60 397.46L387.75 398.97L387.90 395.49L388.05 395.46L388.20 396.16L388.35 395.05L388.50 395.49L388.65 397.69L388.80 397.20L388.95 397.17L389.10 396.24L389.25 397.29L389.40 394.52L389.55 397.37L389.70 394.66L389.85 395.12L390.00 396.33L390.15 394.89L390.30 396.15L390.45 396.15L390.60 396.83L390.75 395.71L390.90 395.89L391.05 395.52L391.20 395.66L391.35 395.47L391.50 395.63L391.65 396.14L391.80 396.67L391.95 395.86L392.10 392.83L392.25 395.82L392.40 393.88L392.55 394.56L392.70 396.06L392.85 393.20L393.00 394.87L393.15 395.69L393.30 395.50L393.45 395.09L393.60 394.28L393.75 397.43L393.90 394.40L394.05 395.07L394.20 396.52L394.35 396.05L394.50 396.69L394.65 397.29L394.80 395.17L394.95 396.75L395.10 395.70L395.25 396.55L395.40 396.46L395.55 395.91L395.70 396.84L395.85 396.04L396.00 399.74L396.10 399.45L396.15 396.16L396.30 391.72L396.45 387.66L396.50 389.30L396.60 389.67L396.75 395.59L396.90 396.35L397.05 397.20L397.20 397.13L397.35 397.17L397.50 397.27L397.65 397.41L397.80 399.28L397.95 398.11L398.10 399.91L398.25 398.15L398.40 398.09L398.55 399.83L398.70 397.21L398.85 399.12L399.00 396.91L399.15 398.89L399.30 397.90L399.45 398.19L399.60 397.24L399.75 400.16L399.90 398.19L400.05 396.83L400.20 399.46L400.35 396.68L400.50 398.03L400.65 398.18L400.80 397.29L400.95 397.87L401.10 396.73L401.25 397.54L401.40 396.27L401.55 396.43L401.70 396.46L401.85 397.11L402.00 396.42L402.15 398.17L402.30 395.90L402.45 398.86L402.60 396.54L402.75 396.47L402.90 396.28L403.05 397.37L403.20 395.83L403.35 397.04L403.50 396.10L403.65 394.68L403.80 396.16L403.95 397.99L404.10 395.23L404.25 396.96L404.40 394.98L404.55 397.23L404.70 395.02L404.85 395.49L405.00 396.21L405.15 396.39L405.30 395.96L405.45 397.97L405.60 397.02L405.75 395.76L405.90 396.81L406.05 396.57L406.20 396.80L406.35 396.20L406.50 396.13L406.65 396.69L406.80 395.69L406.95 396.65L407.10 399.39L407.25 396.47L407.40 395.01L407.55 396.84L407.70 396.45L407.85 396.05L408.00 397.08L408.15 396.86L408.30 398.03L408.45 398.75L408.60 395.83L408.75 397.14L408.90 395.90L409.05 396.26L409.20 397.41L409.35 398.04L409.50 397.00L409.65 399.34L409.80 395.88L409.95 397.46L410.10 397.62L410.25 396.62L410.40 397.32L410.55 395.75L410.70 396.20L410.85 397.23L411.00 396.20L411.15 397.34L411.30 397.37L411.45 398.18L411.60 397.33L411.75 396.20L411.90 395.86L412.05 397.00L412.20 395.81L412.35 398.39L412.50 396.14L412.65 395.68L412.80 395.08L412.95 395.75L413.10 395.42L413.25 395.96L413.40 394.79L413.55 394.87L413.70 395.09L413.85 394.78L414.00 394.11L414.15 394.94L414.30 394.76L414.45 394.66L414.60 395.15L414.75 393.71L414.90 394.80L415.05 395.37L415.20 394.84L415.35 394.63L415.50 394.07L415.65 394.33L415.80 393.38L415.95 396.80L416.10 395.12L416.25 395.18L416.40 395.61L416.55 394.76L416.70 394.94L416.85 394.81L417.00 393.75L417.15 392.58L417.30 395.29L417.45 395.78L417.60 395.23L417.75 394.51L417.90 395.27L418.05 395.56L418.20 395.81L418.35 395.03L418.50 395.60L418.65 392.93L418.80 395.53L418.95 395.40L419.10 393.57L419.25 394.58L419.40 395.13L419.55 395.79L419.70 395.43L419.85 395.78L420.00 394.64L420.15 394.62L420.30 395.13L420.45 393.92L420.60 393.64L420.75 395.22L420.90 394.42L421.05 394.62L421.20 395.70L421.35 392.21L421.50 394.34L421.65 395.34L421.80 394.36L421.95 395.97L422.10 393.40L422.25 394.39L422.40 394.04L422.55 394.13L422.70 393.44L422.85 394.45L423.00 393.65L423.15 393.63L423.30 395.10L423.45 394.54L423.60 393.33L423.75 394.52L423.90 395.08L424.05 395.38L424.20 394.63L424.35 395.79L424.50 394.38L424.65 393.89L424.80 393.97L424.95 394.75L425.10 392.16L425.25 396.17L425.40 395.31L425.55 394.06L425.70 394.34L425.85 395.20L426.00 396.33L426.15 393.31L426.30 395.81L426.45 395.16L426.60 394.34L426.75 395.38L426.90 394.11L427.05 393.55L427.20 393.33L427.35 397.18L427.50 394.72L427.65 394.88L427.80 395.19L427.95 395.00L428.10 394.46L428.25 396.24L428.40 395.84L428.55 396.13L428.70 394.42L428.85 397.13L429.00 396.21L429.15 396.98L429.30 395.54L429.45 395.66L429.60 394.76L429.75 397.50L429.90 396.49L430.05 395.04L430.20 396.17L430.35 396.20L430.50 396.39L430.65 397.23L430.80 397.35L430.95 396.77L431.10 395.38L431.25 395.56L431.40 395.62L431.55 395.82L431.70 396.94L431.85 396.00L432.00 396.43L432.15 397.33L432.30 396.15L432.45 398.56L432.60 394.73L432.75 397.34L432.90 395.87L433.05 396.91L433.20 396.66L433.35 396.71L433.50 396.02L433.65 397.03L433.80 395.96L433.95 397.05L434.10 396.25L434.25 395.79L434.40 398.14L434.55 397.00L434.70 396.21L434.85 397.46L435.00 397.68L435.15 398.59L435.30 397.30L435.45 397.62L435.60 395.95L435.75 398.75L435.90 396.29L436.05 396.86L436.20 396.91L436.35 397.45L436.50 396.62L436.65 396.42L436.80 396.48L436.95 397.84L437.10 397.30L437.25 396.76L437.40 396.57L437.55 395.00L437.70 395.38L437.85 394.51L438.00 397.39L438.15 393.73L438.30 394.02L438.45 394.33L438.60 394.53L438.75 393.19L438.90 393.62L439.05 395.40L439.20 392.89L439.35 395.33L439.50 394.59L439.65 393.33L439.80 391.28L439.95 393.10L440.10 393.64L440.25 392.86L440.40 392.96L440.55 393.17L440.70 392.69L440.85 394.37L441.00 393.01L441.15 393.40L441.30 392.15L441.45 389.48L441.60 391.39L441.75 391.72L441.90 390.30L442.05 392.15L442.20 391.63L442.35 389.63L442.50 392.43L442.65 391.91L442.80 391.40L442.95 390.75L443.10 392.51L443.25 389.00L443.40 390.88L443.55 392.64L443.70 392.85L443.85 391.91L444.00 393.07L444.15 391.02L444.30 390.51L444.45 393.43L444.60 392.72L444.75 391.52L444.90 392.41L445.05 391.86L445.20 391.44L445.35 391.99L445.50 392.75L445.65 390.29L445.80 390.95L445.95 391.38L446.10 390.82L446.25 391.46L446.40 390.15L446.55 391.07L446.70 392.17L446.85 391.26L447.00 391.44L447.15 392.11L447.30 393.11L447.45 390.90L447.60 390.90L447.75 392.31L447.90 392.04L448.05 390.37L448.20 390.67L448.35 390.99L448.50 391.47L448.65 391.48L448.80 392.33L448.95 393.12L449.10 392.58L449.25 390.93L449.40 390.95L449.55 390.65L449.70 390.70L449.85 392.48L450.00 391.93L450.10 389.50L450.15 388.38L450.30 380.09L450.40 372.80L450.45 374.48L450.60 385.98L450.70 393.48L450.75 389.90L450.90 391.17L451.05 390.74L451.20 392.20L451.35 392.25L451.50 393.43L451.65 392.38L451.80 392.06L451.95 392.27L452.10 393.58L452.25 391.62L452.40 392.43L452.55 392.13L452.70 392.50L452.85 394.14L453.00 392.50L453.15 394.22L453.30 392.56L453.45 392.32L453.60 392.09L453.75 396.26L453.90 393.59L454.05 394.92L454.20 393.58L454.35 394.00L454.50 393.05L454.65 395.03L454.80 394.62L454.95 393.30L455.10 394.74L455.25 395.16L455.40 395.14L455.55 394.42L455.70 395.18L455.85 395.09L456.00 394.23L456.15 392.50L456.30 393.24L456.45 395.58L456.60 393.51L456.75 394.15L456.90 394.06L457.05 393.61L457.20 395.93L457.35 393.74L457.50 395.75L457.65 394.41L457.80 394.03L457.95 394.43L458.10 393.09L458.25 394.59L458.40 394.93L458.55 394.48L458.70 394.49L458.85 393.69L459.00 395.07L459.15 393.74L459.30 393.97L459.45 393.70L459.60 395.89L459.75 394.65L459.90 394.20L460.05 395.69L460.20 394.16L460.35 393.39L460.50 394.76L460.65 395.08L460.80 395.53L460.95 392.78L461.10 393.91L461.25 395.72L461.40 395.13L461.55 394.48L461.70 392.95L461.85 394.57L462.00 393.93L462.15 393.62L462.30 394.88L462.45 393.77L462.60 394.79L462.75 395.47L462.90 394.26L463.05 395.61L463.20 396.00L463.35 395.93L463.50 393.78L463.65 393.51L463.80 393.80L463.95 393.33L464.10 393.99L464.25 394.94L464.40 394.79L464.55 395.16L464.70 396.10L464.85 394.40L465.00 393.84L465.15 393.73L465.30 393.64L465.45 395.17L465.60 396.08L465.75 395.03L465.90 394.29L466.05 394.81L466.20 395.68L466.35 394.18L466.50 395.27L466.65 394.60L466.80 394.02L466.95 395.47L467.10 395.40L467.25 394.40L467.40 393.61L467.55 393.13L467.70 393.46L467.85 395.51L468.00 394.35L468.15 394.35L468.30 394.65L468.45 394.10L468.60 394.33L468.75 393.17L468.90 395.14L469.05 392.94L469.20 394.53L469.35 391.30L469.50 392.77L469.65 392.39L469.80 394.01L469.95 392.11L470.10 392.05L470.25 393.91L470.40 394.65L470.55 393.96L470.70 395.17L470.85 393.87L471.00 391.86L471.15 390.84L471.30 392.14L471.45 391.94L471.60 391.57L471.75 392.51L471.90 393.95L472.05 393.37L472.20 392.60L472.35 392.75L472.50 391.35L472.65 393.18L472.80 391.05L472.95 392.00L473.10 390.67L473.25 390.77L473.40 391.69L473.55 392.31L473.70 389.16L473.85 390.75L474.00 392.76L474.15 390.35L474.30 390.13L474.45 390.48L474.60 389.54L474.75 389.67L474.90 388.90L475.05 387.33L475.20 388.70L475.35 387.97L475.50 389.27L475.65 386.14L475.80 386.46L475.95 389.13L476.10 386.83L476.25 388.38L476.40 386.21L476.55 387.66L476.70 385.26L476.85 385.11L477.00 386.21L477.15 386.68L477.30 386.01L477.45 387.84L477.60 385.77L477.75 387.27L477.90 385.91L478.05 385.76L478.20 387.40L478.35 386.17L478.50 385.03L478.65 387.30L478.80 388.13L478.95 387.70L479.10 386.87L479.25 386.43L479.40 386.82L479.55 388.24L479.70 389.64L479.85 386.88L480.00 387.93L480.15 389.02L480.30 388.45L480.45 388.02L480.60 387.46L480.75 388.73L480.90 387.83L481.05 387.48L481.20 386.23L481.35 388.51L481.50 388.45L481.65 388.41L481.80 387.19L481.95 388.93L482.10 388.54L482.25 387.70L482.40 386.68L482.55 388.27L482.70 388.83L482.85 385.98L483.00 388.35L483.15 387.54L483.30 387.72L483.45 388.11L483.60 388.79L483.75 388.05L483.90 386.64L484.05 388.34L484.20 388.27L484.35 387.66L484.50 389.27L484.65 387.50L484.80 388.77L484.95 388.89L485.10 388.07L485.25 388.06L485.40 387.52L485.55 387.36L485.70 387.29L485.85 386.97L486.00 387.45L486.15 387.19L486.30 387.63L486.45 387.74L486.60 389.18L486.75 386.87L486.90 387.35L487.05 389.38L487.20 389.55L487.35 389.28L487.50 388.82L487.65 391.17L487.80 389.04L487.95 389.14L488.10 390.22L488.25 388.31L488.40 389.04L488.55 389.18L488.70 388.15L488.85 390.26L489.00 391.34L489.15 390.66L489.30 389.63L489.45 389.88L489.60 389.27L489.75 390.22L489.90 390.80L490.05 389.36L490.20 391.44L490.35 389.32L490.50 390.16L490.65 390.88L490.80 391.79L490.95 391.00L491.10 389.90L491.25 389.91L491.40 391.43L491.55 391.68L491.70 391.86L491.85 390.08L492.00 392.09L492.15 392.44L492.30 390.94L492.45 391.09L492.60 392.65L492.75 391.21L492.90 392.78L493.05 393.76L493.20 391.69L493.35 392.80L493.50 392.95L493.65 393.13L493.80 393.04L493.95 393.11L494.10 392.34L494.25 392.82L494.40 393.58L494.55 394.33L494.70 393.75L494.85 394.58L495.00 394.01L495.15 393.36L495.30 394.03L495.45 394.33L495.60 391.86L495.75 393.63L495.90 391.85L496.05 394.34L496.20 394.86L496.35 394.18L496.50 394.57L496.65 394.13L496.80 394.45L496.95 393.54L497.10 396.47L497.25 395.02L497.40 395.36L497.55 394.23L497.70 394.94L497.85 395.27L498.00 394.48L498.15 393.88L498.30 395.61L498.45 393.71L498.60 394.90L498.75 394.92L498.90 393.25L499.05 395.64L499.20 395.03L499.35 394.22L499.50 395.61L499.65 393.80L499.80 395.95L499.95 395.10L500.10 394.64L500.25 396.14L500.40 395.05L500.55 394.55L500.70 395.35L500.85 395.25L501.00 393.63L501.15 394.82L501.30 395.03L501.45 396.77L501.60 396.06L501.75 394.55L501.90 395.51L502.05 395.52L502.20 396.71L502.35 396.50L502.50 395.61L502.65 395.49L502.80 394.26L502.95 394.09L503.10 395.02L503.25 398.07L503.40 395.95L503.55 395.25L503.70 396.60L503.85 397.63L504.00 395.93L504.15 396.27L504.30 397.51L504.45 396.28L504.60 395.93L504.75 395.69L504.90 397.01L505.05 395.83L505.20 396.37L505.35 397.12L505.50 395.53L505.65 395.19L505.80 396.78L505.95 396.32L506.10 396.09L506.25 396.08L506.40 397.94L506.55 397.51L506.70 397.04L506.85 397.25L507.00 397.25L507.15 396.94L507.30 396.10L507.45 397.19L507.60 398.40L507.75 399.67L507.90 397.55L508.05 397.43L508.20 396.79L508.35 398.53L508.50 396.06L508.65 396.94L508.80 396.59L508.95 397.10L509.10 398.10L509.25 397.64L509.40 396.92L509.55 397.96L509.70 398.94L509.85 397.74L510.00 396.27L510.15 397.99L510.30 399.45L510.45 397.98L510.60 398.67L510.75 398.32L510.90 398.45L511.05 398.51L511.20 400.62L511.35 398.90L511.50 397.11L511.65 399.34L511.80 398.49L511.95 399.23" fill="none" stroke="#22aa22" stroke-width="0.7" stroke-linejoin="round" opacity="1"/><path d="M195.00 430.37L195.15 429.12L195.30 432.37L195.45 434.16L195.60 431.66L195.75 432.60L195.90 432.72L196.05 432.36L196.20 432.46L196.35 432.91L196.50 431.54L196.65 430.30L196.80 430.21L196.95 432.76L197.10 432.62L197.25 432.19L197.40 429.90L197.55 432.08L197.70 432.30L197.85 431.36L198.00 431.61L198.15 434.60L198.30 433.74L198.45 433.12L198.60 432.53L198.75 431.66L198.90 431.64L199.05 432.60L199.20 430.86L199.35 431.34L199.50 433.11L199.65 429.89L199.80 430.23L199.95 432.69L200.10 431.02L200.25 430.61L200.40 429.34L200.55 428.53L200.70 431.01L200.85 426.87L201.00 429.81L201.15 428.54L201.30 428.81L201.45 426.54L201.60 429.42L201.75 428.92L201.90 428.42L202.05 428.38L202.20 426.35L202.35 427.73L202.50 427.84L202.65 427.03L202.80 423.61L202.95 426.53L203.10 426.52L203.25 425.00L203.40 426.00L203.55 427.05L203.70 425.39L203.85 426.64L204.00 424.52L204.15 424.14L204.30 425.00L204.45 423.67L204.60 422.72L204.75 424.74L204.90 424.33L205.05 424.91L205.20 423.42L205.35 424.01L205.50 425.23L205.65 424.55L205.80 425.26L205.95 426.22L206.10 425.74L206.25 427.36L206.40 426.19L206.55 428.86L206.70 431.76L206.85 430.26L207.00 429.76L207.15 429.04L207.30 430.00L207.45 431.34L207.60 431.18L207.75 432.74L207.90 432.52L208.05 433.19L208.20 432.08L208.35 432.98L208.50 433.33L208.65 430.67L208.80 431.14L208.95 430.72L209.10 430.35L209.25 431.19L209.40 429.21L209.55 428.21L209.70 427.33L209.85 426.81L210.00 427.90L210.15 428.59L210.30 427.33L210.45 426.05L210.60 426.32L210.75 425.18L210.90 426.86L211.05 425.70L211.20 426.94L211.35 426.11L211.50 426.41L211.65 425.43L211.80 427.77L211.95 427.81L212.10 428.60L212.25 430.23L212.40 432.40L212.55 431.64L212.70 433.52L212.85 432.42L213.00 430.59L213.15 431.70L213.30 434.41L213.45 433.26L213.60 432.91L213.75 432.50L213.90 433.26L214.05 433.60L214.20 432.82L214.35 433.27L214.50 433.68L214.65 432.36L214.80 433.28L214.95 432.86L215.10 433.03L215.25 432.83L215.40 433.16L215.55 433.02L215.70 435.70L215.85 433.80L216.00 434.41L216.15 433.27L216.30 434.28L216.45 434.64L216.60 435.86L216.75 436.05L216.90 433.88L217.05 436.18L217.20 434.49L217.35 435.69L217.50 434.42L217.65 435.26L217.80 434.46L217.95 433.21L218.10 435.19L218.25 434.33L218.40 434.54L218.55 434.94L218.70 435.22L218.85 437.24L219.00 433.66L219.15 434.25L219.30 433.81L219.45 436.04L219.60 434.49L219.75 434.18L219.90 435.26L220.05 434.87L220.20 435.33L220.35 433.29L220.50 434.80L220.65 435.38L220.80 434.19L220.95 436.03L221.10 434.68L221.25 433.99L221.40 434.35L221.55 435.30L221.70 435.82L221.85 434.28L222.00 435.33L222.15 434.41L222.30 433.84L222.45 433.75L222.60 435.48L222.75 434.28L222.90 434.88L223.05 436.38L223.20 435.72L223.35 434.30L223.50 434.43L223.65 434.97L223.80 432.58L223.95 435.35L224.10 433.95L224.25 435.40L224.40 433.94L224.55 434.30L224.70 435.46L224.85 435.29L225.00 436.44L225.15 434.15L225.30 434.00L225.45 436.10L225.60 435.14L225.75 433.42L225.90 434.10L226.05 434.98L226.20 434.07L226.35 433.09L226.50 434.58L226.65 434.96L226.80 435.79L226.95 435.60L227.10 435.28L227.25 433.66L227.40 433.26L227.55 433.43L227.70 435.02L227.85 435.33L228.00 432.54L228.15 434.96L228.30 435.28L228.45 435.90L228.60 435.13L228.75 435.32L228.90 434.58L229.05 434.04L229.20 434.18L229.35 434.26L229.50 433.15L229.65 434.17L229.80 435.28L229.95 433.93L230.10 435.49L230.25 433.35L230.40 434.65L230.55 433.41L230.70 435.25L230.85 434.89L231.00 435.12L231.15 434.95L231.30 434.62L231.45 435.22L231.60 434.28L231.75 431.60L231.90 434.17L232.05 434.53L232.20 431.69L232.35 435.15L232.50 433.87L232.65 434.95L232.80 433.60L232.95 434.05L233.10 433.01L233.25 433.57L233.40 432.21L233.55 434.00L233.70 433.32L233.85 433.03L234.00 432.91L234.15 432.64L234.30 433.55L234.45 433.43L234.60 433.20L234.75 434.83L234.90 432.35L235.05 432.97L235.20 432.03L235.35 433.04L235.50 433.08L235.65 431.40L235.80 433.52L235.95 431.07L236.10 432.54L236.25 432.75L236.40 431.67L236.55 434.27L236.70 432.99L236.85 431.40L236.90 433.07L237.00 431.09L237.15 427.14L237.30 424.70L237.45 426.65L237.60 431.23L237.70 434.46L237.75 432.36L237.90 434.19L238.05 430.27L238.20 430.31L238.35 432.00L238.50 431.24L238.65 432.10L238.80 433.68L238.95 430.75L239.10 432.20L239.25 431.71L239.40 430.41L239.55 431.46L239.70 430.52L239.85 431.38L240.00 433.10L240.15 432.64L240.30 432.63L240.45 431.67L240.60 430.99L240.75 433.58L240.90 431.48L241.05 431.88L241.20 432.49L241.35 431.26L241.50 431.86L241.65 431.33L241.80 431.69L241.95 432.23L242.10 429.95L242.25 431.38L242.40 430.73L242.55 431.04L242.70 431.60L242.85 432.70L243.00 429.08L243.15 432.90L243.30 430.57L243.45 430.29L243.60 430.39L243.75 431.28L243.90 431.24L244.05 429.29L244.20 429.40L244.35 432.01L244.50 430.90L244.65 429.05L244.80 430.71L244.95 430.65L245.10 432.46L245.25 430.11L245.40 430.31L245.55 430.46L245.70 431.23L245.85 431.34L246.00 431.47L246.15 432.56L246.30 430.66L246.45 432.36L246.60 430.83L246.75 431.51L246.90 431.67L247.05 432.49L247.20 429.66L247.35 432.88L247.50 428.65L247.65 430.41L247.80 430.37L247.95 430.48L248.10 431.89L248.25 428.72L248.40 429.23L248.55 431.33L248.70 432.09L248.85 429.19L249.00 429.68L249.15 430.89L249.30 430.81L249.45 428.57L249.60 429.98L249.75 429.50L249.90 428.80L250.05 429.77L250.20 429.07L250.35 428.52L250.50 432.04L250.65 429.11L250.80 428.53L250.95 431.34L251.10 428.96L251.25 428.77L251.40 426.52L251.55 427.35L251.70 430.26L251.85 427.78L252.00 428.04L252.15 428.06L252.30 428.22L252.45 429.67L252.60 425.70L252.75 425.31L252.90 428.12L253.05 426.78L253.20 426.34L253.35 426.40L253.50 424.48L253.65 424.76L253.80 424.62L253.95 424.49L254.10 422.74L254.25 420.86L254.40 420.86L254.55 420.97L254.70 420.42L254.85 421.67L255.00 419.13L255.15 420.55L255.30 419.44L255.45 420.02L255.60 421.34L255.75 421.07L255.90 419.68L256.05 420.67L256.20 422.10L256.35 421.66L256.50 423.25L256.65 424.15L256.80 423.02L256.95 424.62L257.10 426.63L257.25 425.88L257.40 425.04L257.55 427.58L257.70 426.56L257.85 426.61L258.00 427.44L258.15 427.91L258.30 426.68L258.45 427.70L258.60 428.06L258.75 428.37L258.90 427.55L259.05 426.95L259.20 427.87L259.35 428.26L259.50 428.14L259.65 428.93L259.80 428.40L259.95 426.74L260.10 428.76L260.25 429.16L260.40 426.57L260.55 429.06L260.70 429.26L260.85 428.86L261.00 429.02L261.15 427.71L261.30 429.07L261.45 429.02L261.60 427.65L261.75 429.18L261.90 429.59L262.05 428.37L262.20 430.53L262.35 428.85L262.50 428.70L262.65 428.98L262.80 428.45L262.95 428.07L263.10 427.45L263.25 426.08L263.40 426.19L263.55 427.45L263.70 428.61L263.85 426.42L264.00 424.19L264.15 427.16L264.30 425.05L264.45 425.07L264.60 426.05L264.75 425.62L264.90 425.38L265.05 424.44L265.20 424.09L265.35 425.08L265.50 425.17L265.65 424.89L265.80 424.95L265.95 424.59L266.10 423.29L266.25 423.99L266.40 423.43L266.55 422.46L266.70 424.99L266.85 424.34L267.00 422.66L267.15 422.78L267.30 423.44L267.45 423.40L267.60 423.24L267.75 423.49L267.90 425.31L268.05 423.76L268.20 423.62L268.35 425.80L268.50 424.56L268.65 424.62L268.80 424.47L268.95 425.39L269.10 425.32L269.25 425.56L269.40 425.76L269.55 426.30L269.70 424.88L269.85 425.35L270.00 425.82L270.15 426.25L270.30 425.95L270.45 426.27L270.60 426.30L270.75 425.93L270.90 425.92L271.05 428.01L271.20 426.22L271.35 425.76L271.50 426.93L271.65 426.53L271.80 425.27L271.95 427.60L272.10 423.61L272.25 426.54L272.40 426.40L272.55 426.68L272.70 425.96L272.85 423.65L273.00 424.37L273.15 426.24L273.30 424.33L273.45 427.07L273.60 427.44L273.75 424.17L273.90 426.31L274.05 426.48L274.20 427.98L274.35 424.92L274.50 426.00L274.65 426.35L274.80 424.33L274.95 424.51L275.10 425.91L275.25 425.20L275.40 424.29L275.55 424.08L275.70 424.94L275.85 424.38L276.00 425.56L276.15 424.91L276.30 426.63L276.45 424.58L276.60 424.37L276.75 425.29L276.90 425.59L277.05 423.79L277.20 424.04L277.35 423.74L277.50 423.41L277.65 424.44L277.80 424.83L277.95 423.81L278.10 423.41L278.25 423.34L278.40 426.02L278.55 424.56L278.70 424.61L278.85 423.54L279.00 423.47L279.15 423.87L279.30 423.73L279.45 422.73L279.60 424.12L279.75 423.47L279.90 424.14L280.05 424.61L280.20 424.25L280.35 423.31L280.50 425.68L280.65 425.19L280.80 424.37L280.95 424.79L281.10 423.33L281.25 424.27L281.40 424.72L281.55 424.43L281.70 423.09L281.85 423.40L282.00 422.81L282.15 423.37L282.30 424.28L282.45 421.62L282.60 421.91L282.75 423.45L282.90 423.50L283.05 423.19L283.20 424.57L283.35 422.69L283.50 422.06L283.65 422.92L283.80 422.01L283.95 424.37L284.10 425.01L284.25 422.92L284.40 423.05L284.55 423.27L284.70 423.53L284.85 422.69L285.00 422.04L285.15 423.46L285.30 424.04L285.45 421.97L285.60 421.52L285.75 422.43L285.90 424.68L286.05 421.92L286.20 421.72L286.35 423.13L286.50 422.14L286.65 422.08L286.80 423.61L286.95 421.32L287.10 421.78L287.25 423.63L287.40 423.17L287.55 423.13L287.70 422.08L287.85 422.41L288.00 421.70L288.15 423.07L288.30 422.87L288.45 423.14L288.60 421.49L288.75 422.00L288.90 422.44L289.05 423.14L289.20 421.07L289.35 422.52L289.50 421.70L289.65 421.73L289.80 421.08L289.95 422.29L290.10 422.25L290.25 420.59L290.40 422.80L290.55 420.70L290.70 421.77L290.85 422.77L291.00 420.06L291.15 419.71L291.30 421.75L291.45 421.90L291.60 421.53L291.75 421.90L291.90 420.28L292.05 421.52L292.20 421.40L292.35 421.64L292.50 420.28L292.65 423.44L292.80 420.68L292.95 419.12L293.10 419.75L293.25 419.62L293.40 421.93L293.55 421.58L293.70 420.89L293.85 421.21L294.00 420.49L294.15 421.59L294.30 419.79L294.45 421.99L294.60 420.74L294.75 421.82L294.90 418.43L295.05 419.56L295.20 420.19L295.35 420.11L295.50 418.64L295.65 420.89L295.80 420.11L295.95 418.50L296.10 418.58L296.25 419.01L296.40 418.97L296.55 419.74L296.70 419.58L296.85 420.08L297.00 419.95L297.15 417.61L297.30 420.53L297.45 417.32L297.60 419.01L297.75 418.33L297.90 417.56L298.05 419.86L298.20 417.19L298.35 418.30L298.50 417.57L298.65 418.96L298.80 417.87L298.95 418.35L299.10 418.79L299.25 418.39L299.40 418.58L299.55 418.38L299.70 418.73L299.85 417.09L300.00 415.14L300.15 416.77L300.30 416.47L300.45 417.01L300.60 417.32L300.75 417.16L300.90 415.99L301.05 415.38L301.20 417.51L301.35 417.47L301.50 416.63L301.65 417.61L301.80 416.67L301.95 415.44L302.10 415.79L302.25 415.95L302.40 416.71L302.55 415.47L302.70 415.83L302.85 413.50L303.00 415.45L303.15 416.35L303.30 413.82L303.45 415.14L303.60 415.39L303.75 414.77L303.90 414.49L304.05 414.15L304.20 413.58L304.35 412.99L304.50 411.93L304.65 411.66L304.80 410.64L304.95 410.96L305.10 411.79L305.25 409.11L305.40 409.08L305.55 408.19L305.70 408.74L305.85 406.99L306.00 407.29L306.15 403.92L306.30 406.33L306.45 404.75L306.60 404.25L306.75 402.09L306.90 401.22L307.05 400.81L307.20 397.61L307.35 396.35L307.50 398.20L307.65 395.80L307.80 395.99L307.95 395.22L308.10 391.93L308.25 393.16L308.40 391.06L308.55 390.07L308.70 387.08L308.85 387.89L309.00 386.16L309.15 387.48L309.30 384.11L309.45 384.87L309.60 383.16L309.75 383.62L309.90 380.78L310.05 380.25L310.20 379.38L310.35 379.64L310.50 378.21L310.65 378.90L310.80 380.02L310.95 374.32L311.10 377.16L311.20 376.20L311.25 376.91L311.40 377.93L311.55 380.51L311.60 380.68L311.70 381.65L311.85 382.03L312.00 382.33L312.15 383.37L312.30 383.73L312.45 383.06L312.60 384.68L312.75 386.89L312.90 384.29L313.05 385.67L313.20 387.61L313.35 387.34L313.50 387.58L313.65 388.44L313.80 390.64L313.95 388.30L314.10 387.46L314.25 390.56L314.40 390.75L314.55 388.94L314.70 389.87L314.85 392.68L315.00 392.54L315.15 393.45L315.30 390.71L315.45 394.00L315.60 392.17L315.75 393.44L315.90 393.55L316.05 394.90L316.20 395.20L316.35 394.10L316.50 394.05L316.65 397.85L316.80 396.20L316.95 396.25L317.10 394.76L317.25 397.40L317.40 397.86L317.55 398.44L317.70 397.45L317.85 398.69L318.00 399.87L318.15 398.92L318.30 399.91L318.45 401.78L318.60 403.40L318.75 403.66L318.90 403.19L319.05 403.16L319.20 403.82L319.35 404.33L319.50 403.57L319.65 406.29L319.80 405.07L319.95 406.58L320.10 405.23L320.25 407.34L320.40 406.46L320.55 407.50L320.70 407.59L320.85 409.52L321.00 409.02L321.15 409.38L321.30 411.94L321.45 410.95L321.60 412.36L321.75 410.97L321.90 412.78L322.05 413.14L322.20 413.33L322.35 415.30L322.50 415.56L322.65 414.68L322.80 415.95L322.95 417.23L323.10 416.58L323.25 416.84L323.40 418.40L323.55 418.24L323.70 419.03L323.85 420.19L324.00 420.08L324.15 419.15L324.30 418.76L324.45 420.68L324.60 419.18L324.75 419.05L324.90 418.86L325.05 422.46L325.20 420.13L325.35 421.17L325.50 422.47L325.65 421.38L325.80 421.69L325.95 422.73L326.10 421.67L326.25 422.21L326.40 420.46L326.55 422.05L326.70 419.87L326.85 423.33L327.00 423.11L327.15 421.19L327.30 421.51L327.45 420.36L327.60 420.26L327.75 423.26L327.90 422.41L328.05 424.66L328.20 422.74L328.35 422.16L328.50 423.81L328.65 422.59L328.80 416.11L328.95 411.88L329.00 409.30L329.10 414.10L329.25 419.25L329.35 421.55L329.40 421.72L329.55 421.53L329.70 422.16L329.85 420.86L330.00 423.89L330.15 423.19L330.30 424.24L330.45 422.00L330.60 424.72L330.75 423.02L330.90 423.77L331.05 423.36L331.20 422.22L331.35 423.15L331.50 425.88L331.65 424.63L331.80 424.00L331.95 425.45L332.10 422.94L332.25 423.50L332.40 424.14L332.55 425.92L332.70 425.06L332.85 426.46L333.00 426.46L333.15 425.15L333.30 425.57L333.45 425.94L333.60 425.42L333.75 423.60L333.90 425.69L334.05 425.63L334.20 425.88L334.35 424.81L334.50 427.74L334.65 425.56L334.80 426.76L334.95 427.71L335.10 425.56L335.25 424.71L335.40 426.87L335.55 425.30L335.70 427.20L335.85 426.30L336.00 425.82L336.15 428.06L336.30 427.23L336.45 426.30L336.60 425.03L336.75 427.97L336.90 427.62L337.05 426.44L337.20 427.15L337.35 426.15L337.50 427.93L337.65 427.86L337.80 427.33L337.95 428.84L338.10 429.84L338.25 426.76L338.40 427.80L338.55 429.16L338.70 425.92L338.85 426.41L339.00 430.25L339.15 427.31L339.30 427.84L339.45 427.98L339.60 427.31L339.75 428.34L339.90 428.17L340.05 428.85L340.20 428.04L340.35 428.38L340.50 430.06L340.65 427.91L340.80 428.17L340.95 429.26L341.10 429.79L341.25 428.41L341.40 428.41L341.55 429.86L341.70 429.67L341.85 428.08L342.00 429.34L342.15 430.68L342.30 429.31L342.45 430.96L342.60 428.27L342.75 429.78L342.90 429.86L343.05 430.47L343.20 429.12L343.35 428.07L343.50 427.68L343.65 430.96L343.80 430.06L343.95 429.97L344.10 429.18L344.25 429.99L344.40 429.45L344.55 431.06L344.70 429.21L344.85 431.42L345.00 431.13L345.15 430.22L345.30 431.09L345.45 431.04L345.60 430.38L345.75 429.82L345.90 430.38L346.05 429.80L346.20 430.43L346.35 429.69L346.50 431.78L346.65 431.49L346.80 432.17L346.95 430.39L347.10 430.71L347.25 432.55L347.40 432.05L347.55 429.58L347.70 430.17L347.85 431.79L348.00 431.05L348.15 432.38L348.30 431.43L348.45 430.80L348.60 431.68L348.75 430.50L348.90 430.97L349.05 431.70L349.20 432.61L349.35 431.06L349.50 431.32L349.65 431.65L349.80 431.92L349.95 434.02L350.10 431.44L350.25 432.85L350.40 432.92L350.55 432.77L350.70 432.57L350.85 433.16L351.00 432.69L351.15 430.82L351.30 431.50L351.45 432.27L351.60 432.82L351.75 433.22L351.90 432.57L352.05 432.38L352.20 432.42L352.35 432.73L352.50 433.43L352.65 434.36L352.80 434.35L352.95 433.02L353.10 432.62L353.25 432.75L353.40 435.00L353.55 432.02L353.70 434.55L353.85 433.71L354.00 433.76L354.15 434.61L354.30 434.77L354.45 435.61L354.60 434.36L354.75 435.60L354.90 433.14L355.05 433.30L355.20 434.17L355.35 435.34L355.50 434.19L355.65 435.12L355.80 434.64L355.95 436.38L356.10 435.41L356.25 435.26L356.40 434.59L356.55 434.09L356.70 436.72L356.85 437.24L357.00 434.55L357.15 434.14L357.30 435.28L357.45 437.61L357.60 434.56L357.75 436.39L357.90 437.53L358.05 436.91L358.20 435.31L358.35 435.90L358.50 436.94L358.65 435.97L358.80 434.35L358.95 435.78L359.10 436.25L359.25 436.67L359.40 436.71L359.55 435.96L359.70 437.15L359.85 435.48L360.00 436.82L360.15 436.00L360.30 437.49L360.45 437.37L360.60 436.62L360.75 436.83L360.90 434.85L361.05 437.77L361.20 437.14L361.35 436.54L361.50 436.47L361.65 435.75L361.80 437.51L361.95 437.01L362.10 437.68L362.25 438.09L362.40 437.21L362.55 436.41L362.70 436.95L362.85 436.25L363.00 436.75L363.15 438.31L363.30 437.89L363.45 438.26L363.60 436.33L363.75 438.52L363.90 436.70L364.05 438.75L364.20 439.02L364.35 437.37L364.50 438.08L364.65 437.77L364.80 438.57L364.95 436.77L365.10 437.78L365.25 437.77L365.40 437.67L365.55 436.94L365.70 437.72L365.85 438.14L366.00 437.31L366.15 435.85L366.30 436.37L366.45 437.27L366.60 436.34L366.75 436.15L366.90 435.53L367.05 436.09L367.20 436.63L367.35 436.44L367.50 436.18L367.65 436.47L367.80 437.66L367.95 435.37L368.10 435.27L368.25 434.70L368.40 434.27L368.55 434.73L368.70 435.08L368.85 436.36L369.00 434.63L369.15 433.66L369.30 437.05L369.45 435.74L369.60 433.91L369.75 432.68L369.90 435.40L370.05 434.95L370.20 436.06L370.35 437.12L370.50 436.34L370.65 436.12L370.80 434.89L370.95 436.69L371.10 435.40L371.25 437.86L371.40 436.11L371.55 438.05L371.70 437.16L371.85 434.94L372.00 435.76L372.15 435.08L372.30 436.44L372.45 437.92L372.60 436.39L372.75 436.19L372.90 435.87L373.05 436.48L373.20 438.68L373.35 436.36L373.50 436.96L373.65 434.72L373.80 437.76L373.95 439.07L374.10 437.39L374.25 437.07L374.40 438.23L374.55 436.25L374.70 436.76L374.85 436.17L375.00 437.22L375.15 437.63L375.30 438.00L375.45 437.95L375.60 437.53L375.75 438.15L375.90 437.22L376.05 437.39L376.20 439.22L376.35 436.06L376.50 437.08L376.65 437.26L376.80 439.22L376.95 439.13L377.10 438.44L377.25 436.97L377.40 438.95L377.55 439.20L377.70 436.91L377.85 439.17L378.00 438.66L378.15 438.30L378.30 437.76L378.45 438.61L378.60 440.63L378.75 439.36L378.90 437.76L379.05 436.97L379.20 438.70L379.35 437.70L379.50 438.94L379.65 438.52L379.80 439.44L379.95 439.72L380.10 438.00L380.25 438.66L380.40 437.65L380.55 439.68L380.70 440.25L380.85 439.90L381.00 439.30L381.15 437.72L381.30 438.24L381.45 439.92L381.60 437.77L381.75 440.40L381.90 440.04L382.05 438.70L382.20 439.15L382.35 440.37L382.50 439.16L382.65 440.47L382.80 438.34L382.95 438.84L383.10 439.19L383.25 437.46L383.40 439.92L383.55 439.75L383.70 440.21L383.85 439.50L384.00 440.72L384.15 439.51L384.30 440.53L384.45 439.49L384.60 439.60L384.75 439.67L384.90 439.39L385.05 441.13L385.20 441.32L385.35 441.56L385.50 438.95L385.65 439.70L385.80 438.90L385.95 438.17L386.10 439.45L386.25 440.19L386.40 440.64L386.55 440.69L386.70 439.81L386.85 439.22L387.00 440.05L387.15 438.72L387.30 440.07L387.45 438.87L387.60 439.93L387.75 441.26L387.90 437.72L388.05 439.31L388.20 439.01L388.35 441.00L388.50 439.12L388.65 439.16L388.80 438.51L388.95 439.38L389.10 441.62L389.25 438.88L389.40 440.13L389.55 440.50L389.70 441.05L389.85 439.48L390.00 438.96L390.15 439.44L390.30 440.14L390.45 439.58L390.60 439.75L390.75 440.29L390.90 439.62L391.05 438.52L391.20 438.41L391.35 438.61L391.50 440.09L391.65 438.19L391.80 438.74L391.95 439.17L392.10 437.98L392.25 439.44L392.40 438.30L392.55 438.00L392.70 439.12L392.85 442.47L393.00 438.67L393.15 440.08L393.30 439.91L393.45 437.81L393.60 440.13L393.75 440.10L393.90 438.13L394.05 440.92L394.20 440.93L394.35 438.74L394.50 439.36L394.65 438.04L394.80 440.29L394.95 440.43L395.10 438.82L395.25 439.28L395.40 439.13L395.55 438.79L395.70 440.90L395.85 439.72L396.00 439.94L396.15 439.52L396.20 439.90L396.30 438.51L396.45 435.70L396.60 433.10L396.75 434.61L396.90 438.23L397.00 440.62L397.05 439.79L397.20 438.71L397.35 439.05L397.50 442.17L397.65 440.73L397.80 440.55L397.95 440.39L398.10 441.43L398.25 442.64L398.40 439.01L398.55 441.47L398.70 442.90L398.85 439.70L399.00 440.84L399.15 442.42L399.30 442.83L399.45 439.08L399.60 440.23L399.75 440.24L399.90 439.96L400.05 441.32L400.20 439.21L400.35 439.72L400.50 439.99L400.65 440.73L400.80 438.57L400.95 440.60L401.10 441.06L401.25 439.79L401.40 439.68L401.55 441.37L401.70 440.36L401.85 439.12L402.00 438.93L402.15 442.28L402.30 440.63L402.45 440.18L402.60 437.71L402.75 438.04L402.90 437.32L403.05 437.76L403.20 438.34L403.35 438.11L403.50 437.57L403.65 436.57L403.80 438.95L403.95 437.70L404.10 439.41L404.25 437.99L404.40 438.00L404.55 437.03L404.70 437.42L404.85 440.08L405.00 440.06L405.15 439.96L405.30 441.30L405.45 438.29L405.60 440.32L405.75 440.48L405.90 440.38L406.05 440.97L406.20 439.31L406.35 441.49L406.50 440.28L406.65 440.63L406.80 439.73L406.95 440.74L407.10 440.51L407.25 441.72L407.40 439.27L407.55 440.45L407.70 440.08L407.85 440.74L408.00 441.05L408.15 439.91L408.30 440.75L408.45 440.33L408.60 441.91L408.75 438.30L408.90 441.04L409.05 440.85L409.20 439.52L409.35 440.77L409.50 439.23L409.65 440.68L409.80 439.25L409.95 441.26L410.10 439.09L410.25 439.68L410.40 440.08L410.55 439.20L410.70 439.66L410.85 439.19L411.00 438.08L411.15 439.19L411.30 437.74L411.45 442.08L411.60 442.64L411.75 439.90L411.90 439.91L412.05 438.92L412.20 439.99L412.35 437.94L412.50 437.34L412.65 440.04L412.80 439.58L412.95 438.44L413.10 439.39L413.25 437.20L413.40 438.10L413.55 436.94L413.70 438.60L413.85 438.85L414.00 437.56L414.15 438.33L414.30 437.58L414.45 439.08L414.60 439.96L414.75 437.41L414.90 437.20L415.05 437.57L415.20 436.54L415.35 439.15L415.50 437.84L415.65 438.59L415.80 437.94L415.95 437.96L416.10 437.33L416.25 438.05L416.40 437.73L416.55 436.70L416.70 437.47L416.85 438.39L417.00 437.47L417.15 438.13L417.30 436.51L417.45 436.97L417.60 437.09L417.75 436.62L417.90 437.02L418.05 434.85L418.20 437.83L418.35 438.39L418.50 436.99L418.65 436.84L418.80 439.11L418.95 438.51L419.10 437.91L419.25 436.57L419.40 438.14L419.55 437.55L419.70 436.81L419.85 436.47L420.00 435.28L420.15 436.94L420.30 438.31L420.45 437.11L420.60 435.94L420.75 436.55L420.90 437.60L421.05 437.26L421.20 436.83L421.35 436.32L421.50 435.37L421.65 437.60L421.80 436.44L421.95 438.09L422.10 438.44L422.25 437.13L422.40 437.15L422.55 437.26L422.70 436.34L422.85 438.78L423.00 436.84L423.15 438.04L423.30 438.36L423.45 437.49L423.60 435.78L423.75 437.46L423.90 437.37L424.05 438.63L424.20 436.14L424.35 437.09L424.50 437.82L424.65 437.76L424.80 437.74L424.95 437.55L425.10 437.93L425.25 436.81L425.40 437.47L425.55 437.62L425.70 435.29L425.85 438.56L426.00 437.74L426.15 436.16L426.30 436.86L426.45 436.52L426.60 438.20L426.75 437.66L426.90 435.73L427.05 436.64L427.20 437.26L427.35 436.26L427.50 437.54L427.65 437.09L427.80 437.94L427.95 436.87L428.10 436.44L428.25 437.19L428.40 437.39L428.55 437.66L428.70 435.59L428.85 436.89L429.00 438.61L429.15 435.85L429.30 439.90L429.45 439.79L429.60 438.28L429.75 438.34L429.90 438.44L430.05 436.55L430.20 439.01L430.35 438.71L430.50 438.68L430.65 436.64L430.80 438.77L430.95 436.95L431.10 438.53L431.25 438.84L431.40 439.40L431.55 438.39L431.70 437.90L431.85 439.81L432.00 438.96L432.15 439.25L432.30 438.22L432.45 439.47L432.60 438.87L432.75 441.17L432.90 437.72L433.05 438.46L433.20 438.52L433.35 439.14L433.50 438.55L433.65 437.04L433.80 440.95L433.95 439.44L434.10 439.18L434.25 437.75L434.40 439.12L434.55 439.70L434.70 438.82L434.85 437.84L435.00 438.78L435.15 439.64L435.30 439.18L435.45 436.77L435.60 437.70L435.75 436.25L435.90 437.72L436.05 438.35L436.20 438.53L436.35 437.59L436.50 436.88L436.65 439.24L436.80 437.38L436.95 437.83L437.10 437.47L437.25 437.69L437.40 436.68L437.55 437.69L437.70 437.54L437.85 436.57L438.00 437.39L438.15 437.63L438.30 438.72L438.45 436.58L438.60 437.25L438.75 436.58L438.90 437.93L439.05 435.57L439.20 435.18L439.35 437.08L439.50 435.03L439.65 435.74L439.80 434.93L439.95 435.86L440.10 436.28L440.25 434.87L440.40 435.58L440.55 435.17L440.70 435.97L440.85 435.72L441.00 434.69L441.15 434.35L441.30 434.02L441.45 431.79L441.60 432.11L441.75 431.61L441.90 430.55L442.05 431.75L442.20 431.55L442.35 432.13L442.50 430.77L442.65 431.41L442.80 430.75L442.95 433.06L443.10 429.59L443.25 431.69L443.40 431.77L443.55 432.29L443.70 431.13L443.85 428.87L444.00 429.43L444.15 431.29L444.30 431.46L444.45 430.23L444.60 431.44L444.75 432.60L444.90 432.87L445.05 431.89L445.20 431.86L445.35 431.65L445.50 432.44L445.65 430.08L445.80 430.46L445.95 429.15L446.10 431.40L446.25 432.96L446.40 429.28L446.55 432.88L446.70 431.26L446.85 432.34L447.00 432.68L447.15 433.50L447.30 431.13L447.45 433.45L447.60 430.92L447.75 433.15L447.90 431.47L448.05 433.25L448.20 430.51L448.35 432.07L448.50 429.78L448.65 432.19L448.80 432.79L448.95 432.33L449.10 431.52L449.25 431.38L449.30 433.04L449.40 427.26L449.55 417.17L449.60 414.50L449.70 420.62L449.85 428.03L449.90 433.47L450.00 433.56L450.15 434.39L450.30 433.84L450.45 433.54L450.60 432.46L450.75 432.98L450.90 432.15L451.05 432.66L451.20 433.53L451.35 433.96L451.50 434.46L451.65 433.04L451.80 436.40L451.95 434.41L452.10 434.90L452.25 434.28L452.40 434.53L452.55 434.76L452.70 435.22L452.85 433.83L453.00 436.19L453.15 434.94L453.30 434.26L453.45 434.58L453.60 436.72L453.75 434.26L453.90 435.13L454.05 436.49L454.20 435.26L454.35 434.16L454.50 434.58L454.65 435.74L454.80 436.03L454.95 435.32L455.10 436.37L455.25 435.40L455.40 433.85L455.55 437.63L455.70 435.42L455.85 437.27L456.00 434.92L456.15 436.89L456.30 436.22L456.45 435.90L456.60 436.44L456.75 437.30L456.90 434.86L457.05 438.25L457.20 436.31L457.35 437.41L457.50 436.02L457.65 435.70L457.80 436.55L457.95 437.23L458.10 438.09L458.25 436.89L458.40 437.04L458.55 436.65L458.70 438.82L458.85 437.35L459.00 437.12L459.15 437.24L459.30 439.20L459.45 435.85L459.60 435.77L459.75 437.54L459.90 436.41L460.05 436.69L460.20 438.82L460.35 440.63L460.50 436.56L460.65 435.80L460.80 438.47L460.95 437.89L461.10 438.61L461.25 439.25L461.40 437.88L461.55 437.50L461.70 440.42L461.85 438.41L462.00 440.08L462.15 436.53L462.30 436.81L462.45 440.25L462.60 437.62L462.75 438.33L462.90 436.08L463.05 438.99L463.20 438.68L463.35 439.30L463.50 436.36L463.65 438.77L463.80 439.03L463.95 438.19L464.10 437.93L464.25 438.21L464.40 438.90L464.55 436.32L464.70 437.59L464.85 437.87L465.00 436.75L465.15 438.45L465.30 437.25L465.45 437.64L465.60 436.97L465.75 438.16L465.90 439.78L466.05 440.17L466.20 437.71L466.35 437.79L466.50 437.65L466.65 438.83L466.80 437.73L466.95 437.95L467.10 437.47L467.25 437.69L467.40 438.39L467.55 436.57L467.70 438.10L467.85 437.18L468.00 437.99L468.15 436.67L468.30 438.33L468.45 439.41L468.60 438.44L468.75 438.85L468.90 438.18L469.05 438.70L469.20 439.31L469.35 438.40L469.50 438.20L469.65 439.64L469.80 437.43L469.95 439.00L470.10 438.89L470.25 438.50L470.40 437.79L470.55 437.74L470.70 437.74L470.85 438.21L471.00 440.08L471.15 437.41L471.30 439.68L471.45 437.64L471.60 439.08L471.75 438.32L471.90 436.63L472.05 438.88L472.20 437.43L472.35 438.82L472.50 437.97L472.65 437.71L472.80 436.36L472.95 436.57L473.10 437.18L473.25 438.34L473.40 436.53L473.55 436.50L473.70 435.40L473.85 436.18L474.00 435.08L474.15 436.37L474.30 437.21L474.45 436.14L474.60 436.20L474.75 436.92L474.90 435.73L475.05 436.69L475.20 436.18L475.35 435.31L475.50 436.21L475.65 435.64L475.80 431.97L475.95 432.92L476.10 434.30L476.25 432.19L476.40 432.70L476.55 432.51L476.70 431.40L476.85 431.27L477.00 430.00L477.15 431.79L477.30 430.12L477.45 430.32L477.60 430.28L477.75 430.84L477.90 429.97L478.05 430.28L478.20 431.00L478.35 429.39L478.50 429.88L478.65 432.07L478.80 431.59L478.95 429.95L479.10 427.36L479.25 430.93L479.40 430.33L479.55 430.84L479.70 429.97L479.85 430.70L480.00 430.91L480.15 431.41L480.30 433.12L480.45 431.04L480.60 431.80L480.75 432.84L480.90 433.09L481.05 432.70L481.20 431.72L481.35 432.23L481.50 433.56L481.65 433.22L481.80 432.56L481.95 432.51L482.10 433.32L482.25 431.69L482.40 432.41L482.55 432.76L482.70 434.16L482.85 432.87L483.00 432.09L483.15 433.09L483.30 431.59L483.45 433.52L483.60 433.24L483.75 432.18L483.90 432.38L484.05 434.20L484.20 432.42L484.35 431.98L484.50 432.11L484.65 434.32L484.80 434.35L484.95 433.61L485.10 433.71L485.25 433.58L485.40 433.24L485.55 434.76L485.70 433.74L485.85 433.38L486.00 434.01L486.15 432.61L486.30 433.89L486.45 433.41L486.60 431.97L486.75 434.41L486.90 432.37L487.05 433.71L487.20 435.73L487.35 433.59L487.50 433.92L487.65 435.49L487.80 434.72L487.95 432.86L488.10 434.27L488.25 434.25L488.40 435.15L488.55 435.81L488.70 436.04L488.85 434.11L489.00 433.52L489.15 433.93L489.30 437.78L489.45 436.89L489.60 436.53L489.75 434.72L489.90 436.69L490.05 435.76L490.20 436.73L490.35 438.51L490.50 437.76L490.65 438.12L490.80 437.89L490.95 437.21L491.10 437.99L491.25 436.68L491.40 436.03L491.55 437.38L491.70 438.64L491.85 437.23L492.00 438.08L492.15 437.33L492.30 436.17L492.45 436.07L492.60 436.26L492.75 437.33L492.90 439.41L493.05 437.24L493.20 438.49L493.35 437.77L493.50 437.92L493.65 436.87L493.80 438.80L493.95 439.15L494.10 436.96L494.25 437.59L494.40 439.11L494.55 436.49L494.70 438.70L494.85 438.09L495.00 437.36L495.15 439.37L495.30 439.23L495.45 438.24L495.60 437.93L495.75 439.06L495.90 439.83L496.05 437.94L496.20 438.81L496.35 437.96L496.50 440.60L496.65 440.37L496.80 437.21L496.95 439.06L497.10 441.06L497.25 439.81L497.40 440.08L497.55 440.02L497.70 438.69L497.85 440.74L498.00 441.93L498.15 439.27L498.30 439.96L498.45 440.91L498.60 442.47L498.75 439.42L498.90 441.09L499.05 439.85L499.20 439.58L499.35 440.49L499.50 440.26L499.65 439.77L499.80 439.90L499.95 441.43L500.10 439.90L500.25 440.59L500.40 439.42L500.55 440.24L500.70 440.56L500.85 441.00L501.00 440.47L501.15 441.54L501.30 439.82L501.45 441.51L501.60 441.81L501.75 441.29L501.90 442.22L502.05 440.73L502.20 440.63L502.35 440.19L502.50 440.22L502.65 439.40L502.80 440.00L502.95 439.79L503.10 439.52L503.25 439.00L503.40 440.70L503.55 442.30L503.70 441.04L503.85 439.91L504.00 440.87L504.15 439.20L504.30 439.66L504.45 441.99L504.60 439.90L504.75 440.76L504.90 440.76L505.05 440.80L505.20 441.22L505.35 441.37L505.50 437.44L505.65 439.89L505.80 440.77L505.95 440.22L506.10 442.55L506.25 440.78L506.40 441.15L506.55 441.24L506.70 441.16L506.85 439.90L507.00 440.18L507.15 441.02L507.30 441.10L507.45 440.58L507.60 441.88L507.75 440.69L507.90 442.25L508.05 441.27L508.20 440.52L508.35 440.19L508.50 440.64L508.65 440.18L508.80 439.78L508.95 444.14L509.10 441.31L509.25 441.76L509.40 440.88L509.55 440.30L509.70 442.34L509.85 441.42L510.00 441.45L510.15 442.30L510.30 442.80L510.45 441.98L510.60 441.49L510.75 441.76L510.90 442.14L511.05 443.58L511.20 442.26L511.35 441.07L511.50 441.91L511.65 442.20L511.80 441.64L511.95 442.08" fill="none" stroke="#ee1111" stroke-width="0.7" stroke-linejoin="round" opacity="1"/><path d="M195.00 486.85L195.15 489.95L195.30 488.83L195.45 487.96L195.60 489.48L195.75 487.61L195.90 490.89L196.05 489.29L196.20 488.68L196.35 489.57L196.50 487.67L196.65 489.42L196.80 489.91L196.95 489.95L197.10 489.54L197.25 488.03L197.40 489.43L197.55 487.82L197.70 489.41L197.85 488.65L198.00 488.54L198.15 490.08L198.30 491.32L198.45 490.87L198.60 489.07L198.75 489.05L198.90 488.55L199.05 488.94L199.20 489.66L199.35 489.99L199.50 489.13L199.65 489.58L199.80 488.44L199.95 489.06L200.10 490.85L200.25 490.87L200.40 490.03L200.55 489.58L200.70 489.67L200.85 488.74L201.00 488.22L201.15 489.79L201.30 488.15L201.45 489.52L201.60 487.91L201.75 488.88L201.90 490.45L202.05 489.33L202.20 488.53L202.35 488.77L202.50 486.89L202.65 489.18L202.80 487.37L202.95 487.19L203.10 487.15L203.25 487.76L203.40 486.86L203.55 486.76L203.70 487.66L203.85 487.23L204.00 488.07L204.15 487.49L204.30 487.70L204.45 485.28L204.60 486.28L204.75 486.53L204.90 486.70L205.05 485.36L205.20 486.04L205.35 486.25L205.50 484.02L205.65 483.78L205.80 483.48L205.95 484.14L206.10 482.48L206.25 483.18L206.40 482.32L206.55 481.42L206.70 480.26L206.85 483.77L207.00 482.41L207.15 481.83L207.30 478.96L207.45 480.96L207.60 479.46L207.75 478.23L207.90 478.51L208.05 478.20L208.20 479.80L208.35 477.98L208.50 477.39L208.65 477.49L208.80 477.14L208.95 475.15L209.10 477.15L209.25 475.99L209.40 476.54L209.55 477.03L209.70 475.02L209.85 477.54L210.00 475.13L210.15 475.41L210.30 473.91L210.45 477.76L210.60 476.73L210.75 476.89L210.90 477.45L211.05 479.08L211.20 480.12L211.35 480.26L211.50 479.77L211.65 479.80L211.80 479.07L211.95 480.70L212.10 482.21L212.25 481.84L212.40 484.50L212.55 484.00L212.70 483.17L212.85 484.29L213.00 484.32L213.15 483.68L213.30 484.39L213.45 483.54L213.60 484.97L213.75 486.55L213.90 485.38L214.05 487.73L214.20 486.16L214.35 487.31L214.50 487.28L214.65 486.43L214.80 486.19L214.95 487.89L215.10 488.41L215.25 487.81L215.40 487.85L215.55 485.42L215.70 487.63L215.85 489.22L216.00 489.43L216.15 488.85L216.30 487.82L216.45 489.46L216.60 488.40L216.75 489.49L216.90 490.16L217.05 487.95L217.20 488.61L217.35 489.17L217.50 489.33L217.65 489.10L217.80 489.86L217.95 489.95L218.10 488.57L218.25 489.03L218.40 490.15L218.55 488.18L218.70 488.69L218.85 487.27L219.00 488.46L219.15 491.18L219.30 491.38L219.45 489.05L219.60 491.17L219.75 489.96L219.90 489.92L220.05 489.47L220.20 490.72L220.35 488.29L220.50 491.10L220.65 489.99L220.80 489.83L220.95 488.20L221.10 492.17L221.25 490.76L221.40 490.27L221.55 490.14L221.70 491.04L221.85 489.70L222.00 490.51L222.15 491.00L222.30 489.66L222.45 489.71L222.60 491.51L222.75 489.60L222.90 489.69L223.05 491.02L223.20 492.54L223.35 492.36L223.50 489.77L223.65 492.69L223.80 489.51L223.95 490.40L224.10 491.25L224.25 491.79L224.40 491.67L224.55 491.47L224.70 489.28L224.85 489.54L225.00 491.11L225.15 491.64L225.30 491.21L225.45 490.65L225.60 491.56L225.75 492.26L225.90 488.61L226.05 492.66L226.20 493.17L226.35 492.22L226.50 491.00L226.65 491.67L226.80 491.75L226.95 493.72L227.10 492.12L227.25 492.61L227.40 492.81L227.55 492.03L227.70 491.31L227.85 490.32L228.00 491.26L228.15 492.60L228.30 492.51L228.45 489.69L228.60 490.86L228.75 490.96L228.90 491.32L229.05 489.82L229.20 489.49L229.35 489.45L229.50 489.52L229.65 488.80L229.80 487.75L229.95 488.03L230.10 488.23L230.25 487.49L230.40 487.89L230.55 487.86L230.70 486.63L230.85 489.88L231.00 488.16L231.15 489.10L231.30 490.26L231.45 488.84L231.60 487.85L231.75 488.71L231.90 488.10L232.05 488.63L232.20 489.78L232.35 488.47L232.50 489.83L232.65 489.59L232.80 490.93L232.95 490.01L233.10 490.42L233.25 490.26L233.40 489.31L233.55 489.49L233.70 488.93L233.85 488.79L234.00 491.91L234.15 489.00L234.30 491.13L234.45 489.87L234.60 489.07L234.75 490.21L234.90 491.03L235.05 491.16L235.20 491.39L235.35 490.31L235.50 490.82L235.65 489.83L235.80 489.77L235.95 491.23L236.10 491.48L236.25 490.46L236.40 490.72L236.55 490.19L236.70 490.83L236.85 489.75L237.00 491.03L237.15 490.89L237.30 490.78L237.45 492.93L237.60 490.26L237.75 491.27L237.90 491.68L238.05 490.27L238.20 491.87L238.35 490.18L238.50 491.40L238.65 491.16L238.80 492.41L238.95 489.45L239.10 492.49L239.25 493.66L239.40 491.62L239.55 490.00L239.70 491.16L239.85 489.84L240.00 491.77L240.15 491.17L240.30 489.92L240.45 492.70L240.60 490.78L240.75 492.45L240.90 490.68L241.00 490.65L241.05 488.89L241.20 487.51L241.35 484.21L241.40 483.40L241.50 484.43L241.65 489.91L241.80 490.97L241.95 493.12L242.10 491.58L242.25 489.65L242.40 490.04L242.55 491.80L242.70 493.29L242.85 491.54L243.00 490.86L243.15 491.05L243.30 492.90L243.45 493.36L243.60 491.77L243.75 491.10L243.90 490.91L244.05 492.77L244.20 491.05L244.35 492.09L244.50 491.93L244.65 493.84L244.80 490.42L244.95 491.18L245.10 491.73L245.25 493.46L245.40 491.87L245.55 493.32L245.70 491.66L245.85 490.51L246.00 491.54L246.15 493.59L246.30 491.88L246.45 491.32L246.60 492.17L246.75 491.60L246.90 492.68L247.05 492.61L247.20 493.26L247.35 492.85L247.50 494.64L247.65 490.73L247.80 493.34L247.95 489.07L248.10 492.65L248.25 491.25L248.40 491.37L248.55 491.06L248.70 491.93L248.85 491.07L249.00 491.98L249.15 490.97L249.30 491.90L249.45 493.08L249.60 491.01L249.75 490.79L249.90 489.50L250.05 490.30L250.20 489.69L250.35 488.78L250.50 488.63L250.65 491.16L250.80 487.12L250.95 487.22L251.10 487.16L251.25 487.82L251.40 487.22L251.55 487.62L251.70 487.20L251.85 486.59L252.00 485.13L252.15 485.18L252.30 486.40L252.45 486.19L252.60 484.45L252.75 485.02L252.90 483.50L253.05 483.08L253.20 482.41L253.35 484.38L253.50 485.21L253.65 483.27L253.80 483.40L253.95 483.36L254.10 482.34L254.25 480.24L254.40 483.05L254.55 482.24L254.70 483.03L254.85 481.40L255.00 480.89L255.15 483.08L255.30 482.59L255.45 481.24L255.60 479.09L255.75 479.33L255.90 478.98L256.05 479.68L256.20 479.06L256.35 478.65L256.50 479.19L256.65 476.60L256.80 475.85L256.95 477.15L257.10 477.15L257.25 476.32L257.40 477.64L257.55 474.93L257.70 474.50L257.85 474.18L258.00 473.06L258.15 474.32L258.30 473.31L258.45 473.89L258.60 470.07L258.75 470.15L258.90 472.04L259.05 471.05L259.20 470.26L259.35 470.72L259.50 471.38L259.65 470.26L259.80 472.57L259.95 472.55L260.10 472.46L260.25 472.92L260.40 474.79L260.55 474.09L260.70 474.14L260.85 474.02L261.00 475.31L261.15 476.53L261.30 476.11L261.45 476.99L261.60 479.12L261.75 477.65L261.90 479.40L262.05 479.28L262.20 476.45L262.35 479.68L262.50 479.17L262.65 478.16L262.80 479.10L262.95 478.89L263.10 479.36L263.25 479.20L263.40 480.55L263.55 480.14L263.70 480.85L263.85 481.04L264.00 479.16L264.15 480.37L264.30 480.64L264.45 478.90L264.60 481.46L264.75 480.59L264.90 480.34L265.05 480.81L265.20 479.63L265.35 480.93L265.50 481.60L265.65 482.03L265.80 481.02L265.95 480.96L266.10 480.56L266.25 478.67L266.40 480.56L266.55 480.65L266.70 481.76L266.85 481.12L267.00 481.11L267.15 482.44L267.30 481.61L267.45 481.89L267.60 480.28L267.75 481.05L267.90 480.59L268.05 482.35L268.20 481.40L268.35 481.11L268.50 481.49L268.65 481.33L268.80 483.06L268.95 483.30L269.10 482.62L269.25 482.06L269.40 483.69L269.55 482.94L269.70 483.12L269.85 481.44L270.00 482.22L270.15 482.58L270.30 480.88L270.45 481.34L270.60 483.06L270.75 480.99L270.90 483.21L271.05 482.83L271.20 482.64L271.35 482.32L271.50 482.53L271.65 484.17L271.80 481.40L271.95 482.88L272.10 483.46L272.25 483.16L272.40 482.70L272.55 482.53L272.70 483.02L272.85 484.07L273.00 483.07L273.15 482.79L273.30 482.49L273.45 484.30L273.60 482.16L273.75 483.67L273.90 483.32L274.05 483.05L274.20 484.14L274.35 484.67L274.50 483.60L274.65 484.56L274.80 483.59L274.95 483.41L275.10 482.63L275.25 482.78L275.40 485.15L275.55 483.55L275.70 481.71L275.85 483.87L276.00 483.65L276.15 482.44L276.30 483.94L276.45 483.16L276.60 480.96L276.75 482.62L276.90 482.69L277.05 483.73L277.20 482.91L277.35 482.99L277.50 482.43L277.65 482.63L277.80 482.37L277.95 483.37L278.10 482.39L278.25 482.93L278.40 482.44L278.55 484.52L278.70 481.60L278.85 482.20L279.00 480.38L279.15 481.11L279.30 482.39L279.45 480.72L279.60 481.38L279.75 481.03L279.90 480.96L280.05 480.43L280.20 481.24L280.35 481.70L280.50 481.71L280.65 480.39L280.80 481.49L280.95 479.57L281.10 482.60L281.25 480.95L281.40 482.02L281.55 479.46L281.70 482.71L281.85 482.62L282.00 480.91L282.15 482.17L282.30 481.02L282.45 481.65L282.60 480.74L282.75 481.04L282.90 479.47L283.05 478.68L283.20 480.27L283.35 480.50L283.50 483.22L283.65 480.23L283.80 482.53L283.95 480.28L284.10 479.55L284.25 480.15L284.40 480.84L284.55 479.52L284.70 482.18L284.85 480.04L285.00 480.36L285.15 479.48L285.30 479.80L285.45 481.88L285.60 478.99L285.75 480.66L285.90 479.84L286.05 479.05L286.20 480.03L286.35 478.30L286.50 480.78L286.65 480.38L286.80 479.69L286.95 480.07L287.10 478.77L287.25 479.46L287.40 479.68L287.55 478.18L287.70 479.32L287.85 479.19L288.00 478.75L288.15 478.88L288.30 480.23L288.45 478.77L288.60 480.85L288.75 478.61L288.90 478.83L289.05 478.10L289.20 478.42L289.35 478.38L289.50 477.43L289.65 478.79L289.80 477.93L289.95 477.68L290.10 476.67L290.25 476.75L290.40 479.22L290.55 478.96L290.70 475.62L290.85 477.08L291.00 477.13L291.15 477.72L291.30 476.81L291.45 477.09L291.60 476.37L291.75 476.43L291.90 477.52L292.05 475.48L292.20 475.50L292.35 476.77L292.50 476.46L292.65 477.38L292.80 475.23L292.95 474.89L293.10 477.54L293.25 475.81L293.40 477.80L293.55 477.29L293.70 475.32L293.85 475.14L294.00 476.29L294.15 475.14L294.30 476.25L294.45 476.24L294.60 476.60L294.75 474.52L294.90 475.31L295.05 474.98L295.20 475.70L295.35 475.91L295.50 474.79L295.65 474.53L295.80 473.21L295.95 474.85L296.10 475.72L296.25 471.11L296.40 474.53L296.55 472.43L296.70 471.53L296.85 472.25L297.00 472.25L297.15 473.15L297.30 473.18L297.45 471.18L297.60 472.04L297.75 471.75L297.90 470.48L298.05 469.34L298.20 469.99L298.35 469.98L298.50 468.71L298.65 468.35L298.80 469.09L298.95 468.50L299.10 468.26L299.25 466.95L299.40 464.80L299.55 465.23L299.70 466.57L299.85 463.85L300.00 464.31L300.15 463.57L300.30 461.66L300.45 462.91L300.60 462.12L300.75 460.25L300.90 459.23L301.05 458.50L301.20 457.69L301.35 457.04L301.50 456.79L301.65 455.58L301.80 453.14L301.95 454.01L302.10 452.82L302.25 450.87L302.40 449.78L302.55 448.64L302.70 446.78L302.85 446.40L303.00 443.75L303.15 443.91L303.30 442.31L303.45 438.73L303.60 436.87L303.75 437.74L303.90 436.33L304.05 432.94L304.20 428.55L304.35 423.77L304.50 424.07L304.65 419.37L304.80 414.19L304.95 409.43L305.10 407.18L305.25 401.61L305.40 397.25L305.55 397.21L305.70 393.43L305.85 391.22L306.00 388.10L306.15 385.22L306.30 382.25L306.45 378.42L306.60 377.57L306.75 373.23L306.90 372.46L307.05 371.13L307.20 370.00L307.35 369.49L307.50 369.26L307.65 370.54L307.80 369.98L307.95 374.64L308.10 376.15L308.25 377.95L308.40 379.98L308.55 380.97L308.70 383.16L308.85 381.49L309.00 385.98L309.15 383.45L309.30 385.71L309.45 386.77L309.60 390.17L309.75 390.81L309.90 391.69L310.05 392.20L310.20 393.00L310.35 394.18L310.50 396.19L310.65 398.58L310.80 401.77L310.95 403.89L311.10 407.31L311.25 409.67L311.40 414.23L311.55 417.39L311.70 421.27L311.85 422.16L312.00 424.47L312.15 427.33L312.30 425.07L312.45 426.94L312.60 427.85L312.75 427.34L312.90 430.60L313.05 430.98L313.20 430.16L313.35 430.75L313.50 432.38L313.65 432.60L313.80 431.35L313.95 432.20L314.10 434.36L314.25 432.20L314.40 434.47L314.55 436.38L314.70 433.45L314.85 436.06L315.00 435.17L315.15 437.28L315.30 437.16L315.45 438.78L315.60 438.93L315.75 441.31L315.90 440.12L316.05 443.37L316.20 445.22L316.35 444.04L316.50 446.89L316.65 447.96L316.80 449.22L316.95 448.15L317.10 450.13L317.25 450.47L317.40 451.24L317.55 451.57L317.70 450.13L317.85 451.70L318.00 454.18L318.15 453.83L318.30 453.64L318.45 453.61L318.60 454.35L318.75 456.38L318.90 454.66L319.05 455.63L319.20 456.44L319.35 457.41L319.50 457.43L319.65 459.02L319.80 456.36L319.95 458.50L320.10 460.29L320.25 459.33L320.40 460.45L320.55 460.32L320.70 460.91L320.85 461.57L321.00 461.89L321.15 460.31L321.30 461.36L321.45 462.16L321.60 461.51L321.75 461.93L321.90 463.72L322.05 463.67L322.20 465.32L322.35 463.02L322.50 463.99L322.65 464.13L322.80 464.93L322.95 464.95L323.10 464.60L323.25 464.82L323.40 465.46L323.55 466.81L323.70 465.15L323.85 467.55L324.00 466.28L324.15 466.04L324.30 467.59L324.45 467.04L324.60 467.13L324.75 467.39L324.90 465.93L325.05 466.60L325.20 466.75L325.35 467.74L325.50 467.61L325.65 467.24L325.80 468.73L325.95 467.32L326.10 469.73L326.25 468.42L326.40 470.37L326.55 469.70L326.70 469.52L326.85 468.05L327.00 469.60L327.15 471.46L327.30 468.08L327.45 469.09L327.60 471.69L327.75 471.65L327.90 469.53L328.05 470.00L328.20 471.76L328.35 470.85L328.50 470.66L328.65 471.41L328.80 471.76L328.95 472.26L329.10 471.17L329.25 472.71L329.40 472.69L329.55 471.89L329.70 472.48L329.85 472.17L330.00 471.16L330.15 470.70L330.30 471.15L330.45 472.47L330.60 472.06L330.75 473.37L330.90 470.22L331.05 472.36L331.20 472.21L331.35 472.78L331.50 473.40L331.65 473.59L331.80 471.83L331.95 473.72L332.10 474.09L332.25 472.11L332.40 474.33L332.55 474.12L332.70 475.40L332.85 474.27L332.95 473.53L333.00 471.26L333.15 463.58L333.30 455.20L333.45 461.84L333.60 471.85L333.65 474.82L333.75 474.86L333.90 473.75L334.05 475.17L334.20 474.31L334.35 474.74L334.50 475.45L334.65 473.20L334.80 475.15L334.95 474.96L335.10 475.87L335.25 476.13L335.40 476.36L335.55 475.15L335.70 473.80L335.85 476.45L336.00 473.89L336.15 476.17L336.30 475.63L336.45 474.95L336.60 475.08L336.75 475.76L336.90 476.17L337.05 473.85L337.20 474.16L337.35 475.08L337.50 475.73L337.65 475.31L337.80 474.94L337.95 473.60L338.10 474.92L338.25 474.17L338.40 474.64L338.55 474.76L338.70 473.90L338.85 474.30L339.00 473.96L339.15 472.60L339.30 473.73L339.45 476.37L339.60 475.61L339.75 474.09L339.90 473.01L340.05 473.66L340.20 472.75L340.35 475.39L340.50 475.11L340.65 473.89L340.80 471.98L340.95 472.97L341.10 473.96L341.25 473.60L341.40 471.80L341.55 472.49L341.70 470.69L341.85 472.46L342.00 470.10L342.15 469.70L342.30 470.04L342.45 469.64L342.60 473.54L342.75 472.59L342.90 473.05L343.05 471.93L343.20 472.85L343.35 473.13L343.50 472.37L343.65 474.66L343.80 473.82L343.95 474.32L344.10 473.49L344.25 474.07L344.40 474.61L344.55 474.99L344.70 474.77L344.85 473.03L345.00 474.32L345.15 475.61L345.30 475.08L345.45 476.31L345.60 474.49L345.75 473.89L345.90 476.51L346.05 475.54L346.20 475.46L346.35 476.58L346.50 475.85L346.65 476.40L346.80 476.33L346.95 476.95L347.10 475.89L347.25 478.57L347.40 474.18L347.55 479.25L347.70 478.14L347.85 476.39L348.00 478.65L348.15 477.10L348.30 478.51L348.45 477.62L348.60 477.92L348.75 480.30L348.90 477.86L349.05 477.61L349.20 478.71L349.35 480.13L349.50 479.03L349.65 479.55L349.80 479.06L349.95 478.12L350.10 477.47L350.25 480.10L350.40 481.32L350.55 480.84L350.70 481.52L350.85 481.41L351.00 480.78L351.15 480.70L351.30 482.17L351.45 480.31L351.60 480.05L351.75 481.56L351.90 481.81L352.05 481.82L352.20 481.49L352.35 481.76L352.50 482.79L352.65 483.17L352.80 481.02L352.95 482.48L353.10 482.31L353.25 481.98L353.40 485.19L353.55 483.51L353.70 486.29L353.85 483.88L354.00 482.31L354.15 484.24L354.30 483.35L354.45 483.73L354.60 483.48L354.75 483.20L354.90 484.60L355.05 486.48L355.20 484.23L355.35 485.40L355.50 484.62L355.65 486.60L355.80 485.44L355.95 486.34L356.10 485.81L356.25 485.74L356.40 486.77L356.55 485.62L356.70 487.18L356.85 485.14L357.00 486.78L357.15 485.96L357.30 484.59L357.45 486.67L357.60 486.24L357.75 487.41L357.90 487.90L358.05 486.35L358.20 487.10L358.35 486.61L358.50 487.58L358.65 486.51L358.80 488.28L358.95 486.81L359.10 487.26L359.25 488.07L359.40 488.28L359.55 487.24L359.70 487.35L359.85 487.03L360.00 487.06L360.15 488.37L360.30 488.18L360.45 488.60L360.60 488.17L360.75 489.01L360.90 488.61L361.05 490.53L361.20 489.38L361.35 488.06L361.50 488.62L361.65 488.55L361.80 489.57L361.95 489.13L362.10 488.77L362.25 490.06L362.40 488.11L362.55 488.96L362.70 490.93L362.85 489.75L363.00 488.42L363.15 490.43L363.30 488.70L363.45 488.92L363.60 489.31L363.75 488.43L363.90 489.00L364.05 489.39L364.20 487.23L364.35 489.90L364.50 489.68L364.65 489.41L364.80 488.07L364.95 490.04L365.10 488.87L365.25 490.34L365.40 489.00L365.55 491.90L365.70 488.19L365.85 491.09L366.00 489.36L366.15 491.85L366.30 487.52L366.45 487.46L366.60 489.77L366.75 489.64L366.90 489.88L367.05 489.52L367.20 489.26L367.35 491.92L367.50 490.63L367.65 490.57L367.80 489.78L367.95 490.61L368.10 490.50L368.25 491.09L368.40 490.14L368.55 490.63L368.70 490.96L368.85 490.81L369.00 490.56L369.15 489.05L369.30 490.28L369.45 488.35L369.60 488.80L369.75 488.17L369.90 490.81L370.05 489.90L370.20 487.91L370.35 490.45L370.50 489.39L370.65 490.01L370.80 490.03L370.95 489.86L371.10 491.57L371.25 489.68L371.40 491.65L371.55 489.66L371.70 488.84L371.85 491.49L372.00 489.67L372.15 490.09L372.30 490.43L372.45 491.12L372.60 489.53L372.75 489.65L372.90 490.18L373.05 489.94L373.20 488.96L373.35 491.52L373.50 491.67L373.65 488.65L373.80 488.38L373.95 489.44L374.10 489.69L374.25 489.17L374.40 490.76L374.55 491.35L374.70 490.66L374.85 488.80L375.00 489.87L375.15 490.24L375.30 489.99L375.45 489.85L375.60 490.40L375.75 491.76L375.90 490.73L376.05 489.85L376.20 492.85L376.35 491.07L376.50 491.87L376.65 490.61L376.80 490.20L376.95 490.94L377.10 490.71L377.25 490.38L377.40 490.44L377.55 491.75L377.70 490.78L377.85 491.37L378.00 490.58L378.15 492.83L378.30 490.53L378.45 491.28L378.60 490.46L378.75 490.95L378.90 489.51L379.05 490.31L379.20 490.70L379.35 490.26L379.50 492.58L379.65 490.74L379.80 491.43L379.95 489.78L380.10 492.37L380.25 489.61L380.40 489.38L380.55 491.00L380.70 490.88L380.85 491.84L381.00 490.90L381.15 491.99L381.30 490.50L381.45 491.35L381.60 490.33L381.75 489.63L381.90 491.88L382.05 489.32L382.20 491.01L382.35 490.09L382.50 488.67L382.65 490.97L382.80 491.39L382.95 489.78L383.10 489.91L383.25 490.04L383.40 489.35L383.55 490.40L383.70 489.29L383.85 488.85L384.00 487.66L384.15 487.27L384.30 488.46L384.45 488.97L384.60 488.45L384.75 487.16L384.90 487.48L385.05 486.00L385.20 487.75L385.35 488.08L385.50 486.44L385.65 485.77L385.80 485.48L385.95 486.14L386.10 487.34L386.25 487.93L386.40 488.72L386.55 486.17L386.70 487.14L386.85 487.14L387.00 487.39L387.15 486.33L387.30 487.16L387.45 490.12L387.60 487.43L387.75 486.15L387.90 486.75L388.05 486.70L388.20 488.74L388.35 486.33L388.50 488.03L388.65 488.13L388.80 487.40L388.95 489.63L389.10 486.90L389.25 487.07L389.40 489.37L389.55 487.88L389.70 487.73L389.85 488.62L390.00 489.11L390.15 488.66L390.30 487.43L390.45 488.75L390.60 489.36L390.75 488.72L390.90 486.40L391.05 488.92L391.20 489.28L391.35 487.70L391.50 487.81L391.65 488.73L391.80 487.45L391.95 487.63L392.10 490.92L392.25 487.74L392.40 490.10L392.55 488.48L392.70 486.90L392.85 488.48L393.00 489.13L393.15 488.31L393.30 489.50L393.45 488.29L393.60 487.55L393.75 489.24L393.90 488.05L394.05 488.38L394.20 488.88L394.35 487.99L394.50 486.44L394.65 488.48L394.80 487.38L394.95 488.69L395.10 486.69L395.25 486.72L395.40 485.13L395.55 487.12L395.70 485.69L395.85 486.91L396.00 488.87L396.15 487.04L396.30 489.29L396.45 488.12L396.60 488.36L396.75 488.40L396.90 489.36L397.05 488.89L397.20 489.87L397.35 491.05L397.50 490.15L397.65 488.83L397.80 489.49L397.95 492.18L398.10 490.38L398.25 491.62L398.40 490.38L398.55 491.46L398.70 488.43L398.85 491.31L399.00 490.66L399.15 490.33L399.30 492.22L399.45 489.29L399.60 491.57L399.75 490.57L399.90 491.34L400.05 490.42L400.20 490.84L400.35 489.55L400.50 491.13L400.65 490.84L400.80 488.67L400.95 491.14L401.05 491.39L401.10 489.51L401.25 484.08L401.40 478.00L401.55 484.64L401.70 489.05L401.75 490.63L401.85 488.89L402.00 491.38L402.15 491.84L402.30 492.59L402.45 490.12L402.60 489.53L402.75 491.30L402.90 492.40L403.05 490.97L403.20 492.13L403.35 491.59L403.50 492.35L403.65 491.64L403.80 492.10L403.95 491.31L404.10 491.33L404.25 491.85L404.40 491.92L404.55 491.38L404.70 491.72L404.85 492.95L405.00 491.14L405.15 491.05L405.30 491.94L405.45 491.00L405.60 491.27L405.75 493.01L405.90 492.26L406.05 491.94L406.20 491.27L406.35 491.28L406.50 491.39L406.65 491.56L406.80 492.03L406.95 493.59L407.10 492.28L407.25 491.48L407.40 491.81L407.55 491.33L407.70 491.20L407.85 490.98L408.00 491.30L408.15 489.94L408.30 492.07L408.45 491.68L408.60 491.65L408.75 490.90L408.90 490.89L409.05 490.06L409.20 490.38L409.35 490.72L409.50 489.94L409.65 489.94L409.80 490.93L409.95 491.17L410.10 492.36L410.25 490.71L410.40 490.21L410.55 489.94L410.70 491.15L410.85 490.01L411.00 489.98L411.15 490.11L411.30 489.46L411.45 490.94L411.60 489.85L411.75 491.39L411.90 492.13L412.05 490.52L412.20 492.90L412.35 490.69L412.50 489.91L412.65 490.97L412.80 490.65L412.95 490.41L413.10 489.62L413.25 491.65L413.40 490.54L413.55 492.21L413.70 490.38L413.85 490.47L414.00 490.18L414.15 489.99L414.30 489.09L414.45 490.12L414.60 488.68L414.75 489.48L414.90 490.48L415.05 491.01L415.20 490.03L415.35 489.49L415.50 490.40L415.65 489.90L415.80 489.12L415.95 488.26L416.10 489.97L416.25 491.46L416.40 488.06L416.55 489.85L416.70 488.31L416.85 490.67L417.00 489.94L417.15 490.24L417.30 488.89L417.45 488.50L417.60 489.93L417.75 489.79L417.90 489.48L418.05 489.35L418.20 488.48L418.35 488.28L418.50 491.76L418.65 489.93L418.80 488.50L418.95 488.39L419.10 489.46L419.25 489.25L419.40 488.08L419.55 490.45L419.70 489.88L419.85 490.13L420.00 490.38L420.15 491.30L420.30 487.23L420.45 491.21L420.60 490.07L420.75 490.18L420.90 487.67L421.05 488.14L421.20 487.57L421.35 487.79L421.50 488.37L421.65 488.74L421.80 488.70L421.95 489.17L422.10 486.75L422.25 488.34L422.40 488.73L422.55 488.69L422.70 488.34L422.85 487.96L423.00 487.74L423.15 488.18L423.30 486.40L423.45 487.38L423.60 488.15L423.75 487.20L423.90 488.56L424.05 487.86L424.20 486.77L424.35 489.07L424.50 488.15L424.65 486.33L424.80 488.05L424.95 486.85L425.10 485.95L425.25 486.31L425.40 487.89L425.55 487.58L425.70 488.72L425.85 485.63L426.00 486.76L426.15 487.15L426.30 487.28L426.45 487.29L426.60 488.62L426.75 484.31L426.90 485.90L427.05 487.62L427.20 486.51L427.35 487.10L427.50 484.29L427.65 485.98L427.80 486.50L427.95 486.37L428.10 488.51L428.25 485.37L428.40 485.18L428.55 485.92L428.70 486.00L428.85 484.37L429.00 486.81L429.15 486.15L429.30 486.30L429.45 485.13L429.60 485.59L429.75 485.49L429.90 485.44L430.05 484.45L430.20 486.97L430.35 486.01L430.50 485.58L430.65 483.41L430.80 484.20L430.95 485.54L431.10 485.14L431.25 483.66L431.40 484.01L431.55 484.40L431.70 486.08L431.85 483.89L432.00 485.37L432.15 484.56L432.30 483.56L432.45 486.20L432.60 483.88L432.75 485.63L432.90 483.81L433.05 483.11L433.20 485.66L433.35 484.87L433.50 482.33L433.65 485.30L433.80 483.71L433.95 484.45L434.10 483.31L434.25 484.76L434.40 483.34L434.55 484.19L434.70 483.29L434.85 483.15L435.00 484.07L435.15 482.30L435.30 482.58L435.45 483.85L435.60 482.37L435.75 482.63L435.90 482.81L436.05 481.84L436.20 480.13L436.35 483.25L436.50 481.60L436.65 481.01L436.80 481.72L436.95 482.50L437.10 481.24L437.25 480.86L437.40 479.76L437.55 480.01L437.70 480.50L437.85 478.54L438.00 480.39L438.15 480.14L438.30 476.03L438.45 478.58L438.60 477.69L438.75 476.53L438.90 477.51L439.05 474.23L439.20 473.83L439.35 472.14L439.50 472.03L439.65 469.52L439.80 468.26L439.95 466.29L440.10 465.49L440.25 464.84L440.40 462.32L440.55 460.35L440.70 459.85L440.85 459.42L441.00 456.64L441.15 455.23L441.30 455.17L441.45 453.32L441.60 452.56L441.75 449.66L441.90 448.09L442.05 445.91L442.20 445.10L442.35 443.22L442.50 443.93L442.65 442.69L442.80 444.70L442.95 446.17L443.10 445.60L443.25 446.49L443.40 446.59L443.55 445.94L443.70 449.48L443.85 448.93L444.00 450.06L444.15 450.38L444.30 454.30L444.45 451.61L444.60 455.31L444.75 456.77L444.90 457.98L445.05 458.62L445.20 458.33L445.35 461.09L445.50 462.91L445.65 461.45L445.80 462.83L445.95 462.85L446.10 463.70L446.25 462.94L446.40 463.79L446.55 466.53L446.70 465.19L446.85 464.88L447.00 464.90L447.15 468.11L447.30 467.00L447.45 470.43L447.60 467.61L447.75 469.74L447.90 468.67L448.05 470.02L448.20 470.50L448.35 473.06L448.50 470.66L448.65 471.28L448.80 471.52L448.95 471.68L449.10 472.36L449.25 474.47L449.40 473.14L449.55 474.45L449.70 472.97L449.85 474.82L450.00 475.51L450.15 473.61L450.30 474.89L450.45 476.94L450.60 476.65L450.75 476.68L450.90 478.19L451.05 477.16L451.20 478.25L451.35 478.42L451.50 477.95L451.65 478.47L451.80 480.75L451.95 478.78L452.10 478.66L452.25 478.99L452.40 476.95L452.55 479.28L452.70 480.63L452.85 480.14L453.00 479.83L453.15 477.96L453.30 481.24L453.45 481.27L453.60 481.01L453.75 479.14L453.90 481.31L454.05 480.51L454.20 481.76L454.35 480.82L454.50 482.98L454.65 481.75L454.80 482.67L454.95 481.35L455.10 482.09L455.25 483.65L455.40 481.96L455.55 484.08L455.70 482.17L455.85 484.48L456.00 486.17L456.15 484.45L456.30 482.64L456.45 484.67L456.60 485.22L456.75 485.33L456.90 483.35L457.05 484.26L457.20 486.19L457.35 485.34L457.50 485.22L457.65 485.29L457.80 485.42L457.95 484.71L458.10 484.83L458.25 485.92L458.40 486.11L458.55 485.27L458.70 486.16L458.85 486.82L459.00 486.80L459.15 486.61L459.30 486.89L459.45 485.29L459.60 487.09L459.75 486.69L459.90 487.68L460.05 487.12L460.20 487.63L460.35 488.51L460.50 487.94L460.65 488.58L460.80 487.17L460.95 488.09L461.10 489.57L461.25 488.03L461.40 486.90L461.55 488.99L461.70 488.90L461.85 488.49L462.00 488.36L462.15 489.80L462.30 489.57L462.45 489.31L462.60 487.70L462.75 489.07L462.90 489.66L463.05 488.39L463.20 488.63L463.35 487.73L463.50 490.44L463.65 489.99L463.80 489.13L463.95 490.22L464.10 489.88L464.25 490.90L464.40 489.05L464.55 490.09L464.70 488.04L464.85 490.68L465.00 488.21L465.15 490.38L465.30 488.72L465.45 488.35L465.60 490.38L465.75 491.98L465.90 489.24L466.05 489.49L466.20 490.56L466.35 489.99L466.50 489.71L466.65 490.78L466.80 489.28L466.95 489.99L467.10 491.61L467.25 491.53L467.40 492.74L467.55 488.59L467.70 491.68L467.85 491.08L468.00 490.39L468.15 490.91L468.30 490.29L468.45 490.82L468.60 491.13L468.75 489.05L468.90 491.79L469.05 492.16L469.20 493.19L469.35 493.95L469.50 490.89L469.65 491.22L469.80 490.41L469.95 491.46L470.10 491.91L470.25 491.96L470.40 490.97L470.55 489.80L470.70 491.38L470.85 490.49L471.00 490.94L471.15 491.26L471.30 490.98L471.45 492.36L471.60 490.63L471.75 490.38L471.90 492.07L472.05 490.70L472.20 490.81L472.35 491.68L472.50 490.14L472.65 490.17L472.80 491.33L472.95 490.74L473.10 490.57L473.25 491.50L473.40 491.32L473.55 490.54L473.70 491.21L473.85 491.14L474.00 491.02L474.15 489.74L474.30 490.82L474.45 489.12L474.60 491.02L474.75 491.23L474.90 491.99L475.05 489.68L475.20 488.96L475.35 487.89L475.50 488.99L475.65 489.10L475.80 489.76L475.95 488.04L476.10 485.85L476.25 484.95L476.40 486.91L476.55 487.51L476.70 487.81L476.85 487.43L477.00 488.83L477.15 489.99L477.30 489.68L477.45 491.20L477.60 489.51L477.75 488.15L477.90 491.14L478.05 488.77L478.20 490.71L478.35 489.12L478.50 491.94L478.65 491.06L478.80 490.49L478.95 490.76L479.10 490.24L479.25 491.09L479.40 491.87L479.55 491.62L479.70 491.24L479.85 492.40L480.00 492.43L480.15 491.65L480.30 491.96L480.45 491.70L480.60 490.97L480.75 491.15L480.90 492.14L481.05 491.27L481.20 490.20L481.35 490.81L481.50 491.11L481.65 493.09L481.80 490.70L481.95 491.80L482.10 492.04L482.25 493.21L482.40 494.98L482.55 492.70L482.70 491.80L482.85 492.39L483.00 493.84L483.15 492.11L483.30 491.46L483.45 493.53L483.60 490.21L483.75 493.16L483.90 492.26L484.05 491.59L484.20 492.40L484.35 495.26L484.50 493.23L484.65 492.09L484.80 492.81L484.95 492.31L485.10 491.28L485.25 492.63L485.40 493.92L485.55 492.83L485.70 494.38L485.85 493.15L486.00 491.07L486.15 492.42L486.30 494.17L486.45 493.98L486.60 491.96L486.75 492.42L486.90 492.65L487.05 494.55L487.20 493.20L487.35 493.74L487.50 493.50L487.65 493.65L487.80 494.39L487.95 493.13L488.10 493.79L488.25 494.44L488.40 492.38L488.55 492.76L488.70 492.93L488.85 493.77L489.00 494.20L489.15 494.34L489.30 492.74L489.45 493.45L489.60 493.29L489.75 494.96L489.90 494.93L490.05 493.00L490.20 492.57L490.35 492.10L490.50 494.26L490.65 493.79L490.80 491.66L490.95 492.36L491.10 494.95L491.25 494.88L491.40 492.66L491.55 492.99L491.70 491.69L491.85 494.83L492.00 493.20L492.15 495.63L492.30 493.59L492.45 493.80L492.60 494.99L492.75 492.26L492.90 492.33L493.05 492.74L493.20 492.77L493.35 494.06L493.50 494.10L493.65 494.26L493.80 493.61L493.95 493.19L494.10 493.34L494.25 492.22L494.40 491.40L494.55 492.97L494.70 491.93L494.85 491.94L495.00 491.62L495.15 491.15L495.30 493.90L495.45 494.07L495.60 495.03L495.75 492.66L495.90 494.78L496.05 492.95L496.20 490.89L496.35 492.85L496.50 493.64L496.65 493.47L496.80 494.48L496.95 492.94L497.10 493.55L497.25 493.80L497.40 493.60L497.55 493.32L497.70 493.14L497.85 492.90L498.00 494.00L498.15 493.24L498.30 492.74L498.45 493.06L498.60 493.57L498.75 492.72L498.90 493.34L499.05 491.54L499.20 492.89L499.35 492.29L499.50 491.34L499.65 492.36L499.80 493.18L499.95 491.40L500.10 492.71L500.25 492.94L500.40 492.48L500.55 493.96L500.70 493.29L500.85 492.93L501.00 492.75L501.15 492.99L501.30 491.53L501.45 492.55L501.60 494.11L501.75 491.40L501.90 493.97L502.05 493.34L502.20 494.15L502.35 491.20L502.50 493.58L502.65 493.39L502.80 493.61L502.95 491.20L503.10 492.18L503.25 493.45L503.40 492.75L503.55 491.98L503.70 491.47L503.85 492.65L504.00 492.55L504.15 493.03L504.30 493.52L504.45 491.87L504.60 493.74L504.75 490.73L504.90 492.66L505.05 491.56L505.20 492.87L505.35 491.59L505.50 492.14L505.65 491.23L505.80 492.63L505.95 490.88L506.10 492.41L506.25 492.63L506.40 492.88L506.55 491.36L506.70 494.26L506.85 493.15L507.00 493.69L507.15 493.75L507.30 492.97L507.45 493.43L507.60 492.88L507.75 493.07L507.90 493.34L508.05 493.45L508.20 492.06L508.35 492.74L508.50 492.78L508.65 491.35L508.80 494.04L508.95 492.73L509.10 491.44L509.25 493.30L509.40 493.62L509.55 493.09L509.70 491.52L509.85 492.52L510.00 493.74L510.15 493.66L510.30 493.02L510.45 491.23L510.60 492.98L510.75 492.31L510.90 491.51L511.05 490.52L511.20 493.98L511.35 492.20L511.50 491.31L511.65 491.34L511.80 492.33L511.95 491.79" fill="none" stroke="#1212cc" stroke-width="0.7" stroke-linejoin="round" opacity="1"/><text x="196.50" y="275.10" font-size="8.10" fill="#1e1e1e" font-weight="normal" text-anchor="start" textLength="42.66" lengthAdjust="spacingAndGlyphs" stroke="#1e1e1e" stroke-width="0.18">Di, Old, Pyh,</text><text x="204.60" y="285.00" font-size="8.10" fill="#1e1e1e" font-weight="normal" text-anchor="start" textLength="28.30" lengthAdjust="spacingAndGlyphs" stroke="#1e1e1e" stroke-width="0.18">Mag, En</text><text x="223.60" y="303.20" font-size="8.10" fill="#1e1e1e" font-weight="normal" text-anchor="start" textLength="26.62" lengthAdjust="spacingAndGlyphs" stroke="#1e1e1e" stroke-width="0.18">En, Pyh</text><text x="240.50" y="312.00" font-size="8.10" fill="#1e1e1e" font-weight="normal" text-anchor="start" textLength="8.87" lengthAdjust="spacingAndGlyphs" stroke="#1e1e1e" stroke-width="0.18">Fa</text><text x="251.90" y="293.20" font-size="8.10" fill="#1e1e1e" font-weight="normal" text-anchor="start" textLength="8.87" lengthAdjust="spacingAndGlyphs" stroke="#1e1e1e" stroke-width="0.18">Fo</text><text x="262.40" y="307.90" font-size="8.10" fill="#1e1e1e" font-weight="normal" text-anchor="start" textLength="11.12" lengthAdjust="spacingAndGlyphs" stroke="#1e1e1e" stroke-width="0.18">Tro</text><text x="287.50" y="274.60" font-size="8.10" fill="#1e1e1e" font-weight="normal" text-anchor="start" textLength="41.40" lengthAdjust="spacingAndGlyphs" stroke="#1e1e1e" stroke-width="0.18">En, Mag, Fo</text><text x="313.10" y="284.30" font-size="8.10" fill="#1e1e1e" font-weight="normal" text-anchor="start" textLength="27.88" lengthAdjust="spacingAndGlyphs" stroke="#1e1e1e" stroke-width="0.18">Fo, Mag</text><text x="330.50" y="293.20" font-size="8.10" fill="#1e1e1e" font-weight="normal" text-anchor="start" textLength="9.30" lengthAdjust="spacingAndGlyphs" stroke="#1e1e1e" stroke-width="0.18">En</text><text x="338.20" y="313.60" font-size="8.10" fill="#1e1e1e" font-weight="normal" text-anchor="start" textLength="21.96" lengthAdjust="spacingAndGlyphs" stroke="#1e1e1e" stroke-width="0.18">Fo, Fa</text><text x="364.00" y="316.70" font-size="8.10" fill="#1e1e1e" font-weight="normal" text-anchor="start" textLength="8.87" lengthAdjust="spacingAndGlyphs" stroke="#1e1e1e" stroke-width="0.18">Fo</text><text x="386.60" y="319.40" font-size="8.10" fill="#1e1e1e" font-weight="normal" text-anchor="start" textLength="22.39" lengthAdjust="spacingAndGlyphs" stroke="#1e1e1e" stroke-width="0.18">Fa, En</text><text x="399.60" y="329.00" font-size="8.10" fill="#1e1e1e" font-weight="normal" text-anchor="start" textLength="8.87" lengthAdjust="spacingAndGlyphs" stroke="#1e1e1e" stroke-width="0.18">Fo</text><text x="409.80" y="308.30" font-size="8.10" fill="#1e1e1e" font-weight="normal" text-anchor="start" textLength="8.87" lengthAdjust="spacingAndGlyphs" stroke="#1e1e1e" stroke-width="0.18">Fo</text><text x="430.90" y="314.00" font-size="8.10" fill="#1e1e1e" font-weight="normal" text-anchor="start" textLength="9.30" lengthAdjust="spacingAndGlyphs" stroke="#1e1e1e" stroke-width="0.18">En</text><text x="460.00" y="300.60" font-size="8.10" fill="#1e1e1e" font-weight="normal" text-anchor="start" textLength="43.64" lengthAdjust="spacingAndGlyphs" stroke="#1e1e1e" stroke-width="0.18">Tro, Pyh, Fo,</text><text x="459.70" y="310.50" font-size="8.10" fill="#1e1e1e" font-weight="normal" text-anchor="start" textLength="43.93" lengthAdjust="spacingAndGlyphs" stroke="#1e1e1e" stroke-width="0.18">En, Cal, Mag</text><text x="449.40" y="340.40" font-size="8.10" fill="#1e1e1e" font-weight="normal" text-anchor="start" textLength="11.12" lengthAdjust="spacingAndGlyphs" stroke="#1e1e1e" stroke-width="0.18">Tro</text><text x="317.80" y="335.60" font-size="8.10" fill="#1e1e1e" font-weight="normal" text-anchor="start" textLength="8.87" lengthAdjust="spacingAndGlyphs" stroke="#1e1e1e" stroke-width="0.18">Fa</text><text x="376.90" y="388.70" font-size="8.10" fill="#1e1e1e" font-weight="normal" text-anchor="start" textLength="9.30" lengthAdjust="spacingAndGlyphs" stroke="#1e1e1e" stroke-width="0.18">Pn</text><text x="210.00" y="421.40" font-size="8.10" fill="#1e1e1e" font-weight="normal" text-anchor="start" textLength="11.12" lengthAdjust="spacingAndGlyphs" stroke="#1e1e1e" stroke-width="0.18">Tro</text><text x="273.60" y="442.70" font-size="8.10" fill="#1e1e1e" font-weight="normal" text-anchor="start" textLength="24.50" lengthAdjust="spacingAndGlyphs" stroke="#1e1e1e" stroke-width="0.18">Lz, Cro</text><text x="210.80" y="449.70" font-size="8.10" fill="#1e1e1e" font-weight="normal" text-anchor="start" textLength="40.13" lengthAdjust="spacingAndGlyphs" stroke="#1e1e1e" stroke-width="0.18">En, Pyh, Pn</text><text x="195.70" y="461.90" font-size="8.10" fill="#1e1e1e" font-weight="normal" text-anchor="start" textLength="28.73" lengthAdjust="spacingAndGlyphs" stroke="#1e1e1e" stroke-width="0.18">Pyh, Pn,</text><text x="195.70" y="471.60" font-size="8.10" fill="#1e1e1e" font-weight="normal" text-anchor="start" textLength="28.30" lengthAdjust="spacingAndGlyphs" stroke="#1e1e1e" stroke-width="0.18">Mag, En</text><text x="250.10" y="464.10" font-size="8.10" fill="#1e1e1e" font-weight="normal" text-anchor="start" textLength="24.50" lengthAdjust="spacingAndGlyphs" stroke="#1e1e1e" stroke-width="0.18">Lz, Cro</text><text x="237.90" y="482.30" font-size="8.10" fill="#1e1e1e" font-weight="normal" text-anchor="start" textLength="8.87" lengthAdjust="spacingAndGlyphs" stroke="#1e1e1e" stroke-width="0.18">Fo</text><text x="340.70" y="465.60" font-size="8.10" fill="#1e1e1e" font-weight="normal" text-anchor="start" textLength="10.56" lengthAdjust="spacingAndGlyphs" stroke="#1e1e1e" stroke-width="0.18">Thi</text><text x="384.10" y="482.20" font-size="8.10" fill="#1e1e1e" font-weight="normal" text-anchor="start" textLength="10.56" lengthAdjust="spacingAndGlyphs" stroke="#1e1e1e" stroke-width="0.18">Thi</text><text x="398.00" y="472.90" font-size="8.10" fill="#1e1e1e" font-weight="normal" text-anchor="start" textLength="9.30" lengthAdjust="spacingAndGlyphs" stroke="#1e1e1e" stroke-width="0.18">En</text><text x="405.90" y="466.20" font-size="8.10" fill="#1e1e1e" font-weight="normal" text-anchor="start" textLength="24.50" lengthAdjust="spacingAndGlyphs" stroke="#1e1e1e" stroke-width="0.18">Lz, Cro</text><text x="457.00" y="475.20" font-size="8.10" fill="#1e1e1e" font-weight="normal" text-anchor="start" textLength="47.73" lengthAdjust="spacingAndGlyphs" stroke="#1e1e1e" stroke-width="0.18">Pyh, Cal, Mag</text><line x1="210.00" y1="287.70" x2="207.70" y2="297.70" stroke="#1b5b78" stroke-width="1.65"/><line x1="320.80" y1="286.90" x2="326.80" y2="301.40" stroke="#1b5b78" stroke-width="1.65"/><line x1="335.40" y1="298.90" x2="330.00" y2="303.90" stroke="#1b5b78" stroke-width="1.65"/><line x1="335.40" y1="298.90" x2="333.10" y2="309.30" stroke="#1b5b78" stroke-width="1.65"/><line x1="414.20" y1="314.70" x2="414.20" y2="323.50" stroke="#1b5b78" stroke-width="1.65"/><line x1="431.60" y1="317.30" x2="419.60" y2="326.00" stroke="#1b5b78" stroke-width="1.65"/><line x1="431.60" y1="317.30" x2="426.20" y2="327.00" stroke="#1b5b78" stroke-width="1.65"/><line x1="230.70" y1="455.50" x2="230.70" y2="485.50" stroke="#1b5b78" stroke-width="1.65"/><line x1="302.70" y1="427.40" x2="294.50" y2="436.90" stroke="#1b5b78" stroke-width="1.65"/><line x1="440.00" y1="449.70" x2="433.20" y2="464.00" stroke="#1b5b78" stroke-width="1.65"/><text x="489.40" y="343.70" font-size="8.20" fill="#7e22f0" font-weight="normal" text-anchor="start" textLength="62.97" lengthAdjust="spacingAndGlyphs" stroke="#7e22f0" stroke-width="0.18">ALH 83100 750°C</text><text x="489.40" y="381.00" font-size="8.20" fill="#141414" font-weight="normal" text-anchor="start" textLength="62.97" lengthAdjust="spacingAndGlyphs" stroke="#141414" stroke-width="0.18">ALH 83100 650°C</text><text x="489.20" y="411.40" font-size="8.20" fill="#22aa22" font-weight="normal" text-anchor="start" textLength="62.97" lengthAdjust="spacingAndGlyphs" stroke="#22aa22" stroke-width="0.18">ALH 83100 600°C</text><text x="491.20" y="452.20" font-size="8.20" fill="#ee1111" font-weight="normal" text-anchor="start" textLength="62.97" lengthAdjust="spacingAndGlyphs" stroke="#ee1111" stroke-width="0.18">ALH 83100 575°C</text><text x="494.50" y="487.60" font-size="8.20" fill="#1212cc" font-weight="normal" text-anchor="start" textLength="58.63" lengthAdjust="spacingAndGlyphs" stroke="#1212cc" stroke-width="0.18">ALH 83100 28°C</text></svg>
</body></html>
